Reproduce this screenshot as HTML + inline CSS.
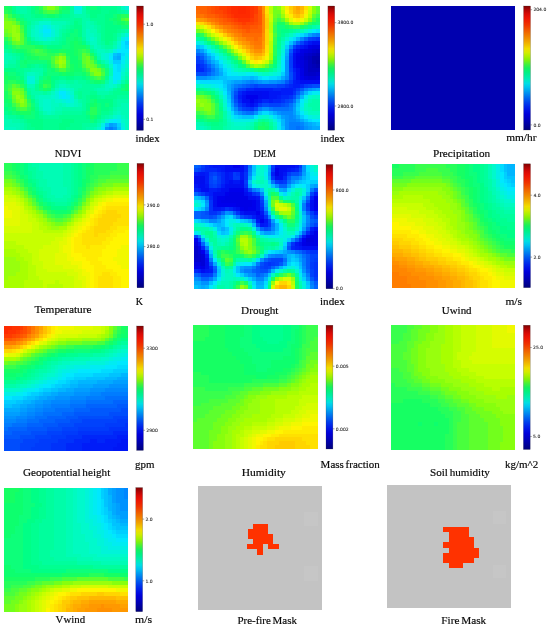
<!DOCTYPE html>
<html lang="en"><head><meta charset="utf-8"><title>Input features</title>
<style>html,body{margin:0;padding:0;background:#fff}body{width:550px;height:628px;overflow:hidden}svg{display:block}.lb{font-family:"Liberation Serif","DejaVu Serif",serif;font-size:11px;fill:#0a0a0a;stroke:#0a0a0a;stroke-width:.18px;word-spacing:-1px}.tk{font-family:"DejaVu Sans","Liberation Sans",sans-serif;font-size:4.5px;fill:#1a1a1a;stroke:#1a1a1a;stroke-width:.07px}</style></head><body>
<svg width="550" height="628" viewBox="0 0 550 628">
<defs><linearGradient id="jet" x1="0" y1="0" x2="0" y2="1"><stop offset="0.0000" stop-color="#870303"/><stop offset="0.0312" stop-color="#bc0606"/><stop offset="0.0625" stop-color="#e50b07"/><stop offset="0.0938" stop-color="#fa1405"/><stop offset="0.1250" stop-color="#fd2502"/><stop offset="0.1562" stop-color="#ff3a00"/><stop offset="0.1875" stop-color="#ff5700"/><stop offset="0.2188" stop-color="#ff7400"/><stop offset="0.2500" stop-color="#ff8f00"/><stop offset="0.2812" stop-color="#ffab00"/><stop offset="0.3125" stop-color="#ffcb00"/><stop offset="0.3438" stop-color="#ffeb00"/><stop offset="0.3750" stop-color="#e3fa00"/><stop offset="0.4062" stop-color="#b7ff03"/><stop offset="0.4375" stop-color="#87ff0e"/><stop offset="0.4688" stop-color="#4aff3e"/><stop offset="0.5000" stop-color="#18ff64"/><stop offset="0.5312" stop-color="#04ff86"/><stop offset="0.5625" stop-color="#00fda9"/><stop offset="0.5938" stop-color="#00f9cc"/><stop offset="0.6250" stop-color="#00ecf2"/><stop offset="0.6562" stop-color="#00cfff"/><stop offset="0.6875" stop-color="#00aaff"/><stop offset="0.7188" stop-color="#0087ff"/><stop offset="0.7500" stop-color="#0064fe"/><stop offset="0.7812" stop-color="#0043fc"/><stop offset="0.8125" stop-color="#0027f9"/><stop offset="0.8438" stop-color="#0010f2"/><stop offset="0.8750" stop-color="#0000e6"/><stop offset="0.9062" stop-color="#0000d0"/><stop offset="0.9375" stop-color="#0000b8"/><stop offset="0.9688" stop-color="#00009e"/><stop offset="1.0000" stop-color="#000083"/></linearGradient><filter id="soft" x="-5%" y="-5%" width="110%" height="110%"><feGaussianBlur stdDeviation="0.55"/></filter></defs>
<rect width="550" height="628" fill="#fff"/>
<g shape-rendering="crispEdges">
<g id="ndvi" filter="url(#soft)">
<rect x="4.10" y="5.90" width="124.40" height="124.50" fill="#01ff91"/>
<path fill="#007bff" d="M109.06 126.51h3.89v3.89h-3.89z"/>
<path fill="#0092ff" d="M105.17 126.51h3.89v3.89h-3.89zM112.95 126.51h3.89v3.89h-3.89z"/>
<path fill="#009eff" d="M109.06 122.62h3.89v3.89h-3.89z"/>
<path fill="#00aaff" d="M116.84 56.48h3.88v3.89h-3.88zM112.95 122.62h3.89v3.89h-3.89z"/>
<path fill="#00b6ff" d="M116.84 52.59h3.88v3.89h-3.88zM112.95 56.48h3.89v3.89h-3.89z"/>
<path fill="#00c3ff" d="M112.95 52.59h3.89v3.89h-3.89zM105.17 122.62h3.89v3.89h-3.89zM116.84 126.51h3.88v3.89h-3.88z"/>
<path fill="#00cfff" d="M124.61 40.92h3.89v3.89h-3.89zM112.95 60.37h7.77v3.89h-7.77zM116.84 122.62h3.88v3.89h-3.88z"/>
<path fill="#00dcff" d="M124.61 44.81h3.89v3.89h-3.89zM120.72 52.59h3.89v3.89h-3.89zM116.84 64.26h3.88v3.89h-3.88zM116.84 68.15h3.88v3.89h-3.88z"/>
<path fill="#00e8fe" d="M42.98 29.24h7.77v3.89h-7.77zM124.61 37.02h3.89v3.9h-3.89zM120.72 40.92h3.89v3.89h-3.89zM120.72 44.81h3.89v3.89h-3.89zM116.84 48.7h11.66v3.89h-11.66zM109.06 56.48h3.89v3.89h-3.89zM120.72 56.48h3.89v3.89h-3.89zM112.95 64.26h3.89v3.89h-3.89zM112.95 68.15h3.89v3.89h-3.89zM112.95 72.04h7.77v3.89h-7.77zM112.95 75.93h7.77v3.89h-7.77zM58.53 91.49h7.77v3.89h-7.77zM62.41 95.38h3.89v3.9h-3.89zM112.95 118.73h3.89v3.89h-3.89zM101.29 126.51h3.88v3.89h-3.88z"/>
<path fill="#00ecf2" d="M42.98 25.35h3.88v3.89h-3.88zM42.98 33.13h7.77v3.89h-7.77zM109.06 52.59h3.89v3.89h-3.89zM124.61 52.59h3.89v3.89h-3.89zM120.72 60.37h3.89v3.89h-3.89zM112.95 79.82h3.89v3.89h-3.89zM58.53 95.38h3.88v3.9h-3.88zM66.3 95.38h3.89v3.9h-3.89zM109.06 118.73h3.89v3.89h-3.89zM116.84 118.73h3.88v3.89h-3.88z"/>
<path fill="#00f0e5" d="M74.08 5.9h7.77v3.89h-7.77zM46.86 25.35h3.89v3.89h-3.89zM39.09 29.24h3.89v3.89h-3.89zM120.72 37.02h3.89v3.9h-3.89zM112.95 48.7h3.89v3.89h-3.89zM124.61 56.48h3.89v3.89h-3.89zM109.06 60.37h3.89v3.89h-3.89zM120.72 64.26h3.89v3.89h-3.89zM66.3 91.49h3.89v3.89h-3.89zM66.3 99.28h3.89v3.89h-3.89zM101.29 122.62h3.88v3.89h-3.88zM120.72 126.51h3.89v3.89h-3.89z"/>
<path fill="#00f4d9" d="M124.61 5.9h3.89v3.89h-3.89zM39.09 25.35h3.89v3.89h-3.89zM50.75 29.24h3.89v3.89h-3.89zM39.09 33.13h3.89v3.89h-3.89zM50.75 33.13h3.89v3.89h-3.89zM124.61 33.13h3.89v3.89h-3.89zM42.98 37.02h3.88v3.9h-3.88zM116.84 44.81h3.88v3.89h-3.88zM105.17 52.59h3.89v3.89h-3.89zM105.17 56.48h3.89v3.89h-3.89zM124.61 60.37h3.89v3.89h-3.89zM120.72 68.15h3.89v3.89h-3.89zM27.43 75.93h7.77v3.89h-7.77zM27.43 79.82h7.77v3.89h-7.77zM116.84 79.82h3.88v3.89h-3.88zM58.53 87.6h7.77v3.89h-7.77zM54.64 91.49h3.89v3.89h-3.89zM54.64 95.38h3.89v3.9h-3.89zM70.19 95.38h3.89v3.9h-3.89zM62.41 99.28h3.89v3.89h-3.89zM70.19 99.28h3.89v3.89h-3.89zM116.84 114.84h3.88v3.89h-3.88zM105.17 118.73h3.89v3.89h-3.89zM120.72 122.62h3.89v3.89h-3.89z"/>
<path fill="#00f9cc" d="M74.08 9.79h7.77v3.89h-7.77zM39.09 21.46h11.66v3.89h-11.66zM35.2 25.35h3.89v3.89h-3.89zM50.75 25.35h3.89v3.89h-3.89zM35.2 29.24h3.89v3.89h-3.89zM35.2 33.13h3.89v3.89h-3.89zM39.09 37.02h3.89v3.9h-3.89zM46.86 37.02h3.89v3.9h-3.89zM89.62 37.02h3.89v3.9h-3.89zM116.84 40.92h3.88v3.89h-3.88zM101.29 52.59h3.88v3.89h-3.88zM101.29 56.48h3.88v3.89h-3.88zM109.06 64.26h3.89v3.89h-3.89zM124.61 64.26h3.89v3.89h-3.89zM120.72 72.04h3.89v3.89h-3.89zM109.06 75.93h3.89v3.89h-3.89zM109.06 79.82h3.89v3.89h-3.89zM109.06 83.71h3.89v3.89h-3.89zM66.3 87.6h3.89v3.89h-3.89zM70.19 91.49h3.89v3.89h-3.89zM50.75 95.38h3.89v3.9h-3.89zM42.98 99.28h7.77v3.89h-7.77zM54.64 99.28h7.77v3.89h-7.77zM42.98 103.17h7.77v3.89h-7.77zM66.3 103.17h7.78v3.89h-7.78zM42.98 107.06h7.77v3.89h-7.77zM112.95 114.84h3.89v3.89h-3.89zM120.72 118.73h3.89v3.89h-3.89zM97.4 126.51h3.89v3.89h-3.89z"/>
<path fill="#00fbc0" d="M120.72 5.9h3.89v3.89h-3.89zM54.64 25.35h3.89v3.89h-3.89zM31.31 29.24h3.89v3.89h-3.89zM54.64 29.24h3.89v3.89h-3.89zM85.74 29.24h3.88v3.89h-3.88zM31.31 33.13h3.89v3.89h-3.89zM54.64 33.13h3.89v3.89h-3.89zM85.74 33.13h7.77v3.89h-7.77zM120.72 33.13h3.89v3.89h-3.89zM35.2 37.02h3.89v3.9h-3.89zM50.75 37.02h3.89v3.9h-3.89zM85.74 37.02h3.88v3.9h-3.88zM93.51 37.02h3.89v3.9h-3.89zM89.62 40.92h7.78v3.89h-7.78zM93.51 44.81h3.89v3.89h-3.89zM97.4 48.7h7.77v3.89h-7.77zM109.06 48.7h3.89v3.89h-3.89zM105.17 60.37h3.89v3.89h-3.89zM124.61 68.15h3.89v3.89h-3.89zM27.43 72.04h7.77v3.89h-7.77zM120.72 75.93h3.89v3.89h-3.89zM58.53 83.71h7.77v3.89h-7.77zM105.17 83.71h3.89v3.89h-3.89zM112.95 83.71h3.89v3.89h-3.89zM54.64 87.6h3.89v3.89h-3.89zM70.19 87.6h3.89v3.89h-3.89zM105.17 87.6h3.89v3.89h-3.89zM50.75 91.49h3.89v3.89h-3.89zM39.09 95.38h11.66v3.9h-11.66zM39.09 99.28h3.89v3.89h-3.89zM50.75 99.28h3.89v3.89h-3.89zM74.08 99.28h3.88v3.89h-3.88zM39.09 103.17h3.89v3.89h-3.89zM50.75 103.17h7.78v3.89h-7.78zM62.41 103.17h3.89v3.89h-3.89zM74.08 103.17h3.88v3.89h-3.88zM50.75 107.06h3.89v3.89h-3.89zM46.86 110.95h3.89v3.89h-3.89zM116.84 110.95h3.88v3.89h-3.88zM120.72 114.84h3.89v3.89h-3.89zM124.61 118.73h3.89v3.89h-3.89zM124.61 122.62h3.89v3.89h-3.89zM4.1 126.51h11.66v3.89h-11.66zM124.61 126.51h3.89v3.89h-3.89z"/>
<path fill="#00fcb5" d="M35.2 21.46h3.89v3.89h-3.89zM50.75 21.46h15.55v3.89h-15.55zM85.74 21.46h3.88v3.89h-3.88zM31.31 25.35h3.89v3.89h-3.89zM58.53 25.35h3.88v3.89h-3.88zM85.74 25.35h7.77v3.89h-7.77zM89.62 29.24h7.78v3.89h-7.78zM93.51 33.13h3.89v3.89h-3.89zM116.84 37.02h3.88v3.9h-3.88zM97.4 44.81h3.89v3.89h-3.89zM112.95 44.81h3.89v3.89h-3.89zM105.17 48.7h3.89v3.89h-3.89zM4.1 52.59h3.89v3.89h-3.89zM97.4 52.59h3.89v3.89h-3.89zM4.1 56.48h7.78v3.89h-7.78zM4.1 60.37h3.89v3.89h-3.89zM109.06 68.15h3.89v3.89h-3.89zM35.2 72.04h3.89v3.89h-3.89zM109.06 72.04h3.89v3.89h-3.89zM124.61 72.04h3.89v3.89h-3.89zM35.2 75.93h3.89v3.89h-3.89zM27.43 83.71h7.77v3.89h-7.77zM66.3 83.71h3.89v3.89h-3.89zM97.4 87.6h7.77v3.89h-7.77zM109.06 87.6h3.89v3.89h-3.89zM35.2 95.38h3.89v3.9h-3.89zM58.53 103.17h3.88v3.89h-3.88zM77.96 103.17h3.89v3.89h-3.89zM120.72 103.17h7.78v3.89h-7.78zM39.09 107.06h3.89v3.89h-3.89zM54.64 107.06h7.77v3.89h-7.77zM116.84 107.06h11.66v3.89h-11.66zM42.98 110.95h3.88v3.89h-3.88zM50.75 110.95h3.89v3.89h-3.89zM112.95 110.95h3.89v3.89h-3.89zM120.72 110.95h7.78v3.89h-7.78zM109.06 114.84h3.89v3.89h-3.89zM124.61 114.84h3.89v3.89h-3.89zM4.1 118.73h7.78v3.89h-7.78zM101.29 118.73h3.88v3.89h-3.88zM4.1 122.62h15.55v3.89h-15.55zM97.4 122.62h3.89v3.89h-3.89zM15.76 126.51h3.89v3.89h-3.89zM93.51 126.51h3.89v3.89h-3.89z"/>
<path fill="#00fda9" d="M15.76 5.9h11.67v3.89h-11.67zM81.85 5.9h3.89v3.89h-3.89zM19.65 9.79h7.78v3.89h-7.78zM81.85 9.79h3.89v3.89h-3.89zM124.61 9.79h3.89v3.89h-3.89zM74.08 13.68h11.66v3.89h-11.66zM42.98 17.57h7.77v3.89h-7.77zM81.85 17.57h7.77v3.89h-7.77zM31.31 21.46h3.89v3.89h-3.89zM66.3 21.46h3.89v3.89h-3.89zM81.85 21.46h3.89v3.89h-3.89zM89.62 21.46h3.89v3.89h-3.89zM62.41 25.35h3.89v3.89h-3.89zM81.85 25.35h3.89v3.89h-3.89zM93.51 25.35h3.89v3.89h-3.89zM58.53 29.24h3.88v3.89h-3.88zM81.85 29.24h3.89v3.89h-3.89zM124.61 29.24h3.89v3.89h-3.89zM58.53 33.13h3.88v3.89h-3.88zM81.85 33.13h3.89v3.89h-3.89zM97.4 33.13h3.89v3.89h-3.89zM116.84 33.13h3.88v3.89h-3.88zM31.31 37.02h3.89v3.9h-3.89zM54.64 37.02h3.89v3.9h-3.89zM97.4 37.02h3.89v3.9h-3.89zM42.98 40.92h7.77v3.89h-7.77zM85.74 40.92h3.88v3.89h-3.88zM97.4 40.92h3.89v3.89h-3.89zM112.95 40.92h3.89v3.89h-3.89zM89.62 44.81h3.89v3.89h-3.89zM101.29 44.81h3.88v3.89h-3.88zM93.51 48.7h3.89v3.89h-3.89zM7.99 52.59h3.89v3.89h-3.89zM11.88 56.48h3.88v3.89h-3.88zM97.4 56.48h3.89v3.89h-3.89zM7.99 60.37h7.77v3.89h-7.77zM101.29 60.37h3.88v3.89h-3.88zM4.1 64.26h3.89v3.89h-3.89zM31.31 68.15h11.67v3.89h-11.67zM23.54 72.04h3.89v3.89h-3.89zM39.09 72.04h3.89v3.89h-3.89zM23.54 75.93h3.89v3.89h-3.89zM124.61 75.93h3.89v3.89h-3.89zM35.2 79.82h3.89v3.89h-3.89zM58.53 79.82h7.77v3.89h-7.77zM74.08 79.82h3.88v3.89h-3.88zM105.17 79.82h3.89v3.89h-3.89zM120.72 79.82h3.89v3.89h-3.89zM54.64 83.71h3.89v3.89h-3.89zM70.19 83.71h11.66v3.89h-11.66zM101.29 83.71h3.88v3.89h-3.88zM116.84 83.71h3.88v3.89h-3.88zM31.31 87.6h3.89v3.89h-3.89zM74.08 87.6h3.88v3.89h-3.88zM93.51 87.6h3.89v3.89h-3.89zM31.31 91.49h11.67v3.89h-11.67zM46.86 91.49h3.89v3.89h-3.89zM97.4 91.49h11.66v3.89h-11.66zM74.08 95.38h3.88v3.9h-3.88zM35.2 99.28h3.89v3.89h-3.89zM77.96 99.28h3.89v3.89h-3.89zM116.84 99.28h11.66v3.89h-11.66zM116.84 103.17h3.88v3.89h-3.88zM62.41 107.06h19.44v3.89h-19.44zM112.95 107.06h3.89v3.89h-3.89zM54.64 110.95h7.77v3.89h-7.77zM4.1 114.84h3.89v3.89h-3.89zM105.17 114.84h3.89v3.89h-3.89zM11.88 118.73h7.77v3.89h-7.77zM19.65 122.62h3.89v3.89h-3.89zM19.65 126.51h3.89v3.89h-3.89zM85.74 126.51h7.77v3.89h-7.77z"/>
<path fill="#00fe9d" d="M27.43 5.9h3.88v3.89h-3.88zM70.19 5.9h3.89v3.89h-3.89zM116.84 5.9h3.88v3.89h-3.88zM15.76 9.79h3.89v3.89h-3.89zM27.43 9.79h3.88v3.89h-3.88zM70.19 9.79h3.89v3.89h-3.89zM120.72 9.79h3.89v3.89h-3.89zM23.54 13.68h7.77v3.89h-7.77zM70.19 13.68h3.89v3.89h-3.89zM85.74 13.68h3.88v3.89h-3.88zM27.43 17.57h15.55v3.89h-15.55zM50.75 17.57h23.33v3.89h-23.33zM70.19 21.46h3.89v3.89h-3.89zM93.51 21.46h3.89v3.89h-3.89zM27.43 25.35h3.88v3.89h-3.88zM66.3 25.35h3.89v3.89h-3.89zM97.4 25.35h3.89v3.89h-3.89zM27.43 29.24h3.88v3.89h-3.88zM62.41 29.24h3.89v3.89h-3.89zM97.4 29.24h3.89v3.89h-3.89zM120.72 29.24h3.89v3.89h-3.89zM27.43 33.13h3.88v3.89h-3.88zM58.53 37.02h3.88v3.9h-3.88zM81.85 37.02h3.89v3.9h-3.89zM39.09 40.92h3.89v3.89h-3.89zM50.75 40.92h7.78v3.89h-7.78zM101.29 40.92h3.88v3.89h-3.88zM105.17 44.81h7.78v3.89h-7.78zM4.1 48.7h3.89v3.89h-3.89zM11.88 52.59h3.88v3.89h-3.88zM15.76 56.48h3.89v3.89h-3.89zM7.99 64.26h7.77v3.89h-7.77zM35.2 64.26h3.89v3.89h-3.89zM105.17 64.26h3.89v3.89h-3.89zM23.54 68.15h7.77v3.89h-7.77zM23.54 79.82h3.89v3.89h-3.89zM54.64 79.82h3.89v3.89h-3.89zM66.3 79.82h7.78v3.89h-7.78zM77.96 79.82h7.78v3.89h-7.78zM81.85 83.71h19.44v3.89h-19.44zM27.43 87.6h3.88v3.89h-3.88zM50.75 87.6h3.89v3.89h-3.89zM77.96 87.6h15.55v3.89h-15.55zM112.95 87.6h3.89v3.89h-3.89zM42.98 91.49h3.88v3.89h-3.88zM74.08 91.49h3.88v3.89h-3.88zM81.85 91.49h7.77v3.89h-7.77zM109.06 91.49h3.89v3.89h-3.89zM31.31 95.38h3.89v3.9h-3.89zM81.85 95.38h3.89v3.9h-3.89zM101.29 95.38h3.88v3.9h-3.88zM116.84 95.38h11.66v3.9h-11.66zM81.85 99.28h3.89v3.89h-3.89zM112.95 99.28h3.89v3.89h-3.89zM35.2 103.17h3.89v3.89h-3.89zM81.85 103.17h3.89v3.89h-3.89zM112.95 103.17h3.89v3.89h-3.89zM81.85 107.06h3.89v3.89h-3.89zM39.09 110.95h3.89v3.89h-3.89zM62.41 110.95h19.44v3.89h-19.44zM109.06 110.95h3.89v3.89h-3.89zM7.99 114.84h7.77v3.89h-7.77zM42.98 114.84h15.55v3.89h-15.55zM101.29 114.84h3.88v3.89h-3.88zM19.65 118.73h3.89v3.89h-3.89zM97.4 118.73h3.89v3.89h-3.89zM23.54 122.62h3.89v3.89h-3.89zM81.85 122.62h15.55v3.89h-15.55zM23.54 126.51h3.89v3.89h-3.89zM81.85 126.51h3.89v3.89h-3.89z"/>
<path fill="#04ff86" d="M31.31 5.9h3.89v3.89h-3.89zM85.74 5.9h3.88v3.89h-3.88zM97.4 5.9h3.89v3.89h-3.89zM11.88 9.79h3.88v3.89h-3.88zM31.31 9.79h3.89v3.89h-3.89zM89.62 9.79h11.67v3.89h-11.67zM109.06 9.79h7.78v3.89h-7.78zM35.2 13.68h7.78v3.89h-7.78zM58.53 13.68h3.88v3.89h-3.88zM89.62 13.68h7.78v3.89h-7.78zM105.17 13.68h7.78v3.89h-7.78zM105.17 17.57h3.89v3.89h-3.89zM74.08 21.46h3.88v3.89h-3.88zM105.17 21.46h7.78v3.89h-7.78zM74.08 25.35h7.77v3.89h-7.77zM105.17 25.35h15.55v3.89h-15.55zM70.19 29.24h3.89v3.89h-3.89zM77.96 29.24h3.89v3.89h-3.89zM105.17 29.24h11.67v3.89h-11.67zM66.3 33.13h3.89v3.89h-3.89zM77.96 33.13h3.89v3.89h-3.89zM105.17 33.13h7.78v3.89h-7.78zM27.43 37.02h3.88v3.9h-3.88zM105.17 37.02h7.78v3.9h-7.78zM31.31 40.92h3.89v3.89h-3.89zM62.41 40.92h3.89v3.89h-3.89zM81.85 40.92h3.89v3.89h-3.89zM105.17 40.92h3.89v3.89h-3.89zM4.1 44.81h3.89v3.89h-3.89zM46.86 44.81h15.55v3.89h-15.55zM19.65 52.59h3.89v3.89h-3.89zM19.65 56.48h3.89v3.89h-3.89zM97.4 60.37h3.89v3.89h-3.89zM27.43 64.26h3.88v3.89h-3.88zM42.98 64.26h3.88v3.89h-3.88zM4.1 68.15h11.66v3.89h-11.66zM15.76 72.04h3.89v3.89h-3.89zM42.98 72.04h3.88v3.89h-3.88zM19.65 75.93h3.89v3.89h-3.89zM50.75 75.93h7.78v3.89h-7.78zM66.3 75.93h7.78v3.89h-7.78zM81.85 75.93h3.89v3.89h-3.89zM50.75 79.82h3.89v3.89h-3.89zM50.75 83.71h3.89v3.89h-3.89zM120.72 83.71h3.89v3.89h-3.89zM89.62 95.38h7.78v3.9h-7.78zM31.31 99.28h3.89v3.89h-3.89zM97.4 99.28h15.55v3.89h-15.55zM85.74 103.17h3.88v3.89h-3.88zM101.29 103.17h3.88v3.89h-3.88zM109.06 103.17h3.89v3.89h-3.89zM4.1 107.06h3.89v3.89h-3.89zM85.74 107.06h3.88v3.89h-3.88zM101.29 107.06h7.77v3.89h-7.77zM7.99 110.95h3.89v3.89h-3.89zM35.2 110.95h3.89v3.89h-3.89zM19.65 114.84h3.89v3.89h-3.89zM35.2 114.84h3.89v3.89h-3.89zM85.74 114.84h3.88v3.89h-3.88zM97.4 114.84h3.89v3.89h-3.89zM27.43 118.73h15.55v3.89h-15.55zM62.41 118.73h11.67v3.89h-11.67zM93.51 118.73h3.89v3.89h-3.89zM31.31 122.62h11.67v3.89h-11.67zM58.53 122.62h11.66v3.89h-11.66zM35.2 126.51h7.78v3.89h-7.78zM58.53 126.51h7.77v3.89h-7.77z"/>
<path fill="#07ff7a" d="M89.62 5.9h7.78v3.89h-7.78zM35.2 9.79h3.89v3.89h-3.89zM62.41 9.79h7.78v3.89h-7.78zM15.76 13.68h3.89v3.89h-3.89zM42.98 13.68h3.88v3.89h-3.88zM54.64 13.68h3.89v3.89h-3.89zM112.95 13.68h3.89v3.89h-3.89zM19.65 17.57h3.89v3.89h-3.89zM109.06 17.57h3.89v3.89h-3.89zM23.54 21.46h3.89v3.89h-3.89zM112.95 21.46h3.89v3.89h-3.89zM120.72 25.35h7.78v3.89h-7.78zM74.08 29.24h3.88v3.89h-3.88zM70.19 33.13h7.77v3.89h-7.77zM66.3 37.02h7.78v3.9h-7.78zM77.96 37.02h3.89v3.9h-3.89zM66.3 40.92h3.89v3.89h-3.89zM7.99 44.81h3.89v3.89h-3.89zM42.98 44.81h3.88v3.89h-3.88zM62.41 44.81h7.78v3.89h-7.78zM85.74 44.81h3.88v3.89h-3.88zM11.88 48.7h3.88v3.89h-3.88zM23.54 56.48h3.89v3.89h-3.89zM19.65 60.37h3.89v3.89h-3.89zM27.43 60.37h19.43v3.89h-19.43zM19.65 64.26h7.78v3.89h-7.78zM101.29 64.26h3.88v3.89h-3.88zM46.86 68.15h3.89v3.89h-3.89zM105.17 68.15h3.89v3.89h-3.89zM7.99 72.04h7.77v3.89h-7.77zM46.86 72.04h11.67v3.89h-11.67zM74.08 72.04h7.77v3.89h-7.77zM105.17 72.04h3.89v3.89h-3.89zM15.76 75.93h3.89v3.89h-3.89zM42.98 75.93h3.88v3.89h-3.88zM85.74 75.93h3.88v3.89h-3.88zM39.09 79.82h3.89v3.89h-3.89zM89.62 79.82h3.89v3.89h-3.89zM101.29 79.82h3.88v3.89h-3.88zM23.54 83.71h3.89v3.89h-3.89zM39.09 87.6h3.89v3.89h-3.89zM120.72 87.6h3.89v3.89h-3.89zM27.43 95.38h3.88v3.9h-3.88zM89.62 99.28h3.89v3.89h-3.89zM4.1 103.17h3.89v3.89h-3.89zM31.31 103.17h3.89v3.89h-3.89zM97.4 103.17h3.89v3.89h-3.89zM105.17 103.17h3.89v3.89h-3.89zM7.99 107.06h3.89v3.89h-3.89zM97.4 107.06h3.89v3.89h-3.89zM11.88 110.95h3.88v3.89h-3.88zM31.31 110.95h3.89v3.89h-3.89zM85.74 110.95h3.88v3.89h-3.88zM97.4 110.95h3.89v3.89h-3.89zM23.54 114.84h11.66v3.89h-11.66zM89.62 118.73h3.89v3.89h-3.89z"/>
<path fill="#0aff6e" d="M7.99 5.9h3.89v3.89h-3.89zM35.2 5.9h3.89v3.89h-3.89zM66.3 5.9h3.89v3.89h-3.89zM46.86 13.68h7.78v3.89h-7.78zM112.95 17.57h3.89v3.89h-3.89zM116.84 21.46h3.88v3.89h-3.88zM23.54 25.35h3.89v3.89h-3.89zM23.54 29.24h3.89v3.89h-3.89zM74.08 37.02h3.88v3.9h-3.88zM4.1 40.92h3.89v3.89h-3.89zM27.43 40.92h3.88v3.89h-3.88zM70.19 40.92h3.89v3.89h-3.89zM77.96 40.92h3.89v3.89h-3.89zM70.19 44.81h3.89v3.89h-3.89zM15.76 48.7h7.78v3.89h-7.78zM50.75 48.7h7.78v3.89h-7.78zM66.3 48.7h7.78v3.89h-7.78zM23.54 52.59h3.89v3.89h-3.89zM70.19 52.59h3.89v3.89h-3.89zM27.43 56.48h3.88v3.89h-3.88zM70.19 56.48h7.77v3.89h-7.77zM93.51 56.48h3.89v3.89h-3.89zM23.54 60.37h3.89v3.89h-3.89zM70.19 60.37h7.77v3.89h-7.77zM46.86 64.26h3.89v3.89h-3.89zM74.08 64.26h3.88v3.89h-3.88zM50.75 68.15h3.89v3.89h-3.89zM74.08 68.15h7.77v3.89h-7.77zM4.1 72.04h3.89v3.89h-3.89zM58.53 72.04h3.88v3.89h-3.88zM66.3 72.04h7.78v3.89h-7.78zM81.85 72.04h3.89v3.89h-3.89zM7.99 75.93h7.77v3.89h-7.77zM46.86 75.93h3.89v3.89h-3.89zM19.65 79.82h3.89v3.89h-3.89zM93.51 79.82h7.78v3.89h-7.78zM39.09 83.71h3.89v3.89h-3.89zM124.61 83.71h3.89v3.89h-3.89zM46.86 87.6h3.89v3.89h-3.89zM124.61 87.6h3.89v3.89h-3.89zM4.1 99.28h3.89v3.89h-3.89zM93.51 99.28h3.89v3.89h-3.89zM7.99 103.17h3.89v3.89h-3.89zM89.62 103.17h3.89v3.89h-3.89zM31.31 107.06h3.89v3.89h-3.89zM15.76 110.95h3.89v3.89h-3.89zM93.51 114.84h3.89v3.89h-3.89z"/>
<path fill="#18ff64" d="M4.1 5.9h3.89v3.89h-3.89zM62.41 5.9h3.89v3.89h-3.89zM7.99 9.79h3.89v3.89h-3.89zM39.09 9.79h3.89v3.89h-3.89zM58.53 9.79h3.88v3.89h-3.88zM11.88 13.68h3.88v3.89h-3.88zM116.84 13.68h3.88v3.89h-3.88zM15.76 17.57h3.89v3.89h-3.89zM116.84 17.57h3.88v3.89h-3.88zM19.65 21.46h3.89v3.89h-3.89zM120.72 21.46h3.89v3.89h-3.89zM23.54 33.13h3.89v3.89h-3.89zM74.08 40.92h3.88v3.89h-3.88zM35.2 44.81h7.78v3.89h-7.78zM74.08 44.81h11.66v3.89h-11.66zM23.54 48.7h3.89v3.89h-3.89zM46.86 48.7h3.89v3.89h-3.89zM58.53 48.7h7.77v3.89h-7.77zM74.08 48.7h3.88v3.89h-3.88zM27.43 52.59h3.88v3.89h-3.88zM66.3 52.59h3.89v3.89h-3.89zM74.08 52.59h3.88v3.89h-3.88zM89.62 52.59h3.89v3.89h-3.89zM31.31 56.48h7.78v3.89h-7.78zM46.86 60.37h3.89v3.89h-3.89zM77.96 60.37h3.89v3.89h-3.89zM70.19 64.26h3.89v3.89h-3.89zM77.96 64.26h3.89v3.89h-3.89zM70.19 68.15h3.89v3.89h-3.89zM62.41 72.04h3.89v3.89h-3.89zM4.1 75.93h3.89v3.89h-3.89zM4.1 79.82h3.89v3.89h-3.89zM15.76 79.82h3.89v3.89h-3.89zM42.98 79.82h7.77v3.89h-7.77zM23.54 87.6h3.89v3.89h-3.89zM42.98 87.6h3.88v3.89h-3.88zM4.1 91.49h3.89v3.89h-3.89zM4.1 95.38h3.89v3.9h-3.89zM7.99 99.28h3.89v3.89h-3.89zM93.51 103.17h3.89v3.89h-3.89zM11.88 107.06h3.88v3.89h-3.88zM19.65 110.95h11.66v3.89h-11.66zM89.62 114.84h3.89v3.89h-3.89z"/>
<path fill="#27ff5a" d="M39.09 5.9h3.89v3.89h-3.89zM58.53 5.9h3.88v3.89h-3.88zM4.1 9.79h3.89v3.89h-3.89zM120.72 13.68h7.78v3.89h-7.78zM124.61 21.46h3.89v3.89h-3.89zM4.1 37.02h3.89v3.9h-3.89zM23.54 37.02h3.89v3.9h-3.89zM7.99 40.92h3.89v3.89h-3.89zM23.54 40.92h3.89v3.89h-3.89zM11.88 44.81h3.88v3.89h-3.88zM19.65 44.81h15.55v3.89h-15.55zM27.43 48.7h3.88v3.89h-3.88zM42.98 48.7h3.88v3.89h-3.88zM77.96 48.7h3.89v3.89h-3.89zM85.74 48.7h3.88v3.89h-3.88zM31.31 52.59h3.89v3.89h-3.89zM46.86 52.59h7.78v3.89h-7.78zM77.96 52.59h3.89v3.89h-3.89zM39.09 56.48h11.66v3.89h-11.66zM66.3 56.48h3.89v3.89h-3.89zM77.96 56.48h3.89v3.89h-3.89zM93.51 60.37h3.89v3.89h-3.89zM97.4 64.26h3.89v3.89h-3.89zM54.64 68.15h3.89v3.89h-3.89zM66.3 68.15h3.89v3.89h-3.89zM81.85 68.15h3.89v3.89h-3.89zM85.74 72.04h3.88v3.89h-3.88zM89.62 75.93h3.89v3.89h-3.89zM101.29 75.93h3.88v3.89h-3.88zM7.99 79.82h7.77v3.89h-7.77zM4.1 83.71h3.89v3.89h-3.89zM19.65 83.71h3.89v3.89h-3.89zM46.86 83.71h3.89v3.89h-3.89zM4.1 87.6h3.89v3.89h-3.89zM7.99 95.38h3.89v3.9h-3.89zM27.43 99.28h3.88v3.89h-3.88zM27.43 107.06h3.88v3.89h-3.88zM89.62 107.06h7.78v3.89h-7.78zM89.62 110.95h7.78v3.89h-7.78z"/>
<path fill="#38ff4d" d="M42.98 9.79h3.88v3.89h-3.88zM54.64 9.79h3.89v3.89h-3.89zM7.99 13.68h3.89v3.89h-3.89zM19.65 25.35h3.89v3.89h-3.89zM15.76 44.81h3.89v3.89h-3.89zM31.31 48.7h3.89v3.89h-3.89zM39.09 48.7h3.89v3.89h-3.89zM81.85 48.7h3.89v3.89h-3.89zM35.2 52.59h11.66v3.89h-11.66zM54.64 52.59h3.89v3.89h-3.89zM89.62 56.48h3.89v3.89h-3.89zM66.3 60.37h3.89v3.89h-3.89zM50.75 64.26h3.89v3.89h-3.89zM66.3 64.26h3.89v3.89h-3.89zM101.29 68.15h3.88v3.89h-3.88zM93.51 75.93h3.89v3.89h-3.89zM7.99 83.71h3.89v3.89h-3.89zM42.98 83.71h3.88v3.89h-3.88zM7.99 91.49h3.89v3.89h-3.89zM23.54 91.49h3.89v3.89h-3.89zM11.88 103.17h3.88v3.89h-3.88zM27.43 103.17h3.88v3.89h-3.88zM15.76 107.06h3.89v3.89h-3.89z"/>
<path fill="#4aff3e" d="M46.86 9.79h7.78v3.89h-7.78zM11.88 17.57h3.88v3.89h-3.88zM120.72 17.57h3.89v3.89h-3.89zM15.76 21.46h3.89v3.89h-3.89zM19.65 29.24h3.89v3.89h-3.89zM7.99 37.02h3.89v3.9h-3.89zM35.2 48.7h3.89v3.89h-3.89zM62.41 52.59h3.89v3.89h-3.89zM85.74 52.59h3.88v3.89h-3.88zM50.75 56.48h3.89v3.89h-3.89zM50.75 60.37h3.89v3.89h-3.89zM81.85 64.26h3.89v3.89h-3.89zM58.53 68.15h7.77v3.89h-7.77zM85.74 68.15h3.88v3.89h-3.88zM101.29 72.04h3.88v3.89h-3.88zM97.4 75.93h3.89v3.89h-3.89zM15.76 83.71h3.89v3.89h-3.89zM7.99 87.6h3.89v3.89h-3.89zM23.54 95.38h3.89v3.9h-3.89zM19.65 107.06h7.78v3.89h-7.78z"/>
<path fill="#5dff2f" d="M42.98 5.9h3.88v3.89h-3.88zM54.64 5.9h3.89v3.89h-3.89zM4.1 13.68h3.89v3.89h-3.89zM7.99 17.57h3.89v3.89h-3.89zM124.61 17.57h3.89v3.89h-3.89zM4.1 33.13h3.89v3.89h-3.89zM19.65 33.13h3.89v3.89h-3.89zM19.65 37.02h3.89v3.9h-3.89zM11.88 40.92h3.88v3.89h-3.88zM19.65 40.92h3.89v3.89h-3.89zM58.53 52.59h3.88v3.89h-3.88zM81.85 52.59h3.89v3.89h-3.89zM81.85 56.48h3.89v3.89h-3.89zM81.85 60.37h3.89v3.89h-3.89zM89.62 60.37h3.89v3.89h-3.89zM54.64 64.26h3.89v3.89h-3.89zM93.51 64.26h3.89v3.89h-3.89zM89.62 72.04h3.89v3.89h-3.89zM11.88 83.71h3.88v3.89h-3.88zM19.65 87.6h3.89v3.89h-3.89zM11.88 99.28h3.88v3.89h-3.88zM15.76 103.17h3.89v3.89h-3.89z"/>
<path fill="#72ff1f" d="M4.1 17.57h3.89v3.89h-3.89zM11.88 21.46h3.88v3.89h-3.88zM4.1 29.24h3.89v3.89h-3.89zM7.99 33.13h3.89v3.89h-3.89zM15.76 40.92h3.89v3.89h-3.89zM54.64 56.48h3.89v3.89h-3.89zM85.74 56.48h3.88v3.89h-3.88zM85.74 60.37h3.88v3.89h-3.88zM85.74 64.26h7.77v3.89h-7.77zM97.4 68.15h3.89v3.89h-3.89zM11.88 87.6h7.77v3.89h-7.77zM19.65 91.49h3.89v3.89h-3.89zM11.88 95.38h3.88v3.9h-3.88zM23.54 99.28h3.89v3.89h-3.89zM23.54 103.17h3.89v3.89h-3.89z"/>
<path fill="#87ff0e" d="M46.86 5.9h7.78v3.89h-7.78zM4.1 21.46h7.78v3.89h-7.78zM4.1 25.35h7.78v3.89h-7.78zM15.76 25.35h3.89v3.89h-3.89zM7.99 29.24h3.89v3.89h-3.89zM15.76 29.24h3.89v3.89h-3.89zM11.88 37.02h3.88v3.9h-3.88zM62.41 56.48h3.89v3.89h-3.89zM54.64 60.37h3.89v3.89h-3.89zM62.41 64.26h3.89v3.89h-3.89zM89.62 68.15h7.78v3.89h-7.78zM93.51 72.04h7.78v3.89h-7.78zM11.88 91.49h7.77v3.89h-7.77zM19.65 95.38h3.89v3.9h-3.89zM15.76 99.28h3.89v3.89h-3.89zM19.65 103.17h3.89v3.89h-3.89z"/>
<path fill="#98ff08" d="M11.88 25.35h3.88v3.89h-3.88zM11.88 29.24h3.88v3.89h-3.88zM11.88 33.13h7.77v3.89h-7.77zM15.76 37.02h3.89v3.9h-3.89zM58.53 56.48h3.88v3.89h-3.88zM62.41 60.37h3.89v3.89h-3.89zM58.53 64.26h3.88v3.89h-3.88zM15.76 95.38h3.89v3.9h-3.89zM19.65 99.28h3.89v3.89h-3.89z"/>
<path fill="#a8ff05" d="M58.53 60.37h3.88v3.89h-3.88z"/>
</g>
<g id="dem" filter="url(#soft)">
<rect x="195.80" y="6.00" width="123.80" height="124.20" fill="#0092ff"/>
<path fill="#0000a6" d="M315.73 60.34h3.87v3.88h-3.87z"/>
<path fill="#0000af" d="M311.86 56.46h7.74v3.88h-7.74zM311.86 60.34h3.87v3.88h-3.87zM315.73 64.22h3.87v3.88h-3.87z"/>
<path fill="#0000b8" d="M315.73 52.57h3.87v3.89h-3.87zM311.86 64.22h3.87v3.88h-3.87z"/>
<path fill="#0000c0" d="M311.86 52.57h3.87v3.89h-3.87zM307.99 56.46h3.87v3.88h-3.87zM307.99 60.34h3.87v3.88h-3.87zM307.99 64.22h3.87v3.88h-3.87zM307.99 68.1h11.61v3.88h-11.61z"/>
<path fill="#0000c9" d="M315.73 48.69h3.87v3.88h-3.87zM307.99 52.57h3.87v3.89h-3.87zM304.12 56.46h3.87v3.88h-3.87zM307.99 71.98h7.74v3.88h-7.74z"/>
<path fill="#0000d0" d="M311.86 48.69h3.87v3.88h-3.87zM304.12 52.57h3.87v3.89h-3.87zM304.12 60.34h3.87v3.88h-3.87zM304.12 64.22h3.87v3.88h-3.87zM304.12 68.1h3.87v3.88h-3.87zM304.12 71.98h3.87v3.88h-3.87zM315.73 71.98h3.87v3.88h-3.87z"/>
<path fill="#0000d8" d="M307.99 48.69h3.87v3.88h-3.87zM300.26 56.46h3.86v3.88h-3.86zM307.99 75.86h7.74v3.88h-7.74z"/>
<path fill="#0000df" d="M311.86 44.81h7.74v3.88h-7.74zM304.12 48.69h3.87v3.88h-3.87zM300.26 52.57h3.86v3.89h-3.86zM300.26 60.34h3.86v3.88h-3.86zM300.26 64.22h3.86v3.88h-3.86zM304.12 75.86h3.87v3.88h-3.87zM315.73 75.86h3.87v3.88h-3.87z"/>
<path fill="#0000e6" d="M307.99 44.81h3.87v3.88h-3.87zM300.26 48.69h3.86v3.88h-3.86zM296.39 56.46h3.87v3.88h-3.87zM296.39 60.34h3.87v3.88h-3.87zM300.26 68.1h3.86v3.88h-3.86zM300.26 71.98h3.86v3.88h-3.86z"/>
<path fill="#0002ec" d="M296.39 52.57h3.87v3.89h-3.87zM296.39 64.22h3.87v3.88h-3.87zM300.26 75.86h3.86v3.88h-3.86zM246.09 95.27h11.61v3.88h-11.61zM249.96 99.15h3.87v3.88h-3.87z"/>
<path fill="#0009ef" d="M311.86 40.93h7.74v3.88h-7.74zM304.12 44.81h3.87v3.88h-3.87zM296.39 48.69h3.87v3.88h-3.87zM292.52 56.46h3.87v3.88h-3.87zM292.52 60.34h3.87v3.88h-3.87zM296.39 68.1h3.87v3.88h-3.87zM249.96 91.39h11.61v3.88h-11.61zM257.7 95.27h3.87v3.88h-3.87zM246.09 99.15h3.87v3.88h-3.87zM253.83 99.15h3.87v3.88h-3.87z"/>
<path fill="#0010f2" d="M292.52 52.57h3.87v3.89h-3.87zM292.52 64.22h3.87v3.88h-3.87zM296.39 71.98h3.87v3.88h-3.87zM296.39 75.86h3.87v3.88h-3.87zM300.26 79.74h19.34v3.88h-19.34zM246.09 91.39h3.87v3.88h-3.87zM261.57 91.39h7.74v3.88h-7.74zM242.23 95.27h3.86v3.88h-3.86zM261.57 95.27h7.74v3.88h-7.74zM242.23 99.15h3.86v3.88h-3.86zM249.96 103.03h3.87v3.88h-3.87z"/>
<path fill="#0017f5" d="M307.99 40.93h3.87v3.88h-3.87zM300.26 44.81h3.86v3.88h-3.86zM296.39 79.74h3.87v3.88h-3.87zM242.23 91.39h3.86v3.88h-3.86zM269.31 91.39h11.6v3.88h-11.6zM269.31 95.27h7.73v3.88h-7.73zM257.7 99.15h3.87v3.88h-3.87zM246.09 103.03h3.87v3.88h-3.87z"/>
<path fill="#001df8" d="M292.52 48.69h3.87v3.88h-3.87zM292.52 68.1h3.87v3.88h-3.87zM292.52 79.74h3.87v3.88h-3.87zM292.52 83.62h7.74v3.89h-7.74zM253.83 87.51h19.35v3.88h-19.35zM280.91 87.51h11.61v3.88h-11.61zM280.91 91.39h11.61v3.88h-11.61zM238.36 95.27h3.87v3.88h-3.87zM277.04 95.27h3.87v3.88h-3.87zM269.31 99.15h3.87v3.88h-3.87zM253.83 103.03h3.87v3.88h-3.87z"/>
<path fill="#0027f9" d="M304.12 40.93h3.87v3.88h-3.87zM296.39 44.81h3.87v3.88h-3.87zM195.8 64.22h3.87v3.88h-3.87zM195.8 68.1h7.74v3.88h-7.74zM292.52 71.98h3.87v3.88h-3.87zM292.52 75.86h3.87v3.88h-3.87zM288.65 83.62h3.87v3.89h-3.87zM300.26 83.62h3.86v3.89h-3.86zM246.09 87.51h7.74v3.88h-7.74zM273.18 87.51h7.73v3.88h-7.73zM292.52 87.51h3.87v3.88h-3.87zM238.36 91.39h3.87v3.88h-3.87zM280.91 95.27h7.74v3.88h-7.74zM238.36 99.15h3.87v3.88h-3.87zM261.57 99.15h7.74v3.88h-7.74zM273.18 99.15h7.73v3.88h-7.73zM242.23 103.03h3.86v3.88h-3.86z"/>
<path fill="#0030fa" d="M315.73 37.05h3.87v3.88h-3.87zM199.67 64.22h3.87v3.88h-3.87zM284.78 83.62h3.87v3.89h-3.87zM292.52 91.39h3.87v3.88h-3.87zM288.65 95.27h3.87v3.88h-3.87zM280.91 99.15h3.87v3.88h-3.87zM249.96 106.91h3.87v3.88h-3.87z"/>
<path fill="#003afb" d="M311.86 37.05h3.87v3.88h-3.87zM288.65 56.46h3.87v3.88h-3.87zM195.8 60.34h3.87v3.88h-3.87zM288.65 60.34h3.87v3.88h-3.87zM288.65 64.22h3.87v3.88h-3.87zM203.54 68.1h3.87v3.88h-3.87zM288.65 79.74h3.87v3.88h-3.87zM304.12 83.62h3.87v3.89h-3.87zM242.23 87.51h3.86v3.88h-3.86zM296.39 87.51h3.87v3.88h-3.87zM238.36 103.03h3.87v3.88h-3.87zM257.7 103.03h3.87v3.88h-3.87zM246.09 106.91h3.87v3.88h-3.87z"/>
<path fill="#0043fc" d="M307.99 37.05h3.87v3.88h-3.87zM300.26 40.93h3.86v3.88h-3.86zM292.52 44.81h3.87v3.88h-3.87zM288.65 52.57h3.87v3.89h-3.87zM195.8 56.46h3.87v3.88h-3.87zM199.67 60.34h3.87v3.88h-3.87zM203.54 64.22h3.87v3.88h-3.87zM288.65 68.1h3.87v3.88h-3.87zM253.83 83.62h3.87v3.89h-3.87zM277.04 83.62h7.74v3.89h-7.74zM307.99 83.62h3.87v3.89h-3.87zM238.36 87.51h3.87v3.88h-3.87zM234.49 95.27h3.87v3.88h-3.87zM284.78 99.15h3.87v3.88h-3.87zM269.31 103.03h11.6v3.88h-11.6zM242.23 106.91h3.86v3.88h-3.86z"/>
<path fill="#004efc" d="M207.41 68.1h3.87v3.88h-3.87zM195.8 71.98h11.61v3.88h-11.61zM288.65 71.98h3.87v3.88h-3.87zM288.65 75.86h3.87v3.88h-3.87zM249.96 83.62h3.87v3.89h-3.87zM257.7 83.62h19.34v3.89h-19.34zM311.86 83.62h7.74v3.89h-7.74zM234.49 91.39h3.87v3.88h-3.87zM292.52 95.27h3.87v3.88h-3.87zM234.49 99.15h3.87v3.88h-3.87zM288.65 99.15h3.87v3.88h-3.87zM261.57 103.03h7.74v3.88h-7.74zM280.91 103.03h3.87v3.88h-3.87zM253.83 106.91h3.87v3.88h-3.87z"/>
<path fill="#0059fd" d="M288.65 48.69h3.87v3.88h-3.87zM199.67 56.46h3.87v3.88h-3.87zM284.78 79.74h3.87v3.88h-3.87zM246.09 83.62h3.87v3.89h-3.87zM300.26 87.51h3.86v3.88h-3.86zM296.39 91.39h3.87v3.88h-3.87zM284.78 103.03h3.87v3.88h-3.87zM238.36 106.91h3.87v3.88h-3.87z"/>
<path fill="#0064fe" d="M304.12 37.05h3.87v3.88h-3.87zM296.39 40.93h3.87v3.88h-3.87zM195.8 52.57h3.87v3.89h-3.87zM203.54 60.34h3.87v3.88h-3.87zM207.41 64.22h3.87v3.88h-3.87zM207.41 71.98h3.87v3.88h-3.87zM242.23 83.62h3.86v3.89h-3.86zM234.49 87.51h3.87v3.88h-3.87zM234.49 103.03h3.87v3.88h-3.87z"/>
<path fill="#0070fe" d="M199.67 52.57h3.87v3.89h-3.87zM211.28 68.1h3.86v3.88h-3.86zM238.36 83.62h3.87v3.89h-3.87zM292.52 99.15h3.87v3.88h-3.87zM288.65 103.03h3.87v3.88h-3.87zM273.18 106.91h15.47v3.88h-15.47zM246.09 110.79h7.74v3.88h-7.74zM296.39 126.32h3.87v3.88h-3.87z"/>
<path fill="#007bff" d="M315.73 33.17h3.87v3.88h-3.87zM203.54 56.46h3.87v3.88h-3.87zM211.28 71.98h3.86v3.88h-3.86zM249.96 79.74h3.87v3.88h-3.87zM280.91 79.74h3.87v3.88h-3.87zM234.49 83.62h3.87v3.89h-3.87zM304.12 87.51h3.87v3.88h-3.87zM230.62 91.39h3.87v3.88h-3.87zM230.62 95.27h3.87v3.88h-3.87zM296.39 95.27h3.87v3.88h-3.87zM257.7 106.91h3.87v3.88h-3.87zM269.31 106.91h3.87v3.88h-3.87zM288.65 106.91h3.87v3.88h-3.87zM242.23 110.79h3.86v3.88h-3.86zM288.65 122.44h11.61v3.88h-11.61zM288.65 126.32h7.74v3.88h-7.74zM300.26 126.32h3.86v3.88h-3.86z"/>
<path fill="#0087ff" d="M311.86 33.17h3.87v3.88h-3.87zM300.26 37.05h3.86v3.88h-3.86zM288.65 44.81h3.87v3.88h-3.87zM195.8 48.69h3.87v3.88h-3.87zM207.41 60.34h3.87v3.88h-3.87zM211.28 64.22h3.86v3.88h-3.86zM284.78 75.86h3.87v3.88h-3.87zM246.09 79.74h3.87v3.88h-3.87zM253.83 79.74h3.87v3.88h-3.87zM277.04 79.74h3.87v3.88h-3.87zM230.62 87.51h3.87v3.88h-3.87zM300.26 91.39h3.86v3.88h-3.86zM230.62 99.15h3.87v3.88h-3.87zM234.49 106.91h3.87v3.88h-3.87zM280.91 110.79h11.61v3.88h-11.61zM288.65 114.67h3.87v3.89h-3.87zM288.65 118.56h7.74v3.88h-7.74zM300.26 122.44h3.86v3.88h-3.86z"/>
<path fill="#009eff" d="M307.99 33.17h3.87v3.88h-3.87zM199.67 48.69h3.87v3.88h-3.87zM207.41 56.46h3.87v3.88h-3.87zM284.78 56.46h3.87v3.88h-3.87zM207.41 75.86h3.87v3.88h-3.87zM234.49 79.74h7.74v3.88h-7.74zM261.57 79.74h7.74v3.88h-7.74zM311.86 87.51h3.87v3.88h-3.87zM230.62 103.03h3.87v3.88h-3.87zM292.52 106.91h3.87v3.88h-3.87zM292.52 110.79h3.87v3.88h-3.87zM280.91 114.67h3.87v3.89h-3.87zM304.12 122.44h3.87v3.88h-3.87zM307.99 126.32h3.87v3.88h-3.87z"/>
<path fill="#00aaff" d="M284.78 52.57h3.87v3.89h-3.87zM211.28 60.34h3.86v3.88h-3.86zM215.14 64.22h3.87v3.88h-3.87zM219.01 71.98h3.87v3.88h-3.87zM211.28 75.86h3.86v3.88h-3.86zM280.91 75.86h3.87v3.88h-3.87zM230.62 79.74h3.87v3.88h-3.87zM226.75 83.62h3.87v3.89h-3.87zM226.75 87.51h3.87v3.88h-3.87zM315.73 87.51h3.87v3.88h-3.87zM296.39 99.15h3.87v3.88h-3.87zM234.49 110.79h3.87v3.88h-3.87zM273.18 110.79h3.86v3.88h-3.86zM296.39 114.67h3.87v3.89h-3.87zM300.26 118.56h3.86v3.88h-3.86zM307.99 122.44h3.87v3.88h-3.87zM311.86 126.32h7.74v3.88h-7.74z"/>
<path fill="#00b6ff" d="M296.39 37.05h3.87v3.88h-3.87zM284.78 48.69h3.87v3.88h-3.87zM219.01 68.1h3.87v3.88h-3.87zM215.14 75.86h3.87v3.88h-3.87zM249.96 75.86h3.87v3.88h-3.87zM226.75 79.74h3.87v3.88h-3.87zM226.75 91.39h3.87v3.88h-3.87zM304.12 91.39h3.87v3.88h-3.87zM300.26 95.27h3.86v3.88h-3.86zM230.62 106.91h3.87v3.88h-3.87zM280.91 118.56h3.87v3.88h-3.87zM280.91 122.44h3.87v3.88h-3.87zM311.86 122.44h3.87v3.88h-3.87z"/>
<path fill="#00c3ff" d="M304.12 33.17h3.87v3.88h-3.87zM288.65 40.93h3.87v3.88h-3.87zM195.8 44.81h3.87v3.88h-3.87zM203.54 48.69h3.87v3.88h-3.87zM207.41 52.57h3.87v3.89h-3.87zM211.28 56.46h3.86v3.88h-3.86zM215.14 60.34h3.87v3.88h-3.87zM219.01 75.86h7.74v3.88h-7.74zM242.23 75.86h7.73v3.88h-7.73zM253.83 75.86h3.87v3.88h-3.87zM222.88 79.74h3.87v3.88h-3.87zM226.75 95.27h3.87v3.88h-3.87zM296.39 103.03h3.87v3.88h-3.87zM257.7 110.79h3.87v3.88h-3.87zM269.31 110.79h3.87v3.88h-3.87zM296.39 110.79h3.87v3.88h-3.87zM242.23 114.67h11.6v3.89h-11.6zM277.04 114.67h3.87v3.89h-3.87zM304.12 118.56h3.87v3.88h-3.87zM315.73 122.44h3.87v3.88h-3.87zM280.91 126.32h3.87v3.88h-3.87z"/>
<path fill="#00cfff" d="M199.67 44.81h3.87v3.88h-3.87zM284.78 44.81h3.87v3.88h-3.87zM219.01 64.22h3.87v3.88h-3.87zM222.88 71.98h3.87v3.88h-3.87zM280.91 71.98h3.87v3.88h-3.87zM226.75 75.86h15.48v3.88h-15.48zM277.04 75.86h3.87v3.88h-3.87zM222.88 83.62h3.87v3.89h-3.87zM226.75 99.15h3.87v3.88h-3.87zM296.39 106.91h3.87v3.88h-3.87zM238.36 114.67h3.87v3.89h-3.87zM300.26 114.67h3.86v3.89h-3.86z"/>
<path fill="#00dcff" d="M315.73 29.29h3.87v3.88h-3.87zM300.26 33.17h3.86v3.88h-3.86zM292.52 37.05h3.87v3.88h-3.87zM211.28 52.57h3.86v3.89h-3.86zM222.88 68.1h3.87v3.88h-3.87zM257.7 75.86h3.87v3.88h-3.87zM269.31 75.86h7.73v3.88h-7.73zM199.67 79.74h23.21v3.88h-23.21zM222.88 87.51h3.87v3.88h-3.87zM307.99 91.39h3.87v3.88h-3.87zM226.75 103.03h3.87v3.88h-3.87zM230.62 110.79h3.87v3.88h-3.87zM261.57 110.79h7.74v3.88h-7.74zM234.49 114.67h3.87v3.89h-3.87zM273.18 114.67h3.86v3.89h-3.86zM277.04 118.56h3.87v3.88h-3.87zM307.99 118.56h3.87v3.88h-3.87z"/>
<path fill="#00e8fe" d="M311.86 29.29h3.87v3.88h-3.87zM207.41 48.69h3.87v3.88h-3.87zM215.14 56.46h3.87v3.88h-3.87zM219.01 60.34h3.87v3.88h-3.87zM280.91 60.34h3.87v3.88h-3.87zM280.91 64.22h3.87v3.88h-3.87zM280.91 68.1h3.87v3.88h-3.87zM226.75 71.98h3.87v3.88h-3.87zM261.57 75.86h7.74v3.88h-7.74zM195.8 79.74h3.87v3.88h-3.87zM219.01 83.62h3.87v3.89h-3.87zM222.88 91.39h3.87v3.88h-3.87zM300.26 99.15h3.86v3.88h-3.86zM300.26 110.79h3.86v3.88h-3.86zM253.83 114.67h3.87v3.89h-3.87zM304.12 114.67h3.87v3.89h-3.87zM311.86 118.56h7.74v3.88h-7.74z"/>
<path fill="#00ecf2" d="M296.39 33.17h3.87v3.88h-3.87zM288.65 37.05h3.87v3.88h-3.87zM284.78 40.93h3.87v3.88h-3.87zM203.54 44.81h3.87v3.88h-3.87zM280.91 56.46h3.87v3.88h-3.87zM222.88 64.22h3.87v3.88h-3.87zM226.75 68.1h3.87v3.88h-3.87zM230.62 71.98h7.74v3.88h-7.74zM246.09 71.98h7.74v3.88h-7.74zM215.14 83.62h3.87v3.89h-3.87zM311.86 91.39h7.74v3.88h-7.74zM304.12 95.27h3.87v3.88h-3.87zM300.26 103.03h3.86v3.88h-3.86zM226.75 106.91h3.87v3.88h-3.87zM230.62 114.67h3.87v3.89h-3.87zM277.04 122.44h3.87v3.88h-3.87zM277.04 126.32h3.87v3.88h-3.87z"/>
<path fill="#00f0e5" d="M307.99 29.29h3.87v3.88h-3.87zM195.8 40.93h3.87v3.88h-3.87zM215.14 52.57h3.87v3.89h-3.87zM280.91 52.57h3.87v3.89h-3.87zM238.36 71.98h7.73v3.88h-7.73zM253.83 71.98h3.87v3.88h-3.87zM277.04 71.98h3.87v3.88h-3.87zM211.28 83.62h3.86v3.89h-3.86zM219.01 87.51h3.87v3.88h-3.87zM222.88 95.27h3.87v3.88h-3.87zM300.26 106.91h3.86v3.88h-3.86zM269.31 114.67h3.87v3.89h-3.87zM307.99 114.67h3.87v3.89h-3.87zM234.49 118.56h15.47v3.88h-15.47z"/>
<path fill="#00f4d9" d="M292.52 33.17h3.87v3.88h-3.87zM211.28 48.69h3.86v3.88h-3.86zM280.91 48.69h3.87v3.88h-3.87zM219.01 56.46h3.87v3.88h-3.87zM222.88 60.34h3.87v3.88h-3.87zM226.75 64.22h3.87v3.88h-3.87zM230.62 68.1h3.87v3.88h-3.87zM273.18 71.98h3.86v3.88h-3.86zM203.54 83.62h7.74v3.89h-7.74zM222.88 99.15h3.87v3.88h-3.87zM304.12 99.15h3.87v3.88h-3.87zM226.75 110.79h3.87v3.88h-3.87zM304.12 110.79h3.87v3.88h-3.87zM257.7 114.67h3.87v3.89h-3.87zM311.86 114.67h7.74v3.89h-7.74zM230.62 118.56h3.87v3.88h-3.87zM249.96 118.56h3.87v3.88h-3.87zM273.18 118.56h3.86v3.88h-3.86z"/>
<path fill="#00f9cc" d="M304.12 29.29h3.87v3.88h-3.87zM284.78 37.05h3.87v3.88h-3.87zM199.67 40.93h3.87v3.88h-3.87zM207.41 44.81h3.87v3.88h-3.87zM280.91 44.81h3.87v3.88h-3.87zM277.04 68.1h3.87v3.88h-3.87zM257.7 71.98h3.87v3.88h-3.87zM269.31 71.98h3.87v3.88h-3.87zM195.8 83.62h7.74v3.89h-7.74zM215.14 87.51h3.87v3.88h-3.87zM219.01 91.39h3.87v3.88h-3.87zM307.99 95.27h3.87v3.88h-3.87zM222.88 103.03h3.87v3.88h-3.87zM226.75 114.67h3.87v3.89h-3.87zM261.57 114.67h7.74v3.89h-7.74zM234.49 122.44h11.6v3.88h-11.6z"/>
<path fill="#00fbc0" d="M288.65 33.17h3.87v3.88h-3.87zM280.91 40.93h3.87v3.88h-3.87zM219.01 52.57h3.87v3.89h-3.87zM222.88 56.46h3.87v3.88h-3.87zM226.75 60.34h3.87v3.88h-3.87zM230.62 64.22h3.87v3.88h-3.87zM277.04 64.22h3.87v3.88h-3.87zM234.49 68.1h3.87v3.88h-3.87zM261.57 71.98h7.74v3.88h-7.74zM311.86 95.27h7.74v3.88h-7.74zM304.12 103.03h3.87v3.88h-3.87zM222.88 106.91h3.87v3.88h-3.87zM304.12 106.91h3.87v3.88h-3.87zM307.99 110.79h11.61v3.88h-11.61zM226.75 118.56h3.87v3.88h-3.87zM253.83 118.56h3.87v3.88h-3.87zM230.62 122.44h3.87v3.88h-3.87zM246.09 122.44h3.87v3.88h-3.87zM273.18 122.44h3.86v3.88h-3.86zM195.8 126.32h7.74v3.88h-7.74zM230.62 126.32h15.47v3.88h-15.47z"/>
<path fill="#00fcb5" d="M315.73 25.41h3.87v3.88h-3.87zM300.26 29.29h3.86v3.88h-3.86zM215.14 48.69h3.87v3.88h-3.87zM277.04 60.34h3.87v3.88h-3.87zM238.36 68.1h3.87v3.88h-3.87zM211.28 87.51h3.86v3.88h-3.86zM219.01 95.27h3.87v3.88h-3.87zM307.99 99.15h3.87v3.88h-3.87zM307.99 106.91h3.87v3.88h-3.87zM269.31 118.56h3.87v3.88h-3.87zM195.8 122.44h3.87v3.88h-3.87zM226.75 122.44h3.87v3.88h-3.87zM249.96 122.44h3.87v3.88h-3.87zM203.54 126.32h3.87v3.88h-3.87zM226.75 126.32h3.87v3.88h-3.87zM246.09 126.32h3.87v3.88h-3.87zM273.18 126.32h3.86v3.88h-3.86z"/>
<path fill="#00fda9" d="M311.86 25.41h3.87v3.88h-3.87zM296.39 29.29h3.87v3.88h-3.87zM284.78 33.17h3.87v3.88h-3.87zM280.91 37.05h3.87v3.88h-3.87zM203.54 40.93h3.87v3.88h-3.87zM211.28 44.81h3.86v3.88h-3.86zM277.04 56.46h3.87v3.88h-3.87zM234.49 64.22h3.87v3.88h-3.87zM242.23 68.1h3.86v3.88h-3.86zM273.18 68.1h3.86v3.88h-3.86zM207.41 87.51h3.87v3.88h-3.87zM215.14 91.39h3.87v3.88h-3.87zM311.86 99.15h7.74v3.88h-7.74zM307.99 103.03h11.61v3.88h-11.61zM311.86 106.91h7.74v3.88h-7.74zM222.88 110.79h3.87v3.88h-3.87zM222.88 114.67h3.87v3.89h-3.87zM199.67 122.44h3.87v3.88h-3.87zM207.41 126.32h3.87v3.88h-3.87zM222.88 126.32h3.87v3.88h-3.87zM249.96 126.32h3.87v3.88h-3.87z"/>
<path fill="#00fe9d" d="M292.52 29.29h3.87v3.88h-3.87zM195.8 37.05h3.87v3.88h-3.87zM277.04 48.69h3.87v3.88h-3.87zM222.88 52.57h3.87v3.89h-3.87zM277.04 52.57h3.87v3.89h-3.87zM226.75 56.46h3.87v3.88h-3.87zM230.62 60.34h3.87v3.88h-3.87zM246.09 68.1h3.87v3.88h-3.87zM203.54 87.51h3.87v3.88h-3.87zM219.01 99.15h3.87v3.88h-3.87zM222.88 118.56h3.87v3.88h-3.87zM257.7 118.56h3.87v3.88h-3.87zM265.44 118.56h3.87v3.88h-3.87zM203.54 122.44h3.87v3.88h-3.87zM222.88 122.44h3.87v3.88h-3.87zM269.31 122.44h3.87v3.88h-3.87z"/>
<path fill="#01ff91" d="M307.99 25.41h3.87v3.88h-3.87zM288.65 29.29h3.87v3.88h-3.87zM280.91 33.17h3.87v3.88h-3.87zM199.67 37.05h3.87v3.88h-3.87zM277.04 40.93h3.87v3.88h-3.87zM277.04 44.81h3.87v3.88h-3.87zM219.01 48.69h3.87v3.88h-3.87zM249.96 68.1h3.87v3.88h-3.87zM269.31 68.1h3.87v3.88h-3.87zM195.8 87.51h7.74v3.88h-7.74zM219.01 103.03h3.87v3.88h-3.87zM195.8 118.56h3.87v3.88h-3.87zM261.57 118.56h3.87v3.88h-3.87zM207.41 122.44h3.87v3.88h-3.87zM219.01 122.44h3.87v3.88h-3.87zM253.83 122.44h3.87v3.88h-3.87zM211.28 126.32h11.6v3.88h-11.6zM269.31 126.32h3.87v3.88h-3.87z"/>
<path fill="#04ff86" d="M280.91 29.29h7.74v3.88h-7.74zM277.04 37.05h3.87v3.88h-3.87zM207.41 40.93h3.87v3.88h-3.87zM215.14 44.81h3.87v3.88h-3.87zM234.49 60.34h3.87v3.88h-3.87zM238.36 64.22h3.87v3.88h-3.87zM273.18 64.22h3.86v3.88h-3.86zM211.28 91.39h3.86v3.88h-3.86zM215.14 95.27h3.87v3.88h-3.87zM219.01 106.91h3.87v3.88h-3.87zM199.67 118.56h3.87v3.88h-3.87zM219.01 118.56h3.87v3.88h-3.87zM211.28 122.44h7.73v3.88h-7.73zM253.83 126.32h3.87v3.88h-3.87z"/>
<path fill="#07ff7a" d="M315.73 21.52h3.87v3.89h-3.87zM277.04 25.41h7.74v3.88h-7.74zM304.12 25.41h3.87v3.88h-3.87zM277.04 29.29h3.87v3.88h-3.87zM277.04 33.17h3.87v3.88h-3.87zM230.62 56.46h3.87v3.88h-3.87zM253.83 68.1h3.87v3.88h-3.87zM265.44 68.1h3.87v3.88h-3.87zM219.01 110.79h3.87v3.88h-3.87zM219.01 114.67h3.87v3.89h-3.87zM203.54 118.56h3.87v3.88h-3.87zM257.7 122.44h3.87v3.88h-3.87zM265.44 122.44h3.87v3.88h-3.87z"/>
<path fill="#0aff6e" d="M311.86 21.52h3.87v3.89h-3.87zM203.54 37.05h3.87v3.88h-3.87zM222.88 48.69h3.87v3.88h-3.87zM226.75 52.57h3.87v3.89h-3.87zM273.18 60.34h3.86v3.88h-3.86zM242.23 64.22h3.86v3.88h-3.86zM257.7 68.1h7.74v3.88h-7.74zM207.41 91.39h3.87v3.88h-3.87zM215.14 99.15h3.87v3.88h-3.87zM207.41 118.56h11.6v3.88h-11.6zM261.57 122.44h3.87v3.88h-3.87zM265.44 126.32h3.87v3.88h-3.87z"/>
<path fill="#18ff64" d="M315.73 17.64h3.87v3.88h-3.87zM277.04 21.52h7.74v3.89h-7.74zM284.78 25.41h3.87v3.88h-3.87zM300.26 25.41h3.86v3.88h-3.86zM195.8 33.17h3.87v3.88h-3.87zM211.28 40.93h3.86v3.88h-3.86zM273.18 56.46h3.86v3.88h-3.86zM238.36 60.34h3.87v3.88h-3.87zM203.54 91.39h3.87v3.88h-3.87zM211.28 95.27h3.86v3.88h-3.86zM195.8 114.67h7.74v3.89h-7.74zM215.14 114.67h3.87v3.89h-3.87zM257.7 126.32h7.74v3.88h-7.74z"/>
<path fill="#27ff5a" d="M307.99 21.52h3.87v3.89h-3.87zM288.65 25.41h3.87v3.88h-3.87zM199.67 33.17h3.87v3.88h-3.87zM219.01 44.81h3.87v3.88h-3.87zM273.18 44.81h3.86v3.88h-3.86zM273.18 48.69h3.86v3.88h-3.86zM273.18 52.57h3.86v3.89h-3.86zM234.49 56.46h3.87v3.88h-3.87zM269.31 64.22h3.87v3.88h-3.87zM195.8 91.39h7.74v3.88h-7.74zM215.14 103.03h3.87v3.88h-3.87zM215.14 106.91h3.87v3.88h-3.87zM215.14 110.79h3.87v3.88h-3.87zM203.54 114.67h3.87v3.89h-3.87z"/>
<path fill="#38ff4d" d="M315.73 13.76h3.87v3.88h-3.87zM277.04 17.64h3.87v3.88h-3.87zM311.86 17.64h3.87v3.88h-3.87zM273.18 25.41h3.86v3.88h-3.86zM292.52 25.41h7.74v3.88h-7.74zM273.18 29.29h3.86v3.88h-3.86zM207.41 37.05h3.87v3.88h-3.87zM273.18 37.05h3.86v3.88h-3.86zM273.18 40.93h3.86v3.88h-3.86zM230.62 52.57h3.87v3.89h-3.87zM211.28 99.15h3.86v3.88h-3.86zM195.8 110.79h3.87v3.88h-3.87zM207.41 114.67h7.73v3.89h-7.73z"/>
<path fill="#4aff3e" d="M273.18 21.52h3.86v3.89h-3.86zM284.78 21.52h3.87v3.89h-3.87zM273.18 33.17h3.86v3.88h-3.86zM215.14 40.93h3.87v3.88h-3.87zM226.75 48.69h3.87v3.88h-3.87zM246.09 64.22h3.87v3.88h-3.87zM207.41 95.27h3.87v3.88h-3.87zM199.67 110.79h3.87v3.88h-3.87z"/>
<path fill="#5dff2f" d="M315.73 6h3.87v3.88h-3.87zM315.73 9.88h3.87v3.88h-3.87zM277.04 13.76h3.87v3.88h-3.87zM311.86 13.76h3.87v3.88h-3.87zM273.18 17.64h3.86v3.88h-3.86zM280.91 17.64h3.87v3.88h-3.87zM304.12 21.52h3.87v3.89h-3.87zM203.54 33.17h3.87v3.88h-3.87zM222.88 44.81h3.87v3.88h-3.87zM242.23 60.34h3.86v3.88h-3.86zM265.44 64.22h3.87v3.88h-3.87zM203.54 95.27h3.87v3.88h-3.87zM211.28 103.03h3.86v3.88h-3.86zM211.28 106.91h3.86v3.88h-3.86zM203.54 110.79h3.87v3.88h-3.87zM211.28 110.79h3.86v3.88h-3.86z"/>
<path fill="#72ff1f" d="M273.18 6h3.86v3.88h-3.86zM273.18 9.88h7.73v3.88h-7.73zM273.18 13.76h3.86v3.88h-3.86zM195.8 29.29h3.87v3.88h-3.87zM211.28 37.05h3.86v3.88h-3.86zM234.49 52.57h3.87v3.89h-3.87zM238.36 56.46h3.87v3.88h-3.87zM269.31 60.34h3.87v3.88h-3.87zM195.8 95.27h7.74v3.88h-7.74zM207.41 99.15h3.87v3.88h-3.87zM195.8 106.91h7.74v3.88h-7.74zM207.41 110.79h3.87v3.88h-3.87z"/>
<path fill="#87ff0e" d="M277.04 6h3.87v3.88h-3.87zM311.86 6h3.87v3.88h-3.87zM311.86 9.88h3.87v3.88h-3.87zM307.99 17.64h3.87v3.88h-3.87zM199.67 29.29h3.87v3.88h-3.87zM219.01 40.93h3.87v3.88h-3.87zM230.62 48.69h3.87v3.88h-3.87zM249.96 64.22h3.87v3.88h-3.87zM261.57 64.22h3.87v3.88h-3.87zM199.67 99.15h7.74v3.88h-7.74zM195.8 103.03h3.87v3.88h-3.87zM203.54 103.03h7.74v3.88h-7.74zM203.54 106.91h7.74v3.88h-7.74z"/>
<path fill="#98ff08" d="M280.91 13.76h3.87v3.88h-3.87zM288.65 21.52h3.87v3.89h-3.87zM300.26 21.52h3.86v3.89h-3.86zM207.41 33.17h3.87v3.88h-3.87zM226.75 44.81h3.87v3.88h-3.87zM257.7 64.22h3.87v3.88h-3.87zM195.8 99.15h3.87v3.88h-3.87zM199.67 103.03h3.87v3.88h-3.87z"/>
<path fill="#a8ff05" d="M284.78 17.64h3.87v3.88h-3.87zM215.14 37.05h3.87v3.88h-3.87zM269.31 52.57h3.87v3.89h-3.87zM269.31 56.46h3.87v3.88h-3.87zM253.83 64.22h3.87v3.88h-3.87z"/>
<path fill="#b7ff03" d="M269.31 6h3.87v3.88h-3.87zM269.31 9.88h3.87v3.88h-3.87zM280.91 9.88h3.87v3.88h-3.87zM307.99 13.76h3.87v3.88h-3.87zM269.31 21.52h3.87v3.89h-3.87zM292.52 21.52h7.74v3.89h-7.74zM269.31 25.41h3.87v3.88h-3.87zM203.54 29.29h3.87v3.88h-3.87zM269.31 29.29h3.87v3.88h-3.87zM222.88 40.93h3.87v3.88h-3.87zM269.31 40.93h3.87v3.88h-3.87zM269.31 44.81h3.87v3.88h-3.87zM269.31 48.69h3.87v3.88h-3.87zM238.36 52.57h3.87v3.89h-3.87zM242.23 56.46h3.86v3.88h-3.86zM246.09 60.34h3.87v3.88h-3.87z"/>
<path fill="#c7ff00" d="M280.91 6h3.87v3.88h-3.87zM307.99 9.88h3.87v3.88h-3.87zM269.31 13.76h3.87v3.88h-3.87zM269.31 17.64h3.87v3.88h-3.87zM304.12 17.64h3.87v3.88h-3.87zM195.8 25.41h3.87v3.88h-3.87zM211.28 33.17h3.86v3.88h-3.86zM269.31 33.17h3.87v3.88h-3.87zM269.31 37.05h3.87v3.88h-3.87zM234.49 48.69h3.87v3.88h-3.87zM265.44 60.34h3.87v3.88h-3.87z"/>
<path fill="#d5fd00" d="M307.99 6h3.87v3.88h-3.87zM199.67 25.41h3.87v3.88h-3.87zM207.41 29.29h3.87v3.88h-3.87zM219.01 37.05h3.87v3.88h-3.87zM230.62 44.81h3.87v3.88h-3.87z"/>
<path fill="#e3fa00" d="M284.78 13.76h3.87v3.88h-3.87zM288.65 17.64h3.87v3.88h-3.87zM215.14 33.17h3.87v3.88h-3.87zM226.75 40.93h3.87v3.88h-3.87zM242.23 52.57h3.86v3.89h-3.86zM261.57 60.34h3.87v3.88h-3.87z"/>
<path fill="#f1f800" d="M304.12 13.76h3.87v3.88h-3.87zM300.26 17.64h3.86v3.88h-3.86zM203.54 25.41h3.87v3.88h-3.87zM222.88 37.05h3.87v3.88h-3.87zM238.36 48.69h3.87v3.88h-3.87zM246.09 56.46h3.87v3.88h-3.87zM265.44 56.46h3.87v3.88h-3.87zM249.96 60.34h3.87v3.88h-3.87z"/>
<path fill="#fff500" d="M284.78 9.88h3.87v3.88h-3.87zM292.52 17.64h3.87v3.88h-3.87zM211.28 29.29h3.86v3.88h-3.86zM234.49 44.81h3.87v3.88h-3.87zM257.7 60.34h3.87v3.88h-3.87z"/>
<path fill="#ffeb00" d="M284.78 6h3.87v3.88h-3.87zM304.12 9.88h3.87v3.88h-3.87zM288.65 13.76h3.87v3.88h-3.87zM296.39 17.64h3.87v3.88h-3.87zM219.01 33.17h3.87v3.88h-3.87zM230.62 40.93h3.87v3.88h-3.87zM265.44 52.57h3.87v3.89h-3.87zM253.83 60.34h3.87v3.88h-3.87z"/>
<path fill="#ffe000" d="M265.44 6h3.87v3.88h-3.87zM304.12 6h3.87v3.88h-3.87zM265.44 9.88h3.87v3.88h-3.87zM195.8 21.52h3.87v3.89h-3.87zM207.41 25.41h3.87v3.88h-3.87zM226.75 37.05h3.87v3.88h-3.87zM265.44 44.81h3.87v3.88h-3.87zM242.23 48.69h3.86v3.88h-3.86zM265.44 48.69h3.87v3.88h-3.87zM246.09 52.57h3.87v3.89h-3.87zM261.57 56.46h3.87v3.88h-3.87z"/>
<path fill="#ffd500" d="M288.65 9.88h3.87v3.88h-3.87zM265.44 13.76h3.87v3.88h-3.87zM300.26 13.76h3.86v3.88h-3.86zM199.67 21.52h3.87v3.89h-3.87zM215.14 29.29h3.87v3.88h-3.87zM265.44 29.29h3.87v3.88h-3.87zM265.44 33.17h3.87v3.88h-3.87zM265.44 37.05h3.87v3.88h-3.87zM265.44 40.93h3.87v3.88h-3.87zM238.36 44.81h3.87v3.88h-3.87zM249.96 56.46h3.87v3.88h-3.87z"/>
<path fill="#ffcb00" d="M288.65 6h3.87v3.88h-3.87zM292.52 13.76h3.87v3.88h-3.87zM265.44 17.64h3.87v3.88h-3.87zM265.44 21.52h3.87v3.89h-3.87zM265.44 25.41h3.87v3.88h-3.87zM222.88 33.17h3.87v3.88h-3.87zM234.49 40.93h3.87v3.88h-3.87zM257.7 56.46h3.87v3.88h-3.87z"/>
<path fill="#ffc000" d="M300.26 9.88h3.86v3.88h-3.86zM296.39 13.76h3.87v3.88h-3.87zM203.54 21.52h3.87v3.89h-3.87zM211.28 25.41h3.86v3.88h-3.86zM230.62 37.05h3.87v3.88h-3.87zM246.09 48.69h3.87v3.88h-3.87zM249.96 52.57h3.87v3.89h-3.87zM261.57 52.57h3.87v3.89h-3.87zM253.83 56.46h3.87v3.88h-3.87z"/>
<path fill="#ffb600" d="M292.52 6h3.87v3.88h-3.87zM300.26 6h3.86v3.88h-3.86zM292.52 9.88h3.87v3.88h-3.87zM219.01 29.29h3.87v3.88h-3.87zM242.23 44.81h3.86v3.88h-3.86z"/>
<path fill="#ffab00" d="M296.39 9.88h3.87v3.88h-3.87zM207.41 21.52h3.87v3.89h-3.87zM226.75 33.17h3.87v3.88h-3.87zM238.36 40.93h3.87v3.88h-3.87zM261.57 48.69h3.87v3.88h-3.87zM253.83 52.57h7.74v3.89h-7.74z"/>
<path fill="#ffa100" d="M296.39 6h3.87v3.88h-3.87zM195.8 17.64h3.87v3.88h-3.87zM215.14 25.41h3.87v3.88h-3.87zM234.49 37.05h3.87v3.88h-3.87zM246.09 44.81h3.87v3.88h-3.87zM249.96 48.69h3.87v3.88h-3.87z"/>
<path fill="#ff9800" d="M199.67 17.64h3.87v3.88h-3.87zM222.88 29.29h3.87v3.88h-3.87zM230.62 33.17h3.87v3.88h-3.87zM242.23 40.93h3.86v3.88h-3.86zM261.57 40.93h3.87v3.88h-3.87zM261.57 44.81h3.87v3.88h-3.87z"/>
<path fill="#ff8f00" d="M261.57 6h3.87v3.88h-3.87zM261.57 9.88h3.87v3.88h-3.87zM203.54 17.64h3.87v3.88h-3.87zM211.28 21.52h3.86v3.89h-3.86zM219.01 25.41h3.87v3.88h-3.87zM261.57 33.17h3.87v3.88h-3.87zM238.36 37.05h3.87v3.88h-3.87zM261.57 37.05h3.87v3.88h-3.87zM246.09 40.93h3.87v3.88h-3.87zM249.96 44.81h3.87v3.88h-3.87zM253.83 48.69h7.74v3.88h-7.74z"/>
<path fill="#ff8600" d="M261.57 13.76h3.87v3.88h-3.87zM261.57 17.64h3.87v3.88h-3.87zM261.57 21.52h3.87v3.89h-3.87zM261.57 25.41h3.87v3.88h-3.87zM226.75 29.29h3.87v3.88h-3.87zM261.57 29.29h3.87v3.88h-3.87zM234.49 33.17h3.87v3.88h-3.87zM242.23 37.05h3.86v3.88h-3.86z"/>
<path fill="#ff7d00" d="M207.41 17.64h3.87v3.88h-3.87zM215.14 21.52h3.87v3.89h-3.87zM222.88 25.41h3.87v3.88h-3.87zM230.62 29.29h3.87v3.88h-3.87zM238.36 33.17h3.87v3.88h-3.87zM249.96 40.93h3.87v3.88h-3.87zM253.83 44.81h7.74v3.88h-7.74z"/>
<path fill="#ff7400" d="M195.8 13.76h7.74v3.88h-7.74zM211.28 17.64h3.86v3.88h-3.86zM226.75 25.41h3.87v3.88h-3.87zM234.49 29.29h3.87v3.88h-3.87zM246.09 37.05h7.74v3.88h-7.74zM257.7 37.05h3.87v3.88h-3.87zM253.83 40.93h7.74v3.88h-7.74z"/>
<path fill="#ff6b00" d="M195.8 9.88h3.87v3.88h-3.87zM203.54 13.76h3.87v3.88h-3.87zM215.14 17.64h3.87v3.88h-3.87zM219.01 21.52h3.87v3.89h-3.87zM230.62 25.41h3.87v3.88h-3.87zM238.36 29.29h3.87v3.88h-3.87zM242.23 33.17h19.34v3.88h-19.34zM253.83 37.05h3.87v3.88h-3.87z"/>
<path fill="#ff6100" d="M195.8 6h11.61v3.88h-11.61zM257.7 6h3.87v3.88h-3.87zM199.67 9.88h7.74v3.88h-7.74zM207.41 13.76h7.73v3.88h-7.73zM219.01 17.64h3.87v3.88h-3.87zM222.88 21.52h7.74v3.89h-7.74zM234.49 25.41h3.87v3.88h-3.87zM257.7 25.41h3.87v3.88h-3.87zM242.23 29.29h3.86v3.88h-3.86zM249.96 29.29h11.61v3.88h-11.61z"/>
<path fill="#ff5700" d="M207.41 6h3.87v3.88h-3.87zM207.41 9.88h3.87v3.88h-3.87zM257.7 9.88h3.87v3.88h-3.87zM215.14 13.76h3.87v3.88h-3.87zM257.7 13.76h3.87v3.88h-3.87zM222.88 17.64h3.87v3.88h-3.87zM257.7 17.64h3.87v3.88h-3.87zM230.62 21.52h3.87v3.89h-3.87zM257.7 21.52h3.87v3.89h-3.87zM238.36 25.41h3.87v3.88h-3.87zM249.96 25.41h7.74v3.88h-7.74zM246.09 29.29h3.87v3.88h-3.87z"/>
<path fill="#ff4d00" d="M211.28 6h3.86v3.88h-3.86zM211.28 9.88h3.86v3.88h-3.86zM219.01 13.76h3.87v3.88h-3.87zM226.75 17.64h3.87v3.88h-3.87zM234.49 21.52h3.87v3.89h-3.87zM253.83 21.52h3.87v3.89h-3.87zM242.23 25.41h7.73v3.88h-7.73z"/>
<path fill="#ff4400" d="M215.14 6h3.87v3.88h-3.87zM215.14 9.88h7.74v3.88h-7.74zM222.88 13.76h3.87v3.88h-3.87zM253.83 13.76h3.87v3.88h-3.87zM230.62 17.64h3.87v3.88h-3.87zM253.83 17.64h3.87v3.88h-3.87zM238.36 21.52h3.87v3.89h-3.87zM246.09 21.52h7.74v3.89h-7.74z"/>
<path fill="#ff3a00" d="M219.01 6h7.74v3.88h-7.74zM253.83 6h3.87v3.88h-3.87zM222.88 9.88h3.87v3.88h-3.87zM253.83 9.88h3.87v3.88h-3.87zM226.75 13.76h3.87v3.88h-3.87zM234.49 17.64h3.87v3.88h-3.87zM249.96 17.64h3.87v3.88h-3.87zM242.23 21.52h3.86v3.89h-3.86z"/>
<path fill="#ff3100" d="M226.75 6h3.87v3.88h-3.87zM249.96 6h3.87v3.88h-3.87zM226.75 9.88h3.87v3.88h-3.87zM249.96 9.88h3.87v3.88h-3.87zM230.62 13.76h3.87v3.88h-3.87zM249.96 13.76h3.87v3.88h-3.87zM238.36 17.64h11.6v3.88h-11.6z"/>
<path fill="#fe2b01" d="M230.62 6h7.74v3.88h-7.74zM246.09 6h3.87v3.88h-3.87zM230.62 9.88h7.74v3.88h-7.74zM246.09 9.88h3.87v3.88h-3.87zM234.49 13.76h15.47v3.88h-15.47z"/>
<path fill="#fd2502" d="M238.36 6h7.73v3.88h-7.73zM238.36 9.88h7.73v3.88h-7.73z"/>
</g>
<g id="prec" filter="url(#soft)">
<rect x="391.20" y="6.00" width="123.80" height="124.00" fill="#0000af"/>
</g>
<g id="temp" filter="url(#soft)">
<rect x="4.40" y="163.40" width="124.60" height="124.60" fill="#c7ff00"/>
<path fill="#00fcb5" d="M39.44 163.4h23.37v3.89h-23.37zM39.44 167.29h23.37v3.9h-23.37zM43.34 171.19h19.47v3.89h-19.47zM43.34 175.08h19.47v3.89h-19.47zM47.23 178.97h15.58v3.9h-15.58zM47.23 182.87h15.58v3.89h-15.58zM51.12 186.76h15.58v3.9h-15.58zM51.12 190.66h15.58v3.89h-15.58zM55.02 194.55h7.79v3.89h-7.79z"/>
<path fill="#00fda9" d="M31.66 163.4h7.78v3.89h-7.78zM62.81 163.4h7.78v3.89h-7.78zM35.55 167.29h3.89v3.9h-3.89zM62.81 167.29h7.78v3.9h-7.78zM35.55 171.19h7.79v3.89h-7.79zM62.81 171.19h7.78v3.89h-7.78zM35.55 175.08h7.79v3.89h-7.79zM62.81 175.08h7.78v3.89h-7.78zM39.44 178.97h7.79v3.9h-7.79zM62.81 178.97h7.78v3.9h-7.78zM39.44 182.87h7.79v3.89h-7.79zM62.81 182.87h7.78v3.89h-7.78zM43.34 186.76h7.78v3.9h-7.78zM66.7 186.76h3.89v3.9h-3.89zM47.23 190.66h3.89v3.89h-3.89zM66.7 190.66h3.89v3.89h-3.89zM47.23 194.55h7.79v3.89h-7.79zM62.81 194.55h7.78v3.89h-7.78zM51.12 198.44h15.58v3.9h-15.58z"/>
<path fill="#00fe9d" d="M27.76 163.4h3.9v3.89h-3.9zM70.59 163.4h3.9v3.89h-3.9zM27.76 167.29h7.79v3.9h-7.79zM70.59 167.29h3.9v3.9h-3.9zM31.66 171.19h3.89v3.89h-3.89zM70.59 171.19h3.9v3.89h-3.9zM31.66 175.08h3.89v3.89h-3.89zM70.59 175.08h3.9v3.89h-3.9zM35.55 178.97h3.89v3.9h-3.89zM70.59 178.97h3.9v3.9h-3.9zM35.55 182.87h3.89v3.89h-3.89zM70.59 182.87h3.9v3.89h-3.9zM39.44 186.76h3.9v3.9h-3.9zM70.59 186.76h3.9v3.9h-3.9zM43.34 190.66h3.89v3.89h-3.89zM70.59 190.66h3.9v3.89h-3.9zM43.34 194.55h3.89v3.89h-3.89zM47.23 198.44h3.89v3.9h-3.89zM66.7 198.44h3.89v3.9h-3.89zM55.02 202.34h11.68v3.89h-11.68z"/>
<path fill="#01ff91" d="M74.49 163.4h3.89v3.89h-3.89zM74.49 167.29h3.89v3.9h-3.89zM27.76 171.19h3.9v3.89h-3.9zM74.49 171.19h3.89v3.89h-3.89zM27.76 175.08h3.9v3.89h-3.9zM74.49 175.08h3.89v3.89h-3.89zM31.66 178.97h3.89v3.9h-3.89zM74.49 178.97h3.89v3.9h-3.89zM74.49 182.87h3.89v3.89h-3.89zM35.55 186.76h3.89v3.9h-3.89zM74.49 186.76h3.89v3.9h-3.89zM39.44 190.66h3.9v3.89h-3.9zM74.49 190.66h3.89v3.89h-3.89zM70.59 194.55h3.9v3.89h-3.9zM43.34 198.44h3.89v3.9h-3.89zM70.59 198.44h3.9v3.9h-3.9zM51.12 202.34h3.9v3.89h-3.9zM66.7 202.34h3.89v3.89h-3.89z"/>
<path fill="#04ff86" d="M23.87 163.4h3.89v3.89h-3.89zM78.38 163.4h3.9v3.89h-3.9zM23.87 167.29h3.89v3.9h-3.89zM78.38 167.29h3.9v3.9h-3.9zM23.87 171.19h3.89v3.89h-3.89zM78.38 171.19h3.9v3.89h-3.9zM78.38 175.08h3.9v3.89h-3.9zM27.76 178.97h3.9v3.9h-3.9zM78.38 178.97h3.9v3.9h-3.9zM31.66 182.87h3.89v3.89h-3.89zM78.38 182.87h3.9v3.89h-3.9zM35.55 190.66h3.89v3.89h-3.89zM39.44 194.55h3.9v3.89h-3.9zM74.49 194.55h3.89v3.89h-3.89zM47.23 202.34h3.89v3.89h-3.89zM51.12 206.23h15.58v3.89h-15.58z"/>
<path fill="#07ff7a" d="M19.98 163.4h3.89v3.89h-3.89zM82.28 163.4h3.89v3.89h-3.89zM19.98 167.29h3.89v3.9h-3.89zM82.28 167.29h3.89v3.9h-3.89zM19.98 171.19h3.89v3.89h-3.89zM82.28 171.19h3.89v3.89h-3.89zM23.87 175.08h3.89v3.89h-3.89zM82.28 175.08h3.89v3.89h-3.89zM27.76 182.87h3.9v3.89h-3.9zM31.66 186.76h3.89v3.9h-3.89zM78.38 186.76h3.9v3.9h-3.9zM78.38 190.66h3.9v3.89h-3.9zM39.44 198.44h3.9v3.9h-3.9zM74.49 198.44h3.89v3.9h-3.89zM43.34 202.34h3.89v3.89h-3.89zM70.59 202.34h3.9v3.89h-3.9zM66.7 206.23h3.89v3.89h-3.89z"/>
<path fill="#0aff6e" d="M16.08 163.4h3.9v3.89h-3.9zM86.17 163.4h3.89v3.89h-3.89zM16.08 167.29h3.9v3.9h-3.9zM19.98 175.08h3.89v3.89h-3.89zM23.87 178.97h3.89v3.9h-3.89zM82.28 178.97h3.89v3.9h-3.89zM82.28 182.87h3.89v3.89h-3.89zM31.66 190.66h3.89v3.89h-3.89zM35.55 194.55h3.89v3.89h-3.89zM78.38 194.55h3.9v3.89h-3.9zM47.23 206.23h3.89v3.89h-3.89zM55.02 210.12h11.68v3.9h-11.68z"/>
<path fill="#18ff64" d="M12.19 163.4h3.89v3.89h-3.89zM90.06 163.4h3.9v3.89h-3.9zM12.19 167.29h3.89v3.9h-3.89zM86.17 167.29h7.79v3.9h-7.79zM16.08 171.19h3.9v3.89h-3.9zM86.17 171.19h7.79v3.89h-7.79zM86.17 175.08h3.89v3.89h-3.89zM86.17 178.97h3.89v3.9h-3.89zM23.87 182.87h3.89v3.89h-3.89zM27.76 186.76h3.9v3.9h-3.9zM82.28 186.76h3.89v3.9h-3.89zM35.55 198.44h3.89v3.9h-3.89zM39.44 202.34h3.9v3.89h-3.9zM74.49 202.34h3.89v3.89h-3.89zM43.34 206.23h3.89v3.89h-3.89zM70.59 206.23h3.9v3.89h-3.9zM51.12 210.12h3.9v3.9h-3.9zM66.7 210.12h3.89v3.9h-3.89z"/>
<path fill="#27ff5a" d="M4.4 163.4h7.79v3.89h-7.79zM93.96 163.4h23.36v3.89h-23.36zM4.4 167.29h7.79v3.9h-7.79zM93.96 167.29h23.36v3.9h-23.36zM12.19 171.19h3.89v3.89h-3.89zM93.96 171.19h15.57v3.89h-15.57zM16.08 175.08h3.9v3.89h-3.9zM90.06 175.08h7.79v3.89h-7.79zM19.98 178.97h3.89v3.9h-3.89zM90.06 178.97h3.9v3.9h-3.9zM86.17 182.87h3.89v3.89h-3.89zM27.76 190.66h3.9v3.89h-3.9zM82.28 190.66h3.89v3.89h-3.89zM31.66 194.55h3.89v3.89h-3.89zM78.38 198.44h3.9v3.9h-3.9zM47.23 210.12h3.89v3.9h-3.89zM55.02 214.02h7.79v3.89h-7.79z"/>
<path fill="#38ff4d" d="M117.32 163.4h11.68v3.89h-11.68zM117.32 167.29h11.68v3.9h-11.68zM4.4 171.19h7.79v3.89h-7.79zM109.53 171.19h19.47v3.89h-19.47zM12.19 175.08h3.89v3.89h-3.89zM97.85 175.08h11.68v3.89h-11.68zM16.08 178.97h3.9v3.9h-3.9zM93.96 178.97h3.89v3.9h-3.89zM19.98 182.87h3.89v3.89h-3.89zM90.06 182.87h3.9v3.89h-3.9zM23.87 186.76h3.89v3.9h-3.89zM86.17 186.76h3.89v3.9h-3.89zM82.28 194.55h3.89v3.89h-3.89zM35.55 202.34h3.89v3.89h-3.89zM78.38 202.34h3.9v3.89h-3.9zM39.44 206.23h3.9v3.89h-3.9zM74.49 206.23h3.89v3.89h-3.89zM70.59 210.12h3.9v3.9h-3.9zM51.12 214.02h3.9v3.89h-3.9zM62.81 214.02h3.89v3.89h-3.89z"/>
<path fill="#4aff3e" d="M4.4 175.08h7.79v3.89h-7.79zM109.53 175.08h19.47v3.89h-19.47zM97.85 178.97h7.79v3.9h-7.79zM93.96 182.87h3.89v3.89h-3.89zM90.06 186.76h3.9v3.9h-3.9zM86.17 190.66h3.89v3.89h-3.89zM27.76 194.55h3.9v3.89h-3.9zM31.66 198.44h3.89v3.9h-3.89zM82.28 198.44h3.89v3.9h-3.89zM43.34 210.12h3.89v3.9h-3.89zM47.23 214.02h3.89v3.89h-3.89zM66.7 214.02h3.89v3.89h-3.89zM55.02 217.91h7.79v3.9h-7.79z"/>
<path fill="#5dff2f" d="M12.19 178.97h3.89v3.9h-3.89zM105.64 178.97h23.36v3.9h-23.36zM16.08 182.87h3.9v3.89h-3.9zM97.85 182.87h3.89v3.89h-3.89zM19.98 186.76h3.89v3.9h-3.89zM23.87 190.66h3.89v3.89h-3.89zM86.17 194.55h3.89v3.89h-3.89zM31.66 202.34h3.89v3.89h-3.89zM35.55 206.23h3.89v3.89h-3.89zM78.38 206.23h3.9v3.89h-3.9zM74.49 210.12h3.89v3.9h-3.89zM51.12 217.91h3.9v3.9h-3.9zM62.81 217.91h3.89v3.9h-3.89z"/>
<path fill="#72ff1f" d="M4.4 178.97h7.79v3.9h-7.79zM12.19 182.87h3.89v3.89h-3.89zM101.74 182.87h11.68v3.89h-11.68zM93.96 186.76h3.89v3.9h-3.89zM90.06 190.66h3.9v3.89h-3.9zM23.87 194.55h3.89v3.89h-3.89zM27.76 198.44h3.9v3.9h-3.9zM82.28 202.34h3.89v3.89h-3.89zM39.44 210.12h3.9v3.9h-3.9zM43.34 214.02h3.89v3.89h-3.89zM70.59 214.02h3.9v3.89h-3.9zM47.23 217.91h3.89v3.9h-3.89zM66.7 217.91h3.89v3.9h-3.89zM55.02 221.81h7.79v3.89h-7.79z"/>
<path fill="#87ff0e" d="M4.4 182.87h7.79v3.89h-7.79zM113.42 182.87h15.58v3.89h-15.58zM16.08 186.76h3.9v3.9h-3.9zM97.85 186.76h7.79v3.9h-7.79zM19.98 190.66h3.89v3.89h-3.89zM93.96 190.66h3.89v3.89h-3.89zM90.06 194.55h3.9v3.89h-3.9zM86.17 198.44h3.89v3.9h-3.89zM27.76 202.34h3.9v3.89h-3.9zM31.66 206.23h3.89v3.89h-3.89zM35.55 210.12h3.89v3.9h-3.89zM78.38 210.12h3.9v3.9h-3.9zM51.12 221.81h3.9v3.89h-3.9zM62.81 221.81h3.89v3.89h-3.89z"/>
<path fill="#98ff08" d="M12.19 186.76h3.89v3.9h-3.89zM105.64 186.76h7.78v3.9h-7.78zM16.08 190.66h3.9v3.89h-3.9zM97.85 190.66h3.89v3.89h-3.89zM19.98 194.55h3.89v3.89h-3.89zM23.87 198.44h3.89v3.9h-3.89zM86.17 202.34h3.89v3.89h-3.89zM82.28 206.23h3.89v3.89h-3.89zM39.44 214.02h3.9v3.89h-3.9zM74.49 214.02h3.89v3.89h-3.89zM43.34 217.91h3.89v3.9h-3.89zM70.59 217.91h3.9v3.9h-3.9zM47.23 221.81h3.89v3.89h-3.89zM51.12 225.7h7.79v3.89h-7.79zM4.4 256.85h11.68v3.89h-11.68zM4.4 260.74h15.58v3.9h-15.58zM4.4 264.64h15.58v3.89h-15.58zM4.4 268.53h15.58v3.9h-15.58zM4.4 272.43h11.68v3.89h-11.68zM4.4 276.32h3.89v3.89h-3.89z"/>
<path fill="#a8ff05" d="M4.4 186.76h7.79v3.9h-7.79zM113.42 186.76h15.58v3.9h-15.58zM12.19 190.66h3.89v3.89h-3.89zM101.74 190.66h3.9v3.89h-3.9zM93.96 194.55h3.89v3.89h-3.89zM90.06 198.44h3.9v3.9h-3.9zM23.87 202.34h3.89v3.89h-3.89zM27.76 206.23h3.9v3.89h-3.9zM31.66 210.12h3.89v3.9h-3.89zM82.28 210.12h3.89v3.9h-3.89zM35.55 214.02h3.89v3.89h-3.89zM78.38 214.02h3.9v3.89h-3.9zM39.44 217.91h3.9v3.9h-3.9zM43.34 221.81h3.89v3.89h-3.89zM66.7 221.81h3.89v3.89h-3.89zM47.23 225.7h3.89v3.89h-3.89zM58.91 225.7h7.79v3.89h-7.79zM4.4 249.06h11.68v3.9h-11.68zM4.4 252.96h15.58v3.89h-15.58zM16.08 256.85h7.79v3.89h-7.79zM19.98 260.74h7.78v3.9h-7.78zM19.98 264.64h7.78v3.89h-7.78zM19.98 268.53h7.78v3.9h-7.78zM16.08 272.43h11.68v3.89h-11.68zM8.29 276.32h19.47v3.89h-19.47zM4.4 280.21h19.47v3.9h-19.47zM4.4 284.11h19.47v3.89h-19.47z"/>
<path fill="#b7ff03" d="M4.4 190.66h7.79v3.89h-7.79zM105.64 190.66h7.78v3.89h-7.78zM16.08 194.55h3.9v3.89h-3.9zM97.85 194.55h3.89v3.89h-3.89zM19.98 198.44h3.89v3.9h-3.89zM23.87 206.23h3.89v3.89h-3.89zM86.17 206.23h3.89v3.89h-3.89zM27.76 210.12h3.9v3.9h-3.9zM31.66 214.02h3.89v3.89h-3.89zM35.55 217.91h3.89v3.9h-3.89zM74.49 217.91h3.89v3.9h-3.89zM39.44 221.81h3.9v3.89h-3.9zM70.59 221.81h3.9v3.89h-3.9zM39.44 225.7h7.79v3.89h-7.79zM43.34 229.59h19.47v3.9h-19.47zM4.4 241.28h11.68v3.89h-11.68zM4.4 245.17h19.47v3.89h-19.47zM16.08 249.06h11.68v3.9h-11.68zM19.98 252.96h11.68v3.89h-11.68zM23.87 256.85h7.79v3.89h-7.79zM27.76 260.74h3.9v3.9h-3.9zM27.76 264.64h7.79v3.89h-7.79zM27.76 268.53h7.79v3.9h-7.79zM27.76 272.43h7.79v3.89h-7.79zM27.76 276.32h11.68v3.89h-11.68zM23.87 280.21h19.47v3.9h-19.47zM55.02 280.21h3.89v3.9h-3.89zM23.87 284.11h19.47v3.89h-19.47zM47.23 284.11h15.58v3.89h-15.58z"/>
<path fill="#d5fd00" d="M4.4 194.55h3.89v3.89h-3.89zM105.64 194.55h7.78v3.89h-7.78zM4.4 198.44h11.68v3.9h-11.68zM97.85 198.44h3.89v3.9h-3.89zM16.08 202.34h3.9v3.89h-3.9zM93.96 202.34h3.89v3.89h-3.89zM19.98 206.23h3.89v3.89h-3.89zM90.06 206.23h3.9v3.89h-3.9zM19.98 210.12h3.89v3.9h-3.89zM86.17 210.12h3.89v3.9h-3.89zM19.98 214.02h7.78v3.89h-7.78zM19.98 217.91h7.78v3.9h-7.78zM19.98 221.81h11.68v3.89h-11.68zM74.49 221.81h3.89v3.89h-3.89zM4.4 225.7h27.26v3.89h-27.26zM70.59 225.7h3.9v3.89h-3.9zM4.4 229.59h27.26v3.9h-27.26zM66.7 229.59h3.89v3.9h-3.89zM62.81 233.49h3.89v3.89h-3.89zM55.02 237.38h7.79v3.9h-7.79zM51.12 241.28h7.79v3.89h-7.79zM43.34 245.17h15.57v3.89h-15.57zM39.44 249.06h19.47v3.9h-19.47zM39.44 252.96h15.58v3.89h-15.58zM39.44 256.85h15.58v3.89h-15.58zM43.34 260.74h11.68v3.9h-11.68zM43.34 264.64h19.47v3.89h-19.47zM47.23 268.53h27.26v3.9h-27.26zM66.7 272.43h11.68v3.89h-11.68zM74.49 276.32h3.89v3.89h-3.89zM74.49 280.21h7.79v3.9h-7.79zM74.49 284.11h7.79v3.89h-7.79z"/>
<path fill="#e3fa00" d="M113.42 194.55h15.58v3.89h-15.58zM101.74 198.44h3.9v3.9h-3.9zM4.4 202.34h11.68v3.89h-11.68zM8.29 206.23h11.69v3.89h-11.69zM12.19 210.12h7.79v3.9h-7.79zM90.06 210.12h3.9v3.9h-3.9zM12.19 214.02h7.79v3.89h-7.79zM86.17 214.02h3.89v3.89h-3.89zM4.4 217.91h15.58v3.9h-15.58zM82.28 217.91h3.89v3.9h-3.89zM4.4 221.81h15.58v3.89h-15.58zM78.38 221.81h3.9v3.89h-3.9zM74.49 225.7h3.89v3.89h-3.89zM70.59 229.59h3.9v3.9h-3.9zM66.7 233.49h3.89v3.89h-3.89zM62.81 237.38h3.89v3.9h-3.89zM58.91 241.28h7.79v3.89h-7.79zM58.91 245.17h3.9v3.89h-3.9zM58.91 249.06h3.9v3.9h-3.9zM55.02 252.96h11.68v3.89h-11.68zM55.02 256.85h11.68v3.89h-11.68zM55.02 260.74h15.57v3.9h-15.57zM62.81 264.64h15.57v3.89h-15.57zM74.49 268.53h7.79v3.9h-7.79zM78.38 272.43h3.9v3.89h-3.9zM78.38 276.32h7.79v3.89h-7.79zM82.28 280.21h3.89v3.9h-3.89zM82.28 284.11h3.89v3.89h-3.89z"/>
<path fill="#f1f800" d="M105.64 198.44h7.78v3.9h-7.78zM97.85 202.34h3.89v3.89h-3.89zM4.4 206.23h3.89v3.89h-3.89zM93.96 206.23h3.89v3.89h-3.89zM4.4 210.12h7.79v3.9h-7.79zM4.4 214.02h7.79v3.89h-7.79zM86.17 217.91h3.89v3.9h-3.89zM82.28 221.81h3.89v3.89h-3.89zM78.38 225.7h3.9v3.89h-3.9zM74.49 229.59h3.89v3.9h-3.89zM70.59 233.49h3.9v3.89h-3.9zM66.7 237.38h3.89v3.9h-3.89zM66.7 241.28h3.89v3.89h-3.89zM62.81 245.17h7.78v3.89h-7.78zM121.21 245.17h7.79v3.89h-7.79zM62.81 249.06h7.78v3.9h-7.78zM117.32 249.06h11.68v3.9h-11.68zM66.7 252.96h3.89v3.89h-3.89zM117.32 252.96h11.68v3.89h-11.68zM66.7 256.85h7.79v3.89h-7.79zM113.42 256.85h15.58v3.89h-15.58zM70.59 260.74h11.69v3.9h-11.69zM117.32 260.74h11.68v3.9h-11.68zM78.38 264.64h3.9v3.89h-3.9zM121.21 264.64h7.79v3.89h-7.79zM82.28 268.53h3.89v3.9h-3.89zM82.28 272.43h7.78v3.89h-7.78zM86.17 276.32h3.89v3.89h-3.89zM86.17 280.21h3.89v3.9h-3.89zM86.17 284.11h3.89v3.89h-3.89z"/>
<path fill="#fff500" d="M113.42 198.44h15.58v3.9h-15.58zM101.74 202.34h3.9v3.89h-3.9zM97.85 206.23h3.89v3.89h-3.89zM93.96 210.12h3.89v3.9h-3.89zM90.06 214.02h3.9v3.89h-3.9zM86.17 221.81h3.89v3.89h-3.89zM82.28 225.7h3.89v3.89h-3.89zM78.38 229.59h3.9v3.9h-3.9zM125.11 229.59h3.89v3.9h-3.89zM74.49 233.49h3.89v3.89h-3.89zM117.32 233.49h11.68v3.89h-11.68zM70.59 237.38h3.9v3.9h-3.9zM113.42 237.38h15.58v3.9h-15.58zM70.59 241.28h3.9v3.89h-3.9zM109.53 241.28h19.47v3.89h-19.47zM70.59 245.17h3.9v3.89h-3.9zM105.64 245.17h15.57v3.89h-15.57zM70.59 249.06h3.9v3.9h-3.9zM101.74 249.06h15.58v3.9h-15.58zM70.59 252.96h11.69v3.89h-11.69zM101.74 252.96h15.58v3.89h-15.58zM74.49 256.85h11.68v3.89h-11.68zM97.85 256.85h15.57v3.89h-15.57zM82.28 260.74h7.78v3.9h-7.78zM101.74 260.74h15.58v3.9h-15.58zM82.28 264.64h11.68v3.89h-11.68zM105.64 264.64h15.57v3.89h-15.57zM86.17 268.53h7.79v3.9h-7.79zM113.42 268.53h15.58v3.9h-15.58zM90.06 272.43h3.9v3.89h-3.9zM117.32 272.43h11.68v3.89h-11.68zM90.06 276.32h3.9v3.89h-3.9zM121.21 276.32h7.79v3.89h-7.79zM90.06 280.21h3.9v3.9h-3.9zM121.21 280.21h7.79v3.9h-7.79zM90.06 284.11h3.9v3.89h-3.9zM121.21 284.11h7.79v3.89h-7.79z"/>
<path fill="#ffeb00" d="M105.64 202.34h23.36v3.89h-23.36zM101.74 206.23h3.9v3.89h-3.9zM97.85 210.12h3.89v3.9h-3.89zM93.96 214.02h3.89v3.89h-3.89zM90.06 217.91h3.9v3.9h-3.9zM90.06 221.81h3.9v3.89h-3.9zM86.17 225.7h3.89v3.89h-3.89zM117.32 225.7h11.68v3.89h-11.68zM82.28 229.59h3.89v3.9h-3.89zM113.42 229.59h11.69v3.9h-11.69zM78.38 233.49h3.9v3.89h-3.9zM109.53 233.49h7.79v3.89h-7.79zM74.49 237.38h7.79v3.9h-7.79zM105.64 237.38h7.78v3.9h-7.78zM74.49 241.28h7.79v3.89h-7.79zM101.74 241.28h7.79v3.89h-7.79zM74.49 245.17h11.68v3.89h-11.68zM90.06 245.17h15.58v3.89h-15.58zM74.49 249.06h27.25v3.9h-27.25zM82.28 252.96h19.46v3.89h-19.46zM86.17 256.85h11.68v3.89h-11.68zM90.06 260.74h11.68v3.9h-11.68zM93.96 264.64h11.68v3.89h-11.68zM93.96 268.53h19.46v3.9h-19.46zM93.96 272.43h7.78v3.89h-7.78zM109.53 272.43h7.79v3.89h-7.79zM93.96 276.32h3.89v3.89h-3.89zM113.42 276.32h7.79v3.89h-7.79zM93.96 280.21h3.89v3.9h-3.89zM113.42 280.21h7.79v3.9h-7.79zM93.96 284.11h3.89v3.89h-3.89zM113.42 284.11h7.79v3.89h-7.79z"/>
<path fill="#ffe000" d="M105.64 206.23h23.36v3.89h-23.36zM101.74 210.12h3.9v3.9h-3.9zM117.32 210.12h11.68v3.9h-11.68zM97.85 214.02h3.89v3.89h-3.89zM121.21 214.02h7.79v3.89h-7.79zM93.96 217.91h3.89v3.9h-3.89zM117.32 217.91h11.68v3.9h-11.68zM93.96 221.81h3.89v3.89h-3.89zM113.42 221.81h15.58v3.89h-15.58zM90.06 225.7h3.9v3.89h-3.9zM109.53 225.7h7.79v3.89h-7.79zM86.17 229.59h7.79v3.9h-7.79zM105.64 229.59h7.78v3.9h-7.78zM82.28 233.49h11.68v3.89h-11.68zM97.85 233.49h11.68v3.89h-11.68zM82.28 237.38h23.36v3.9h-23.36zM82.28 241.28h19.46v3.89h-19.46zM86.17 245.17h3.89v3.89h-3.89zM101.74 272.43h7.79v3.89h-7.79zM97.85 276.32h15.57v3.89h-15.57zM97.85 280.21h15.57v3.9h-15.57zM97.85 284.11h15.57v3.89h-15.57z"/>
<path fill="#ffd500" d="M105.64 210.12h11.68v3.9h-11.68zM101.74 214.02h19.47v3.89h-19.47zM97.85 217.91h19.47v3.9h-19.47zM97.85 221.81h15.57v3.89h-15.57zM93.96 225.7h15.57v3.89h-15.57zM93.96 229.59h11.68v3.9h-11.68zM93.96 233.49h3.89v3.89h-3.89z"/>
</g>
<g id="drought" filter="url(#soft)">
<rect x="193.70" y="164.60" width="124.30" height="124.30" fill="#0009ef"/>
<path fill="#0000c9" d="M193.7 250.06h3.88v3.88h-3.88zM193.7 253.94h3.88v3.88h-3.88z"/>
<path fill="#0000d0" d="M193.7 246.17h3.88v3.89h-3.88zM197.58 253.94h3.89v3.88h-3.89zM193.7 257.82h7.77v3.89h-7.77z"/>
<path fill="#0000d8" d="M306.35 238.4h3.88v3.89h-3.88zM197.58 250.06h3.89v3.88h-3.89zM201.47 253.94h3.88v3.88h-3.88zM201.47 257.82h3.88v3.89h-3.88zM201.47 261.71h3.88v3.88h-3.88z"/>
<path fill="#0000df" d="M310.23 238.4h3.89v3.89h-3.89zM193.7 242.29h3.88v3.88h-3.88zM306.35 242.29h3.88v3.88h-3.88zM193.7 261.71h7.77v3.88h-7.77z"/>
<path fill="#0000e6" d="M275.27 172.37h3.89v3.88h-3.89zM228.66 191.79h15.54v3.88h-15.54zM224.77 195.67h23.31v3.89h-23.31zM220.89 199.56h31.08v3.88h-31.08zM314.12 199.56h3.88v3.88h-3.88zM236.43 203.44h15.54v3.89h-15.54zM314.12 203.44h3.88v3.89h-3.88zM244.2 207.33h3.88v3.88h-3.88zM314.12 230.63h3.88v3.89h-3.88zM310.23 234.52h7.77v3.88h-7.77zM314.12 238.4h3.88v3.89h-3.88zM302.46 242.29h3.89v3.88h-3.89zM310.23 242.29h7.77v3.88h-7.77zM197.58 246.17h3.89v3.89h-3.89zM201.47 265.59h3.88v3.89h-3.88z"/>
<path fill="#0002ec" d="M232.54 164.6h7.77v3.88h-7.77zM275.27 168.48h3.89v3.89h-3.89zM228.66 187.91h15.54v3.88h-15.54zM224.77 191.79h3.89v3.88h-3.89zM217.01 195.67h7.76v3.89h-7.76zM314.12 195.67h3.88v3.89h-3.88zM217.01 199.56h3.88v3.88h-3.88zM251.97 199.56h3.88v3.88h-3.88zM217.01 203.44h19.42v3.89h-19.42zM251.97 203.44h3.88v3.89h-3.88zM240.31 207.33h3.89v3.88h-3.89zM248.08 207.33h7.77v3.88h-7.77zM314.12 207.33h3.88v3.88h-3.88zM255.85 211.21h3.88v3.89h-3.88zM259.73 218.98h3.89v3.89h-3.89zM306.35 234.52h3.88v3.88h-3.88zM193.7 238.4h3.88v3.89h-3.88zM302.46 238.4h3.89v3.89h-3.89zM201.47 250.06h3.88v3.88h-3.88zM193.7 265.59h7.77v3.89h-7.77z"/>
<path fill="#0010f2" d="M224.77 164.6h3.89v3.88h-3.89zM290.81 164.6h3.88v3.88h-3.88zM224.77 168.48h19.43v3.89h-19.43zM283.04 168.48h3.89v3.89h-3.89zM279.16 176.25h3.88v3.89h-3.88zM228.66 180.14h3.88v3.88h-3.88zM240.31 180.14h3.89v3.88h-3.89zM197.58 184.02h7.77v3.89h-7.77zM224.77 184.02h3.89v3.89h-3.89zM201.47 187.91h7.77v3.88h-7.77zM220.89 187.91h3.88v3.88h-3.88zM213.12 191.79h3.89v3.88h-3.89zM251.97 195.67h3.88v3.89h-3.88zM310.23 199.56h3.89v3.88h-3.89zM236.43 207.33h3.88v3.88h-3.88zM310.23 207.33h3.89v3.88h-3.89zM259.73 215.1h3.89v3.88h-3.89zM314.12 226.75h3.88v3.88h-3.88zM197.58 242.29h3.89v3.88h-3.89zM302.46 246.17h15.54v3.89h-15.54zM205.35 257.82h3.89v3.89h-3.89zM201.47 269.48h3.88v3.88h-3.88z"/>
<path fill="#0017f5" d="M213.12 164.6h11.65v3.88h-11.65zM294.69 164.6h3.89v3.88h-3.89zM220.89 168.48h3.88v3.89h-3.88zM286.93 168.48h3.88v3.89h-3.88zM197.58 172.37h7.77v3.88h-7.77zM224.77 172.37h3.89v3.88h-3.89zM240.31 172.37h3.89v3.88h-3.89zM283.04 172.37h3.89v3.88h-3.89zM224.77 176.25h3.89v3.89h-3.89zM240.31 176.25h3.89v3.89h-3.89zM224.77 180.14h3.89v3.88h-3.89zM232.54 180.14h7.77v3.88h-7.77zM193.7 184.02h3.88v3.89h-3.88zM205.35 184.02h3.89v3.89h-3.89zM217.01 187.91h3.88v3.88h-3.88zM244.2 187.91h3.88v3.88h-3.88zM248.08 191.79h3.89v3.88h-3.89zM255.85 195.67h3.88v3.89h-3.88zM213.12 207.33h7.77v3.88h-7.77zM232.54 207.33h3.89v3.88h-3.89zM240.31 211.21h3.89v3.89h-3.89zM259.73 211.21h3.89v3.89h-3.89zM255.85 218.98h3.88v3.89h-3.88zM263.62 218.98h3.88v3.89h-3.88zM259.73 222.87h3.89v3.88h-3.89zM294.69 242.29h3.89v3.88h-3.89zM298.58 246.17h3.88v3.89h-3.88zM205.35 269.48h3.89v3.88h-3.89z"/>
<path fill="#001df8" d="M209.24 164.6h3.88v3.88h-3.88zM217.01 168.48h3.88v3.89h-3.88zM290.81 168.48h3.88v3.89h-3.88zM193.7 172.37h3.88v3.88h-3.88zM205.35 172.37h3.89v3.88h-3.89zM228.66 172.37h3.88v3.88h-3.88zM271.39 172.37h3.88v3.88h-3.88zM205.35 176.25h3.89v3.89h-3.89zM228.66 176.25h3.88v3.89h-3.88zM205.35 180.14h3.89v3.88h-3.89zM220.89 184.02h3.88v3.89h-3.88zM197.58 187.91h3.89v3.88h-3.89zM209.24 187.91h7.77v3.88h-7.77zM209.24 191.79h3.88v3.88h-3.88zM314.12 191.79h3.88v3.88h-3.88zM310.23 195.67h3.89v3.89h-3.89zM220.89 207.33h3.88v3.88h-3.88zM314.12 211.21h3.88v3.89h-3.88zM251.97 215.1h3.88v3.88h-3.88zM263.62 222.87h3.88v3.88h-3.88zM310.23 226.75h3.89v3.88h-3.89zM302.46 234.52h3.89v3.88h-3.89zM294.69 246.17h3.89v3.89h-3.89zM205.35 253.94h3.89v3.88h-3.89zM197.58 269.48h3.89v3.88h-3.89zM209.24 269.48h3.88v3.88h-3.88z"/>
<path fill="#0027f9" d="M205.35 164.6h3.89v3.88h-3.89zM244.2 164.6h3.88v3.88h-3.88zM205.35 168.48h11.66v3.89h-11.66zM244.2 168.48h3.88v3.89h-3.88zM294.69 168.48h3.89v3.89h-3.89zM220.89 172.37h3.88v3.88h-3.88zM220.89 176.25h3.88v3.89h-3.88zM283.04 176.25h3.89v3.89h-3.89zM220.89 180.14h3.88v3.88h-3.88zM193.7 187.91h3.88v3.88h-3.88zM205.35 191.79h3.89v3.88h-3.89zM209.24 195.67h3.88v3.89h-3.88zM228.66 207.33h3.88v3.88h-3.88zM259.73 207.33h3.89v3.88h-3.89zM306.35 230.63h3.88v3.89h-3.88zM298.58 238.4h3.88v3.89h-3.88zM201.47 246.17h3.88v3.89h-3.88zM290.81 246.17h3.88v3.89h-3.88zM209.24 265.59h3.88v3.89h-3.88zM193.7 269.48h3.88v3.88h-3.88z"/>
<path fill="#0030fa" d="M201.47 168.48h3.88v3.89h-3.88zM271.39 168.48h3.88v3.89h-3.88zM217.01 172.37h3.88v3.88h-3.88zM236.43 172.37h3.88v3.88h-3.88zM244.2 172.37h3.88v3.88h-3.88zM244.2 176.25h3.88v3.89h-3.88zM271.39 176.25h3.88v3.89h-3.88zM279.16 180.14h3.88v3.88h-3.88zM217.01 184.02h3.88v3.89h-3.88zM244.2 184.02h3.88v3.89h-3.88zM251.97 191.79h3.88v3.88h-3.88zM209.24 199.56h3.88v3.88h-3.88zM209.24 203.44h3.88v3.89h-3.88zM259.73 203.44h3.89v3.89h-3.89zM306.35 203.44h3.88v3.89h-3.88zM209.24 207.33h3.88v3.88h-3.88zM224.77 207.33h3.89v3.88h-3.89zM209.24 211.21h7.77v3.89h-7.77zM236.43 211.21h3.88v3.89h-3.88zM248.08 215.1h3.89v3.88h-3.89zM263.62 215.1h3.88v3.88h-3.88zM197.58 238.4h3.89v3.89h-3.89zM290.81 242.29h3.88v3.88h-3.88zM310.23 250.06h7.77v3.88h-7.77zM267.5 261.71h3.89v3.88h-3.89zM314.12 261.71h3.88v3.88h-3.88zM314.12 265.59h3.88v3.89h-3.88zM314.12 269.48h3.88v3.88h-3.88zM314.12 273.36h3.88v3.89h-3.88z"/>
<path fill="#003afb" d="M201.47 164.6h3.88v3.88h-3.88zM271.39 164.6h3.88v3.88h-3.88zM298.58 164.6h3.88v3.88h-3.88zM209.24 172.37h3.88v3.88h-3.88zM232.54 172.37h3.89v3.88h-3.89zM286.93 172.37h3.88v3.88h-3.88zM217.01 176.25h3.88v3.89h-3.88zM232.54 176.25h7.77v3.89h-7.77zM217.01 180.14h3.88v3.88h-3.88zM244.2 180.14h3.88v3.88h-3.88zM275.27 180.14h3.89v3.88h-3.89zM283.04 180.14h3.89v3.88h-3.89zM209.24 184.02h3.88v3.89h-3.88zM201.47 191.79h3.88v3.88h-3.88zM259.73 199.56h3.89v3.88h-3.89zM306.35 207.33h3.88v3.88h-3.88zM310.23 211.21h3.89v3.89h-3.89zM244.2 215.1h3.88v3.88h-3.88zM314.12 215.1h3.88v3.88h-3.88zM267.5 222.87h3.89v3.88h-3.89zM306.35 250.06h3.88v3.88h-3.88zM314.12 257.82h3.88v3.89h-3.88zM263.62 261.71h3.88v3.88h-3.88zM271.39 261.71h3.88v3.88h-3.88zM310.23 261.71h3.89v3.88h-3.89zM263.62 265.59h3.88v3.89h-3.88zM310.23 265.59h3.89v3.89h-3.89zM201.47 273.36h7.77v3.89h-7.77zM314.12 277.25h3.88v3.88h-3.88z"/>
<path fill="#0043fc" d="M197.58 168.48h3.89v3.89h-3.89zM213.12 172.37h3.89v3.88h-3.89zM209.24 176.25h3.88v3.89h-3.88zM209.24 180.14h3.88v3.88h-3.88zM213.12 184.02h3.89v3.89h-3.89zM255.85 191.79h3.88v3.88h-3.88zM310.23 191.79h3.89v3.88h-3.89zM217.01 211.21h3.88v3.89h-3.88zM267.5 218.98h3.89v3.89h-3.89zM255.85 222.87h3.88v3.88h-3.88zM314.12 222.87h3.88v3.88h-3.88zM205.35 250.06h3.89v3.88h-3.89zM310.23 253.94h7.77v3.88h-7.77zM271.39 257.82h11.65v3.89h-11.65zM310.23 257.82h3.89v3.89h-3.89zM275.27 261.71h3.89v3.88h-3.89zM259.73 265.59h3.89v3.89h-3.89zM267.5 265.59h3.89v3.89h-3.89zM310.23 269.48h3.89v3.88h-3.89zM209.24 273.36h3.88v3.89h-3.88zM310.23 273.36h3.89v3.89h-3.89z"/>
<path fill="#004efc" d="M193.7 168.48h3.88v3.89h-3.88zM298.58 168.48h3.88v3.89h-3.88zM290.81 172.37h7.77v3.88h-7.77zM213.12 180.14h3.89v3.88h-3.89zM248.08 187.91h3.89v3.88h-3.89zM314.12 187.91h3.88v3.88h-3.88zM197.58 191.79h3.89v3.88h-3.89zM259.73 195.67h3.89v3.89h-3.89zM306.35 199.56h3.88v3.88h-3.88zM205.35 211.21h3.89v3.89h-3.89zM209.24 215.1h3.88v3.88h-3.88zM240.31 215.1h3.89v3.88h-3.89zM310.23 215.1h3.89v3.88h-3.89zM263.62 226.75h3.88v3.88h-3.88zM193.7 234.52h3.88v3.88h-3.88zM302.46 250.06h3.89v3.88h-3.89zM267.5 257.82h3.89v3.89h-3.89zM209.24 261.71h3.88v3.88h-3.88zM259.73 261.71h3.89v3.88h-3.89zM259.73 269.48h7.77v3.88h-7.77z"/>
<path fill="#0059fd" d="M197.58 164.6h3.89v3.88h-3.89zM213.12 176.25h3.89v3.89h-3.89zM286.93 176.25h3.88v3.89h-3.88zM201.47 211.21h3.88v3.89h-3.88zM232.54 211.21h3.89v3.89h-3.89zM263.62 211.21h3.88v3.89h-3.88zM201.47 215.1h7.77v3.88h-7.77zM213.12 215.1h3.89v3.88h-3.89zM314.12 218.98h3.88v3.89h-3.88zM310.23 222.87h3.89v3.88h-3.89zM267.5 226.75h3.89v3.88h-3.89zM306.35 226.75h3.88v3.88h-3.88zM294.69 238.4h3.89v3.89h-3.89zM286.93 246.17h3.88v3.89h-3.88zM306.35 253.94h3.88v3.88h-3.88zM306.35 257.82h3.88v3.89h-3.88zM279.16 261.71h3.88v3.88h-3.88zM306.35 261.71h3.88v3.88h-3.88zM255.85 265.59h3.88v3.89h-3.88zM306.35 265.59h3.88v3.89h-3.88zM213.12 269.48h3.89v3.88h-3.89zM255.85 269.48h3.88v3.88h-3.88zM197.58 273.36h3.89v3.89h-3.89zM310.23 277.25h3.89v3.88h-3.89zM314.12 281.13h3.88v3.89h-3.88z"/>
<path fill="#0064fe" d="M193.7 164.6h3.88v3.88h-3.88zM298.58 172.37h3.88v3.88h-3.88zM279.16 184.02h7.77v3.89h-7.77zM193.7 191.79h3.88v3.88h-3.88zM205.35 195.67h3.89v3.89h-3.89zM193.7 211.21h7.77v3.89h-7.77zM220.89 211.21h3.88v3.89h-3.88zM306.35 211.21h3.88v3.89h-3.88zM193.7 215.1h7.77v3.88h-7.77zM310.23 218.98h3.89v3.89h-3.89zM259.73 226.75h3.89v3.88h-3.89zM302.46 230.63h3.89v3.89h-3.89zM298.58 234.52h3.88v3.88h-3.88zM201.47 242.29h3.88v3.88h-3.88zM298.58 250.06h3.88v3.88h-3.88zM263.62 257.82h3.88v3.89h-3.88zM213.12 265.59h3.89v3.89h-3.89zM271.39 265.59h3.88v3.89h-3.88zM251.97 269.48h3.88v3.88h-3.88zM306.35 269.48h3.88v3.88h-3.88zM193.7 273.36h3.88v3.89h-3.88zM255.85 273.36h3.88v3.89h-3.88zM201.47 277.25h7.77v3.88h-7.77zM314.12 285.02h3.88v3.88h-3.88z"/>
<path fill="#0070fe" d="M248.08 164.6h3.89v3.88h-3.89zM271.39 180.14h3.88v3.88h-3.88zM286.93 180.14h3.88v3.88h-3.88zM306.35 195.67h3.88v3.89h-3.88zM251.97 218.98h3.88v3.89h-3.88zM286.93 242.29h3.88v3.88h-3.88zM294.69 250.06h3.89v3.88h-3.89zM302.46 253.94h3.89v3.88h-3.89zM283.04 257.82h3.89v3.89h-3.89zM267.5 269.48h3.89v3.88h-3.89zM259.73 273.36h3.89v3.89h-3.89z"/>
<path fill="#007bff" d="M248.08 168.48h3.89v3.89h-3.89zM290.81 176.25h7.77v3.89h-7.77zM251.97 187.91h3.88v3.88h-3.88zM310.23 187.91h3.89v3.88h-3.89zM302.46 203.44h3.89v3.89h-3.89zM302.46 207.33h3.89v3.88h-3.89zM217.01 215.1h3.88v3.88h-3.88zM236.43 215.1h3.88v3.88h-3.88zM271.39 222.87h3.88v3.88h-3.88zM306.35 222.87h3.88v3.88h-3.88zM205.35 246.17h3.89v3.89h-3.89zM275.27 253.94h7.77v3.88h-7.77zM209.24 257.82h3.88v3.89h-3.88zM302.46 257.82h3.89v3.89h-3.89zM255.85 261.71h3.88v3.88h-3.88zM302.46 261.71h3.89v3.88h-3.89zM251.97 265.59h3.88v3.89h-3.88zM244.2 269.48h7.77v3.88h-7.77zM213.12 273.36h3.89v3.89h-3.89zM306.35 273.36h3.88v3.89h-3.88zM209.24 277.25h3.88v3.88h-3.88zM310.23 281.13h3.89v3.89h-3.89z"/>
<path fill="#0087ff" d="M248.08 172.37h3.89v3.88h-3.89zM259.73 191.79h3.89v3.88h-3.89zM205.35 207.33h3.89v3.88h-3.89zM263.62 207.33h3.88v3.88h-3.88zM228.66 211.21h3.88v3.89h-3.88zM267.5 215.1h3.89v3.88h-3.89zM306.35 215.1h3.88v3.88h-3.88zM209.24 218.98h7.77v3.89h-7.77zM306.35 218.98h3.88v3.89h-3.88zM271.39 226.75h3.88v3.88h-3.88zM197.58 234.52h3.89v3.88h-3.89zM290.81 250.06h3.88v3.88h-3.88zM271.39 253.94h3.88v3.88h-3.88zM283.04 261.71h3.89v3.88h-3.89zM275.27 265.59h3.89v3.89h-3.89zM302.46 265.59h3.89v3.89h-3.89zM251.97 273.36h3.88v3.89h-3.88zM263.62 273.36h3.88v3.89h-3.88zM197.58 277.25h3.89v3.88h-3.89zM255.85 277.25h7.77v3.88h-7.77zM310.23 285.02h3.89v3.88h-3.89z"/>
<path fill="#0092ff" d="M302.46 164.6h3.89v3.88h-3.89zM302.46 168.48h3.89v3.89h-3.89zM298.58 176.25h3.88v3.89h-3.88zM290.81 180.14h3.88v3.88h-3.88zM275.27 184.02h3.89v3.89h-3.89zM255.85 187.91h3.88v3.88h-3.88zM205.35 199.56h3.89v3.88h-3.89zM224.77 211.21h3.89v3.89h-3.89zM290.81 238.4h3.88v3.89h-3.88zM286.93 250.06h3.88v3.88h-3.88zM267.5 253.94h3.89v3.88h-3.89zM283.04 253.94h3.89v3.88h-3.89zM298.58 253.94h3.88v3.88h-3.88zM259.73 257.82h3.89v3.89h-3.89zM244.2 265.59h7.77v3.89h-7.77zM240.31 269.48h3.89v3.88h-3.89zM302.46 269.48h3.89v3.88h-3.89zM248.08 273.36h3.89v3.89h-3.89zM193.7 277.25h3.88v3.88h-3.88zM306.35 277.25h3.88v3.88h-3.88zM201.47 281.13h7.77v3.89h-7.77z"/>
<path fill="#009eff" d="M267.5 172.37h3.89v3.88h-3.89zM302.46 172.37h3.89v3.88h-3.89zM248.08 176.25h3.89v3.89h-3.89zM286.93 184.02h3.88v3.89h-3.88zM314.12 184.02h3.88v3.89h-3.88zM283.04 187.91h3.89v3.88h-3.89zM201.47 195.67h3.88v3.89h-3.88zM302.46 199.56h3.89v3.88h-3.89zM205.35 203.44h3.89v3.89h-3.89zM263.62 203.44h3.88v3.89h-3.88zM220.89 215.1h3.88v3.88h-3.88zM217.01 218.98h3.88v3.89h-3.88zM271.39 218.98h3.88v3.89h-3.88zM255.85 226.75h3.88v3.88h-3.88zM302.46 226.75h3.89v3.88h-3.89zM263.62 230.63h7.77v3.89h-7.77zM298.58 257.82h3.88v3.89h-3.88zM240.31 265.59h3.89v3.89h-3.89z"/>
<path fill="#00aaff" d="M267.5 168.48h3.89v3.89h-3.89zM267.5 176.25h3.89v3.89h-3.89zM294.69 180.14h3.89v3.88h-3.89zM248.08 184.02h3.89v3.89h-3.89zM310.23 184.02h3.89v3.89h-3.89zM279.16 187.91h3.88v3.88h-3.88zM306.35 191.79h3.88v3.88h-3.88zM263.62 199.56h3.88v3.88h-3.88zM302.46 211.21h3.89v3.89h-3.89zM232.54 215.1h3.89v3.88h-3.89zM205.35 218.98h3.89v3.89h-3.89zM248.08 218.98h3.89v3.89h-3.89zM220.89 226.75h3.88v3.88h-3.88zM271.39 230.63h3.88v3.89h-3.88zM294.69 234.52h3.89v3.88h-3.89zM201.47 238.4h3.88v3.89h-3.88zM283.04 250.06h3.89v3.88h-3.89zM209.24 253.94h3.88v3.88h-3.88zM294.69 253.94h3.89v3.88h-3.89zM213.12 261.71h3.89v3.88h-3.89zM244.2 273.36h3.88v3.89h-3.88zM213.12 277.25h3.89v3.88h-3.89zM251.97 277.25h3.88v3.88h-3.88zM193.7 281.13h7.77v3.89h-7.77zM255.85 281.13h7.77v3.89h-7.77zM201.47 285.02h3.88v3.88h-3.88z"/>
<path fill="#00b6ff" d="M267.5 164.6h3.89v3.88h-3.89zM302.46 176.25h3.89v3.89h-3.89zM197.58 195.67h3.89v3.89h-3.89zM201.47 218.98h3.88v3.89h-3.88zM217.01 222.87h3.88v3.88h-3.88zM251.97 222.87h3.88v3.88h-3.88zM275.27 222.87h3.89v3.88h-3.89zM302.46 222.87h3.89v3.88h-3.89zM275.27 226.75h3.89v3.88h-3.89zM259.73 230.63h3.89v3.89h-3.89zM298.58 230.63h3.88v3.89h-3.88zM286.93 253.94h3.88v3.88h-3.88zM286.93 257.82h3.88v3.89h-3.88zM298.58 261.71h3.88v3.88h-3.88zM279.16 265.59h3.88v3.89h-3.88zM271.39 269.48h3.88v3.88h-3.88zM302.46 273.36h3.89v3.89h-3.89zM263.62 277.25h3.88v3.88h-3.88zM197.58 285.02h3.89v3.88h-3.89zM205.35 285.02h3.89v3.88h-3.89zM255.85 285.02h7.77v3.88h-7.77z"/>
<path fill="#00c3ff" d="M251.97 164.6h3.88v3.88h-3.88zM251.97 168.48h3.88v3.89h-3.88zM248.08 180.14h3.89v3.88h-3.89zM298.58 180.14h3.88v3.88h-3.88zM271.39 184.02h3.88v3.89h-3.88zM259.73 187.91h3.89v3.88h-3.89zM193.7 195.67h3.88v3.89h-3.88zM302.46 195.67h3.89v3.89h-3.89zM201.47 207.33h3.88v3.88h-3.88zM267.5 211.21h3.89v3.89h-3.89zM302.46 215.1h3.89v3.88h-3.89zM220.89 218.98h3.88v3.89h-3.88zM244.2 218.98h3.88v3.89h-3.88zM302.46 218.98h3.89v3.89h-3.89zM213.12 222.87h3.89v3.88h-3.89zM220.89 222.87h3.88v3.88h-3.88zM217.01 226.75h3.88v3.88h-3.88zM224.77 226.75h3.89v3.88h-3.89zM220.89 230.63h3.88v3.89h-3.88zM205.35 242.29h3.89v3.88h-3.89zM283.04 246.17h3.89v3.89h-3.89zM279.16 250.06h3.88v3.88h-3.88zM263.62 253.94h3.88v3.88h-3.88zM290.81 253.94h3.88v3.88h-3.88zM294.69 257.82h3.89v3.89h-3.89zM251.97 261.71h3.88v3.88h-3.88zM236.43 265.59h3.88v3.89h-3.88zM298.58 265.59h3.88v3.89h-3.88zM217.01 269.48h3.88v3.88h-3.88zM236.43 269.48h3.88v3.88h-3.88zM267.5 273.36h3.89v3.89h-3.89zM209.24 281.13h3.88v3.89h-3.88zM306.35 281.13h3.88v3.89h-3.88zM193.7 285.02h3.88v3.88h-3.88z"/>
<path fill="#00cfff" d="M251.97 172.37h3.88v3.88h-3.88zM306.35 172.37h3.88v3.88h-3.88zM306.35 176.25h3.88v3.89h-3.88zM267.5 180.14h3.89v3.88h-3.89zM302.46 180.14h3.89v3.88h-3.89zM310.23 180.14h7.77v3.88h-7.77zM290.81 184.02h3.88v3.89h-3.88zM306.35 184.02h3.88v3.89h-3.88zM306.35 187.91h3.88v3.88h-3.88zM263.62 195.67h3.88v3.89h-3.88zM224.77 215.1h3.89v3.88h-3.89zM197.58 218.98h3.89v3.89h-3.89zM240.31 218.98h3.89v3.89h-3.89zM224.77 230.63h3.89v3.89h-3.89zM275.27 230.63h3.89v3.89h-3.89zM286.93 238.4h3.88v3.89h-3.88zM209.24 250.06h3.88v3.88h-3.88zM275.27 250.06h3.89v3.88h-3.89zM290.81 257.82h3.88v3.89h-3.88zM286.93 261.71h3.88v3.88h-3.88zM217.01 265.59h3.88v3.89h-3.88zM217.01 273.36h3.88v3.89h-3.88zM240.31 273.36h3.89v3.89h-3.89zM248.08 277.25h3.89v3.88h-3.89zM302.46 277.25h3.89v3.88h-3.89zM306.35 285.02h3.88v3.88h-3.88z"/>
<path fill="#00dcff" d="M306.35 164.6h3.88v3.88h-3.88zM306.35 168.48h3.88v3.89h-3.88zM306.35 180.14h3.88v3.88h-3.88zM286.93 187.91h3.88v3.88h-3.88zM283.04 191.79h3.89v3.88h-3.89zM201.47 199.56h3.88v3.88h-3.88zM197.58 207.33h3.89v3.88h-3.89zM228.66 215.1h3.88v3.88h-3.88zM193.7 218.98h3.88v3.89h-3.88zM209.24 222.87h3.88v3.88h-3.88zM217.01 230.63h3.88v3.89h-3.88zM283.04 242.29h3.89v3.88h-3.89zM271.39 250.06h3.88v3.88h-3.88zM255.85 257.82h3.88v3.89h-3.88zM294.69 261.71h3.89v3.88h-3.89zM283.04 265.59h3.89v3.89h-3.89zM298.58 269.48h3.88v3.88h-3.88zM251.97 281.13h3.88v3.89h-3.88zM263.62 281.13h3.88v3.89h-3.88z"/>
<path fill="#00e8fe" d="M310.23 176.25h7.77v3.89h-7.77zM294.69 184.02h3.89v3.89h-3.89zM302.46 184.02h3.89v3.89h-3.89zM201.47 203.44h3.88v3.89h-3.88zM193.7 207.33h3.88v3.88h-3.88zM224.77 218.98h3.89v3.89h-3.89zM236.43 218.98h3.88v3.89h-3.88zM275.27 218.98h3.89v3.89h-3.89zM224.77 222.87h3.89v3.88h-3.89zM279.16 226.75h3.88v3.88h-3.88zM298.58 226.75h3.88v3.88h-3.88zM267.5 250.06h3.89v3.88h-3.89zM213.12 257.82h3.89v3.89h-3.89zM244.2 261.71h7.77v3.88h-7.77zM290.81 261.71h3.88v3.88h-3.88zM236.43 273.36h3.88v3.89h-3.88zM217.01 277.25h3.88v3.88h-3.88zM213.12 281.13h3.89v3.89h-3.89zM209.24 285.02h3.88v3.88h-3.88z"/>
<path fill="#00ecf2" d="M263.62 172.37h3.88v3.88h-3.88zM310.23 172.37h3.89v3.88h-3.89zM251.97 176.25h3.88v3.89h-3.88zM251.97 184.02h3.88v3.89h-3.88zM298.58 184.02h3.88v3.89h-3.88zM197.58 199.56h3.89v3.88h-3.89zM298.58 199.56h3.88v3.88h-3.88zM298.58 203.44h3.88v3.89h-3.88zM298.58 207.33h3.88v3.88h-3.88zM205.35 222.87h3.89v3.88h-3.89zM279.16 222.87h3.88v3.88h-3.88zM228.66 226.75h3.88v3.88h-3.88zM193.7 230.63h3.88v3.89h-3.88zM255.85 230.63h3.88v3.89h-3.88zM279.16 230.63h3.88v3.89h-3.88zM294.69 230.63h3.89v3.89h-3.89zM267.5 234.52h11.66v3.88h-11.66zM290.81 234.52h3.88v3.88h-3.88zM240.31 261.71h3.89v3.88h-3.89zM294.69 265.59h3.89v3.89h-3.89zM232.54 269.48h3.89v3.88h-3.89zM275.27 269.48h3.89v3.88h-3.89zM298.58 273.36h3.88v3.89h-3.88zM251.97 285.02h3.88v3.88h-3.88zM263.62 285.02h3.88v3.88h-3.88z"/>
<path fill="#00f0e5" d="M255.85 164.6h3.88v3.88h-3.88zM263.62 164.6h3.88v3.88h-3.88zM263.62 168.48h3.88v3.89h-3.88zM310.23 168.48h3.89v3.89h-3.89zM314.12 172.37h3.88v3.88h-3.88zM263.62 176.25h3.88v3.89h-3.88zM267.5 184.02h3.89v3.89h-3.89zM263.62 191.79h3.88v3.88h-3.88zM279.16 191.79h3.88v3.88h-3.88zM302.46 191.79h3.89v3.88h-3.89zM193.7 199.56h3.88v3.88h-3.88zM271.39 215.1h3.88v3.88h-3.88zM228.66 218.98h7.77v3.89h-7.77zM298.58 222.87h3.88v3.88h-3.88zM213.12 226.75h3.89v3.88h-3.89zM228.66 230.63h3.88v3.89h-3.88zM201.47 234.52h3.88v3.88h-3.88zM220.89 234.52h3.88v3.88h-3.88zM263.62 234.52h3.88v3.88h-3.88zM279.16 234.52h3.88v3.88h-3.88zM283.04 238.4h3.89v3.89h-3.89zM209.24 246.17h3.88v3.89h-3.88zM236.43 261.71h3.88v3.88h-3.88zM232.54 265.59h3.89v3.89h-3.89zM286.93 265.59h3.88v3.89h-3.88zM244.2 277.25h3.88v3.88h-3.88zM302.46 281.13h3.89v3.89h-3.89z"/>
<path fill="#00f4d9" d="M310.23 164.6h3.89v3.88h-3.89zM255.85 168.48h3.88v3.89h-3.88zM255.85 172.37h3.88v3.88h-3.88zM255.85 184.02h3.88v3.89h-3.88zM275.27 187.91h3.89v3.88h-3.89zM290.81 187.91h3.88v3.88h-3.88zM302.46 187.91h3.89v3.88h-3.89zM286.93 191.79h3.88v3.88h-3.88zM298.58 195.67h3.88v3.89h-3.88zM197.58 203.44h3.89v3.89h-3.89zM267.5 207.33h3.89v3.88h-3.89zM298.58 211.21h3.88v3.89h-3.88zM298.58 218.98h3.88v3.89h-3.88zM201.47 222.87h3.88v3.88h-3.88zM228.66 222.87h3.88v3.88h-3.88zM248.08 222.87h3.89v3.88h-3.89zM251.97 226.75h3.88v3.88h-3.88zM197.58 230.63h3.89v3.89h-3.89zM283.04 230.63h3.89v3.89h-3.89zM217.01 234.52h3.88v3.88h-3.88zM224.77 234.52h3.89v3.88h-3.89zM283.04 234.52h7.77v3.88h-7.77zM205.35 238.4h3.89v3.89h-3.89zM279.16 246.17h3.88v3.89h-3.88zM217.01 261.71h3.88v3.88h-3.88zM290.81 265.59h3.88v3.89h-3.88zM220.89 269.48h3.88v3.88h-3.88zM220.89 273.36h3.88v3.89h-3.88zM232.54 273.36h3.89v3.89h-3.89zM267.5 277.25h3.89v3.88h-3.89zM298.58 277.25h3.88v3.88h-3.88zM213.12 285.02h3.89v3.88h-3.89zM302.46 285.02h3.89v3.88h-3.89z"/>
<path fill="#00f9cc" d="M259.73 164.6h3.89v3.88h-3.89zM259.73 168.48h3.89v3.89h-3.89zM314.12 168.48h3.88v3.89h-3.88zM259.73 172.37h3.89v3.88h-3.89zM255.85 176.25h3.88v3.89h-3.88zM251.97 180.14h3.88v3.88h-3.88zM263.62 180.14h3.88v3.88h-3.88zM259.73 184.02h7.77v3.89h-7.77zM263.62 187.91h3.88v3.88h-3.88zM193.7 203.44h3.88v3.89h-3.88zM298.58 215.1h3.88v3.88h-3.88zM197.58 222.87h3.89v3.88h-3.89zM283.04 226.75h3.89v3.88h-3.89zM259.73 234.52h3.89v3.88h-3.89zM220.89 238.4h3.88v3.89h-3.88zM279.16 238.4h3.88v3.89h-3.88zM263.62 250.06h3.88v3.88h-3.88zM279.16 269.48h3.88v3.88h-3.88zM294.69 269.48h3.89v3.88h-3.89zM220.89 277.25h3.88v3.88h-3.88zM217.01 281.13h3.88v3.89h-3.88z"/>
<path fill="#00fbc0" d="M314.12 164.6h3.88v3.88h-3.88zM259.73 176.25h3.89v3.89h-3.89zM283.04 195.67h3.89v3.89h-3.89zM279.16 218.98h3.88v3.89h-3.88zM193.7 222.87h3.88v3.88h-3.88zM232.54 222.87h3.89v3.88h-3.89zM244.2 222.87h3.88v3.88h-3.88zM209.24 226.75h3.88v3.88h-3.88zM232.54 226.75h3.89v3.88h-3.89zM294.69 226.75h3.89v3.88h-3.89zM286.93 230.63h7.76v3.89h-7.76zM217.01 238.4h3.88v3.89h-3.88zM224.77 238.4h3.89v3.89h-3.89zM275.27 238.4h3.89v3.89h-3.89zM209.24 242.29h3.88v3.88h-3.88zM220.89 242.29h3.88v3.88h-3.88zM279.16 242.29h3.88v3.88h-3.88zM213.12 253.94h3.89v3.88h-3.89zM259.73 253.94h3.89v3.88h-3.89zM251.97 257.82h3.88v3.89h-3.88zM220.89 265.59h3.88v3.89h-3.88zM228.66 269.48h3.88v3.88h-3.88zM224.77 273.36h7.77v3.89h-7.77zM271.39 273.36h3.88v3.89h-3.88zM224.77 277.25h7.77v3.88h-7.77zM236.43 277.25h7.77v3.88h-7.77zM248.08 281.13h3.89v3.89h-3.89z"/>
<path fill="#00fcb5" d="M255.85 180.14h7.77v3.88h-7.77zM294.69 187.91h7.77v3.88h-7.77zM290.81 191.79h3.88v3.88h-3.88zM298.58 191.79h3.88v3.88h-3.88zM286.93 195.67h3.88v3.89h-3.88zM267.5 199.56h3.89v3.88h-3.89zM267.5 203.44h3.89v3.89h-3.89zM236.43 222.87h7.77v3.88h-7.77zM283.04 222.87h3.89v3.88h-3.89zM213.12 230.63h3.89v3.89h-3.89zM228.66 234.52h3.88v3.88h-3.88zM267.5 238.4h7.77v3.89h-7.77zM217.01 242.29h3.88v3.88h-3.88zM275.27 246.17h3.89v3.89h-3.89zM224.77 269.48h3.89v3.88h-3.89zM232.54 277.25h3.89v3.88h-3.89zM220.89 281.13h7.77v3.89h-7.77zM298.58 281.13h3.88v3.89h-3.88zM224.77 285.02h3.89v3.88h-3.89z"/>
<path fill="#00fda9" d="M267.5 187.91h7.77v3.88h-7.77zM267.5 195.67h3.89v3.89h-3.89zM290.81 195.67h7.77v3.89h-7.77zM294.69 199.56h3.89v3.88h-3.89zM294.69 222.87h3.89v3.88h-3.89zM193.7 226.75h15.54v3.88h-15.54zM201.47 230.63h3.88v3.89h-3.88zM232.54 230.63h3.89v3.89h-3.89zM205.35 234.52h3.89v3.88h-3.89zM213.12 234.52h3.89v3.88h-3.89zM255.85 234.52h3.88v3.88h-3.88zM263.62 238.4h3.88v3.89h-3.88zM224.77 242.29h3.89v3.88h-3.89zM213.12 246.17h3.89v3.89h-3.89zM267.5 246.17h3.89v3.89h-3.89zM213.12 250.06h3.89v3.88h-3.89zM217.01 257.82h3.88v3.89h-3.88zM236.43 257.82h11.65v3.89h-11.65zM232.54 261.71h3.89v3.88h-3.89zM283.04 269.48h3.89v3.88h-3.89zM228.66 281.13h3.88v3.89h-3.88zM217.01 285.02h7.76v3.88h-7.76zM228.66 285.02h3.88v3.88h-3.88zM298.58 285.02h3.88v3.88h-3.88z"/>
<path fill="#00fe9d" d="M294.69 191.79h3.89v3.88h-3.89zM236.43 226.75h3.88v3.88h-3.88zM286.93 226.75h7.76v3.88h-7.76zM209.24 238.4h7.77v3.89h-7.77zM228.66 238.4h3.88v3.89h-3.88zM259.73 238.4h3.89v3.89h-3.89zM213.12 242.29h3.89v3.88h-3.89zM217.01 246.17h3.88v3.89h-3.88zM263.62 246.17h3.88v3.89h-3.88zM271.39 246.17h3.88v3.89h-3.88zM248.08 257.82h3.89v3.89h-3.89zM228.66 265.59h3.88v3.89h-3.88zM290.81 269.48h3.88v3.88h-3.88zM294.69 273.36h3.89v3.89h-3.89zM267.5 281.13h3.89v3.89h-3.89zM248.08 285.02h3.89v3.88h-3.89z"/>
<path fill="#01ff91" d="M267.5 191.79h3.89v3.88h-3.89zM279.16 195.67h3.88v3.89h-3.88zM294.69 203.44h3.89v3.89h-3.89zM271.39 211.21h3.88v3.89h-3.88zM275.27 215.1h3.89v3.88h-3.89zM294.69 218.98h3.89v3.89h-3.89zM248.08 226.75h3.89v3.88h-3.89zM205.35 230.63h7.77v3.89h-7.77zM251.97 230.63h3.88v3.89h-3.88zM209.24 234.52h3.88v3.88h-3.88zM228.66 242.29h3.88v3.88h-3.88zM263.62 242.29h7.77v3.88h-7.77zM275.27 242.29h3.89v3.88h-3.89zM220.89 246.17h7.77v3.89h-7.77zM220.89 261.71h3.88v3.88h-3.88zM224.77 265.59h3.89v3.89h-3.89zM286.93 269.48h3.88v3.88h-3.88zM232.54 281.13h3.89v3.89h-3.89z"/>
<path fill="#04ff86" d="M290.81 199.56h3.88v3.88h-3.88zM294.69 207.33h3.89v3.88h-3.89zM294.69 215.1h3.89v3.88h-3.89zM283.04 218.98h3.89v3.89h-3.89zM240.31 226.75h7.77v3.88h-7.77zM259.73 242.29h3.89v3.88h-3.89zM271.39 242.29h3.88v3.88h-3.88zM228.66 246.17h3.88v3.89h-3.88zM259.73 250.06h3.89v3.88h-3.89zM255.85 253.94h3.88v3.88h-3.88zM232.54 257.82h3.89v3.89h-3.89zM275.27 273.36h3.89v3.89h-3.89zM267.5 285.02h3.89v3.88h-3.89z"/>
<path fill="#07ff7a" d="M275.27 191.79h3.89v3.88h-3.89zM294.69 211.21h3.89v3.89h-3.89zM286.93 222.87h7.76v3.88h-7.76zM236.43 230.63h3.88v3.89h-3.88zM232.54 234.52h3.89v3.88h-3.89zM255.85 238.4h3.88v3.89h-3.88zM259.73 246.17h3.89v3.89h-3.89zM294.69 277.25h3.89v3.88h-3.89zM232.54 285.02h3.89v3.88h-3.89z"/>
<path fill="#0aff6e" d="M286.93 199.56h3.88v3.88h-3.88zM232.54 238.4h3.89v3.89h-3.89zM232.54 242.29h3.89v3.88h-3.89zM255.85 242.29h3.88v3.88h-3.88zM232.54 246.17h3.89v3.89h-3.89zM217.01 250.06h3.88v3.88h-3.88zM228.66 250.06h3.88v3.88h-3.88zM217.01 253.94h3.88v3.88h-3.88zM232.54 253.94h7.77v3.88h-7.77zM236.43 281.13h3.88v3.89h-3.88zM294.69 281.13h3.89v3.89h-3.89z"/>
<path fill="#18ff64" d="M271.39 191.79h3.88v3.88h-3.88zM283.04 199.56h3.89v3.88h-3.89zM279.16 215.1h3.88v3.88h-3.88zM251.97 234.52h3.88v3.88h-3.88zM224.77 250.06h3.89v3.88h-3.89zM232.54 250.06h3.89v3.88h-3.89zM240.31 253.94h3.89v3.88h-3.89zM220.89 257.82h3.88v3.89h-3.88zM271.39 277.25h3.88v3.88h-3.88zM244.2 281.13h3.88v3.89h-3.88zM294.69 285.02h3.89v3.88h-3.89z"/>
<path fill="#27ff5a" d="M286.93 218.98h7.76v3.89h-7.76zM240.31 230.63h3.89v3.89h-3.89zM248.08 230.63h3.89v3.89h-3.89zM255.85 246.17h3.88v3.89h-3.88zM220.89 250.06h3.88v3.88h-3.88zM228.66 253.94h3.88v3.88h-3.88zM251.97 253.94h3.88v3.88h-3.88zM228.66 261.71h3.88v3.88h-3.88zM279.16 273.36h3.88v3.89h-3.88z"/>
<path fill="#38ff4d" d="M271.39 207.33h3.88v3.88h-3.88zM244.2 230.63h3.88v3.89h-3.88zM236.43 234.52h3.88v3.88h-3.88zM236.43 246.17h3.88v3.89h-3.88zM236.43 250.06h3.88v3.88h-3.88zM255.85 250.06h3.88v3.88h-3.88zM220.89 253.94h7.77v3.88h-7.77zM244.2 253.94h3.88v3.88h-3.88zM224.77 261.71h3.89v3.88h-3.89zM290.81 273.36h3.88v3.89h-3.88zM240.31 281.13h3.89v3.89h-3.89zM236.43 285.02h3.88v3.88h-3.88z"/>
<path fill="#4aff3e" d="M271.39 195.67h7.77v3.89h-7.77zM279.16 199.56h3.88v3.88h-3.88zM290.81 203.44h3.88v3.89h-3.88zM275.27 211.21h3.89v3.89h-3.89zM283.04 215.1h3.89v3.88h-3.89zM290.81 215.1h3.88v3.88h-3.88zM251.97 238.4h3.88v3.89h-3.88zM236.43 242.29h3.88v3.88h-3.88zM251.97 242.29h3.88v3.88h-3.88zM248.08 253.94h3.89v3.88h-3.89zM228.66 257.82h3.88v3.89h-3.88zM283.04 273.36h3.89v3.89h-3.89z"/>
<path fill="#5dff2f" d="M290.81 211.21h3.88v3.89h-3.88zM248.08 234.52h3.89v3.88h-3.89zM236.43 238.4h3.88v3.89h-3.88zM251.97 246.17h3.88v3.89h-3.88zM240.31 250.06h3.89v3.88h-3.89zM224.77 257.82h3.89v3.89h-3.89z"/>
<path fill="#72ff1f" d="M271.39 199.56h3.88v3.88h-3.88zM271.39 203.44h3.88v3.89h-3.88zM290.81 207.33h3.88v3.88h-3.88zM286.93 215.1h3.88v3.88h-3.88zM251.97 250.06h3.88v3.88h-3.88zM286.93 273.36h3.88v3.89h-3.88zM244.2 285.02h3.88v3.88h-3.88z"/>
<path fill="#87ff0e" d="M248.08 238.4h3.89v3.89h-3.89zM248.08 242.29h3.89v3.88h-3.89zM240.31 246.17h3.89v3.89h-3.89zM248.08 246.17h3.89v3.89h-3.89zM244.2 250.06h3.88v3.88h-3.88zM275.27 277.25h3.89v3.88h-3.89z"/>
<path fill="#98ff08" d="M286.93 203.44h3.88v3.89h-3.88zM279.16 211.21h3.88v3.89h-3.88zM240.31 234.52h7.77v3.88h-7.77zM248.08 250.06h3.89v3.88h-3.89zM290.81 277.25h3.88v3.88h-3.88zM271.39 281.13h3.88v3.89h-3.88zM240.31 285.02h3.89v3.88h-3.89z"/>
<path fill="#a8ff05" d="M275.27 199.56h3.89v3.88h-3.89zM283.04 211.21h7.77v3.89h-7.77zM240.31 242.29h3.89v3.88h-3.89zM244.2 246.17h3.88v3.89h-3.88z"/>
<path fill="#b7ff03" d="M283.04 203.44h3.89v3.89h-3.89zM240.31 238.4h7.77v3.89h-7.77zM244.2 242.29h3.88v3.88h-3.88zM279.16 277.25h3.88v3.88h-3.88zM290.81 281.13h3.88v3.89h-3.88z"/>
<path fill="#c7ff00" d="M279.16 203.44h3.88v3.89h-3.88zM275.27 207.33h3.89v3.88h-3.89zM286.93 207.33h3.88v3.88h-3.88zM290.81 285.02h3.88v3.88h-3.88z"/>
<path fill="#d5fd00" d="M275.27 203.44h3.89v3.89h-3.89zM283.04 277.25h7.77v3.88h-7.77zM271.39 285.02h3.88v3.88h-3.88z"/>
<path fill="#e3fa00" d="M279.16 207.33h7.77v3.88h-7.77z"/>
<path fill="#fff500" d="M275.27 281.13h3.89v3.89h-3.89z"/>
<path fill="#ffeb00" d="M286.93 281.13h3.88v3.89h-3.88z"/>
<path fill="#ffd500" d="M279.16 281.13h7.77v3.89h-7.77zM286.93 285.02h3.88v3.88h-3.88z"/>
<path fill="#ffcb00" d="M275.27 285.02h3.89v3.88h-3.89z"/>
<path fill="#ffb600" d="M279.16 285.02h7.77v3.88h-7.77z"/>
</g>
<g id="uwind" filter="url(#soft)">
<rect x="391.60" y="164.00" width="123.60" height="123.80" fill="#a8ff05"/>
<path fill="#00b6ff" d="M507.48 164h7.72v3.87h-7.72zM507.48 167.87h7.72v3.87h-7.72zM507.48 171.74h7.72v3.87h-7.72z"/>
<path fill="#00c3ff" d="M503.61 164h3.87v3.87h-3.87zM503.61 167.87h3.87v3.87h-3.87zM507.48 175.61h7.72v3.86h-7.72zM511.34 179.47h3.86v3.87h-3.86z"/>
<path fill="#00cfff" d="M503.61 171.74h3.87v3.87h-3.87zM503.61 175.61h3.87v3.86h-3.87zM507.48 179.47h3.86v3.87h-3.86zM511.34 183.34h3.86v3.87h-3.86z"/>
<path fill="#00dcff" d="M499.75 164h3.86v3.87h-3.86zM499.75 167.87h3.86v3.87h-3.86zM503.61 179.47h3.87v3.87h-3.87zM507.48 183.34h3.86v3.87h-3.86z"/>
<path fill="#00e8fe" d="M499.75 171.74h3.86v3.87h-3.86zM499.75 175.61h3.86v3.86h-3.86zM499.75 179.47h3.86v3.87h-3.86zM503.61 183.34h3.87v3.87h-3.87zM507.48 187.21h7.72v3.87h-7.72z"/>
<path fill="#00ecf2" d="M499.75 183.34h3.86v3.87h-3.86zM503.61 187.21h3.87v3.87h-3.87zM507.48 191.08h7.72v3.87h-7.72z"/>
<path fill="#00f0e5" d="M495.89 164h3.86v3.87h-3.86zM495.89 167.87h3.86v3.87h-3.86zM495.89 171.74h3.86v3.87h-3.86zM495.89 175.61h3.86v3.86h-3.86zM499.75 187.21h3.86v3.87h-3.86zM503.61 191.08h3.87v3.87h-3.87zM507.48 194.95h7.72v3.87h-7.72z"/>
<path fill="#00f4d9" d="M495.89 179.47h3.86v3.87h-3.86zM495.89 183.34h3.86v3.87h-3.86zM499.75 191.08h3.86v3.87h-3.86zM503.61 194.95h3.87v3.87h-3.87zM511.34 198.82h3.86v3.87h-3.86z"/>
<path fill="#00f9cc" d="M492.03 164h3.86v3.87h-3.86zM492.03 167.87h3.86v3.87h-3.86zM492.03 171.74h3.86v3.87h-3.86zM492.03 175.61h3.86v3.86h-3.86zM495.89 187.21h3.86v3.87h-3.86zM499.75 194.95h3.86v3.87h-3.86zM503.61 198.82h7.73v3.87h-7.73z"/>
<path fill="#00fbc0" d="M492.03 179.47h3.86v3.87h-3.86zM492.03 183.34h3.86v3.87h-3.86zM495.89 191.08h3.86v3.87h-3.86zM495.89 194.95h3.86v3.87h-3.86zM499.75 198.82h3.86v3.87h-3.86zM503.61 202.69h11.59v3.87h-11.59z"/>
<path fill="#00fcb5" d="M488.16 164h3.87v3.87h-3.87zM488.16 167.87h3.87v3.87h-3.87zM488.16 171.74h3.87v3.87h-3.87zM488.16 175.61h3.87v3.86h-3.87zM492.03 187.21h3.86v3.87h-3.86zM492.03 191.08h3.86v3.87h-3.86zM495.89 198.82h3.86v3.87h-3.86zM499.75 202.69h3.86v3.87h-3.86zM503.61 206.56h11.59v3.87h-11.59z"/>
<path fill="#00fda9" d="M488.16 179.47h3.87v3.87h-3.87zM488.16 183.34h3.87v3.87h-3.87zM488.16 187.21h3.87v3.87h-3.87zM492.03 194.95h3.86v3.87h-3.86zM492.03 198.82h3.86v3.87h-3.86zM495.89 202.69h3.86v3.87h-3.86zM499.75 206.56h3.86v3.87h-3.86zM503.61 210.43h11.59v3.86h-11.59z"/>
<path fill="#00fe9d" d="M484.3 164h3.86v3.87h-3.86zM484.3 167.87h3.86v3.87h-3.86zM484.3 171.74h3.86v3.87h-3.86zM484.3 175.61h3.86v3.86h-3.86zM484.3 179.47h3.86v3.87h-3.86zM484.3 183.34h3.86v3.87h-3.86zM488.16 191.08h3.87v3.87h-3.87zM488.16 194.95h3.87v3.87h-3.87zM488.16 198.82h3.87v3.87h-3.87zM492.03 202.69h3.86v3.87h-3.86zM492.03 206.56h7.72v3.87h-7.72zM495.89 210.43h7.72v3.86h-7.72zM499.75 214.29h15.45v3.87h-15.45zM507.48 218.16h7.72v3.87h-7.72z"/>
<path fill="#01ff91" d="M480.44 164h3.86v3.87h-3.86zM480.44 167.87h3.86v3.87h-3.86zM480.44 171.74h3.86v3.87h-3.86zM480.44 175.61h3.86v3.86h-3.86zM480.44 179.47h3.86v3.87h-3.86zM484.3 187.21h3.86v3.87h-3.86zM484.3 191.08h3.86v3.87h-3.86zM484.3 194.95h3.86v3.87h-3.86zM484.3 198.82h3.86v3.87h-3.86zM488.16 202.69h3.87v3.87h-3.87zM488.16 206.56h3.87v3.87h-3.87zM492.03 210.43h3.86v3.86h-3.86zM492.03 214.29h7.72v3.87h-7.72zM495.89 218.16h11.59v3.87h-11.59zM499.75 222.03h15.45v3.87h-15.45zM507.48 225.9h7.72v3.87h-7.72z"/>
<path fill="#04ff86" d="M472.71 164h7.73v3.87h-7.73zM472.71 167.87h7.73v3.87h-7.73zM476.58 171.74h3.86v3.87h-3.86zM476.58 175.61h3.86v3.86h-3.86zM476.58 179.47h3.86v3.87h-3.86zM480.44 183.34h3.86v3.87h-3.86zM480.44 187.21h3.86v3.87h-3.86zM480.44 191.08h3.86v3.87h-3.86zM480.44 194.95h3.86v3.87h-3.86zM480.44 198.82h3.86v3.87h-3.86zM484.3 202.69h3.86v3.87h-3.86zM484.3 206.56h3.86v3.87h-3.86zM488.16 210.43h3.87v3.86h-3.87zM488.16 214.29h3.87v3.87h-3.87zM492.03 218.16h3.86v3.87h-3.86zM495.89 222.03h3.86v3.87h-3.86zM499.75 225.9h7.73v3.87h-7.73zM499.75 229.77h15.45v3.87h-15.45zM507.48 233.64h7.72v3.87h-7.72z"/>
<path fill="#07ff7a" d="M468.85 164h3.86v3.87h-3.86zM468.85 167.87h3.86v3.87h-3.86zM468.85 171.74h7.73v3.87h-7.73zM472.71 175.61h3.87v3.86h-3.87zM472.71 179.47h3.87v3.87h-3.87zM472.71 183.34h7.73v3.87h-7.73zM476.58 187.21h3.86v3.87h-3.86zM476.58 191.08h3.86v3.87h-3.86zM476.58 194.95h3.86v3.87h-3.86zM476.58 198.82h3.86v3.87h-3.86zM480.44 202.69h3.86v3.87h-3.86zM480.44 206.56h3.86v3.87h-3.86zM484.3 210.43h3.86v3.86h-3.86zM484.3 214.29h3.86v3.87h-3.86zM488.16 218.16h3.87v3.87h-3.87zM492.03 222.03h3.86v3.87h-3.86zM492.03 225.9h7.72v3.87h-7.72zM495.89 229.77h3.86v3.87h-3.86zM499.75 233.64h7.73v3.87h-7.73zM503.61 237.51h11.59v3.87h-11.59z"/>
<path fill="#0aff6e" d="M464.99 164h3.86v3.87h-3.86zM464.99 167.87h3.86v3.87h-3.86zM464.99 171.74h3.86v3.87h-3.86zM464.99 175.61h7.72v3.86h-7.72zM468.85 179.47h3.86v3.87h-3.86zM468.85 183.34h3.86v3.87h-3.86zM472.71 187.21h3.87v3.87h-3.87zM472.71 191.08h3.87v3.87h-3.87zM472.71 194.95h3.87v3.87h-3.87zM472.71 198.82h3.87v3.87h-3.87zM476.58 202.69h3.86v3.87h-3.86zM476.58 206.56h3.86v3.87h-3.86zM480.44 210.43h3.86v3.86h-3.86zM484.3 218.16h3.86v3.87h-3.86zM488.16 222.03h3.87v3.87h-3.87zM488.16 225.9h3.87v3.87h-3.87zM492.03 229.77h3.86v3.87h-3.86zM495.89 233.64h3.86v3.87h-3.86zM499.75 237.51h3.86v3.87h-3.86zM503.61 241.38h11.59v3.86h-11.59z"/>
<path fill="#18ff64" d="M391.6 164h7.73v3.87h-7.73zM457.26 164h7.73v3.87h-7.73zM457.26 167.87h7.73v3.87h-7.73zM457.26 171.74h7.73v3.87h-7.73zM461.12 175.61h3.87v3.86h-3.87zM464.99 179.47h3.86v3.87h-3.86zM464.99 183.34h3.86v3.87h-3.86zM468.85 187.21h3.86v3.87h-3.86zM468.85 191.08h3.86v3.87h-3.86zM468.85 194.95h3.86v3.87h-3.86zM472.71 202.69h3.87v3.87h-3.87zM476.58 210.43h3.86v3.86h-3.86zM480.44 214.29h3.86v3.87h-3.86zM480.44 218.16h3.86v3.87h-3.86zM484.3 222.03h3.86v3.87h-3.86zM488.16 229.77h3.87v3.87h-3.87zM492.03 233.64h3.86v3.87h-3.86zM495.89 237.51h3.86v3.87h-3.86zM499.75 241.38h3.86v3.86h-3.86zM503.61 245.24h11.59v3.87h-11.59z"/>
<path fill="#27ff5a" d="M399.33 164h15.45v3.87h-15.45zM445.68 164h11.58v3.87h-11.58zM391.6 167.87h23.18v3.87h-23.18zM449.54 167.87h7.72v3.87h-7.72zM391.6 171.74h11.59v3.87h-11.59zM453.4 171.74h3.86v3.87h-3.86zM457.26 175.61h3.86v3.86h-3.86zM457.26 179.47h7.73v3.87h-7.73zM461.12 183.34h3.87v3.87h-3.87zM464.99 187.21h3.86v3.87h-3.86zM464.99 191.08h3.86v3.87h-3.86zM468.85 198.82h3.86v3.87h-3.86zM468.85 202.69h3.86v3.87h-3.86zM472.71 206.56h3.87v3.87h-3.87zM472.71 210.43h3.87v3.86h-3.87zM476.58 214.29h3.86v3.87h-3.86zM480.44 222.03h3.86v3.87h-3.86zM484.3 225.9h3.86v3.87h-3.86zM484.3 229.77h3.86v3.87h-3.86zM488.16 233.64h3.87v3.87h-3.87zM492.03 237.51h3.86v3.87h-3.86zM495.89 241.38h3.86v3.86h-3.86zM499.75 245.24h3.86v3.87h-3.86zM511.34 249.11h3.86v3.87h-3.86z"/>
<path fill="#38ff4d" d="M414.78 164h30.9v3.87h-30.9zM414.78 167.87h11.58v3.87h-11.58zM437.95 167.87h11.59v3.87h-11.59zM403.19 171.74h15.45v3.87h-15.45zM441.81 171.74h11.59v3.87h-11.59zM391.6 175.61h11.59v3.86h-11.59zM449.54 175.61h7.72v3.86h-7.72zM453.4 179.47h3.86v3.87h-3.86zM457.26 183.34h3.86v3.87h-3.86zM461.12 187.21h3.87v3.87h-3.87zM461.12 191.08h3.87v3.87h-3.87zM464.99 194.95h3.86v3.87h-3.86zM464.99 198.82h3.86v3.87h-3.86zM468.85 206.56h3.86v3.87h-3.86zM472.71 214.29h3.87v3.87h-3.87zM476.58 218.16h3.86v3.87h-3.86zM476.58 222.03h3.86v3.87h-3.86zM480.44 225.9h3.86v3.87h-3.86zM484.3 233.64h3.86v3.87h-3.86zM488.16 237.51h3.87v3.87h-3.87zM492.03 241.38h3.86v3.86h-3.86zM495.89 245.24h3.86v3.87h-3.86zM499.75 249.11h11.59v3.87h-11.59z"/>
<path fill="#4aff3e" d="M426.36 167.87h11.59v3.87h-11.59zM418.64 171.74h23.17v3.87h-23.17zM403.19 175.61h11.59v3.86h-11.59zM441.81 175.61h7.73v3.86h-7.73zM449.54 179.47h3.86v3.87h-3.86zM453.4 183.34h3.86v3.87h-3.86zM457.26 187.21h3.86v3.87h-3.86zM461.12 194.95h3.87v3.87h-3.87zM464.99 202.69h3.86v3.87h-3.86zM468.85 210.43h3.86v3.86h-3.86zM472.71 218.16h3.87v3.87h-3.87zM476.58 225.9h3.86v3.87h-3.86zM480.44 229.77h3.86v3.87h-3.86zM480.44 233.64h3.86v3.87h-3.86zM484.3 237.51h3.86v3.87h-3.86zM488.16 241.38h3.87v3.86h-3.87zM492.03 245.24h3.86v3.87h-3.86zM495.89 249.11h3.86v3.87h-3.86zM507.48 252.98h7.72v3.87h-7.72z"/>
<path fill="#5dff2f" d="M414.78 175.61h27.03v3.86h-27.03zM391.6 179.47h19.31v3.87h-19.31zM441.81 179.47h7.73v3.87h-7.73zM449.54 183.34h3.86v3.87h-3.86zM453.4 187.21h3.86v3.87h-3.86zM457.26 191.08h3.86v3.87h-3.86zM457.26 194.95h3.86v3.87h-3.86zM461.12 198.82h3.87v3.87h-3.87zM461.12 202.69h3.87v3.87h-3.87zM464.99 206.56h3.86v3.87h-3.86zM464.99 210.43h3.86v3.86h-3.86zM468.85 214.29h3.86v3.87h-3.86zM468.85 218.16h3.86v3.87h-3.86zM472.71 222.03h3.87v3.87h-3.87zM472.71 225.9h3.87v3.87h-3.87zM476.58 229.77h3.86v3.87h-3.86zM480.44 237.51h3.86v3.87h-3.86zM484.3 241.38h3.86v3.86h-3.86zM488.16 245.24h3.87v3.87h-3.87zM492.03 249.11h3.86v3.87h-3.86zM499.75 252.98h7.73v3.87h-7.73z"/>
<path fill="#72ff1f" d="M410.91 179.47h30.9v3.87h-30.9zM391.6 183.34h15.45v3.87h-15.45zM445.68 183.34h3.86v3.87h-3.86zM449.54 187.21h3.86v3.87h-3.86zM453.4 191.08h3.86v3.87h-3.86zM453.4 194.95h3.86v3.87h-3.86zM457.26 198.82h3.86v3.87h-3.86zM461.12 206.56h3.87v3.87h-3.87zM464.99 214.29h3.86v3.87h-3.86zM464.99 218.16h3.86v3.87h-3.86zM468.85 222.03h3.86v3.87h-3.86zM468.85 225.9h3.86v3.87h-3.86zM472.71 229.77h3.87v3.87h-3.87zM476.58 233.64h3.86v3.87h-3.86zM476.58 237.51h3.86v3.87h-3.86zM480.44 241.38h3.86v3.86h-3.86zM484.3 245.24h3.86v3.87h-3.86zM488.16 249.11h3.87v3.87h-3.87zM495.89 252.98h3.86v3.87h-3.86zM503.61 256.85h11.59v3.87h-11.59z"/>
<path fill="#87ff0e" d="M407.05 183.34h38.63v3.87h-38.63zM391.6 187.21h11.59v3.87h-11.59zM441.81 187.21h7.73v3.87h-7.73zM445.68 191.08h7.72v3.87h-7.72zM449.54 194.95h3.86v3.87h-3.86zM453.4 198.82h3.86v3.87h-3.86zM457.26 202.69h3.86v3.87h-3.86zM457.26 206.56h3.86v3.87h-3.86zM461.12 210.43h3.87v3.86h-3.87zM461.12 214.29h3.87v3.87h-3.87zM461.12 218.16h3.87v3.87h-3.87zM464.99 222.03h3.86v3.87h-3.86zM464.99 225.9h3.86v3.87h-3.86zM464.99 229.77h7.72v3.87h-7.72zM468.85 233.64h7.73v3.87h-7.73zM472.71 237.51h3.87v3.87h-3.87zM476.58 241.38h3.86v3.86h-3.86zM480.44 245.24h3.86v3.87h-3.86zM484.3 249.11h3.86v3.87h-3.86zM492.03 252.98h3.86v3.87h-3.86zM499.75 256.85h3.86v3.87h-3.86z"/>
<path fill="#98ff08" d="M403.19 187.21h38.62v3.87h-38.62zM391.6 191.08h7.73v3.87h-7.73zM437.95 191.08h7.73v3.87h-7.73zM441.81 194.95h7.73v3.87h-7.73zM445.68 198.82h7.72v3.87h-7.72zM449.54 202.69h7.72v3.87h-7.72zM449.54 206.56h7.72v3.87h-7.72zM453.4 210.43h7.72v3.86h-7.72zM457.26 214.29h3.86v3.87h-3.86zM457.26 218.16h3.86v3.87h-3.86zM457.26 222.03h7.73v3.87h-7.73zM457.26 225.9h7.73v3.87h-7.73zM461.12 229.77h3.87v3.87h-3.87zM464.99 233.64h3.86v3.87h-3.86zM468.85 237.51h3.86v3.87h-3.86zM472.71 241.38h3.87v3.86h-3.87zM476.58 245.24h3.86v3.87h-3.86zM480.44 249.11h3.86v3.87h-3.86zM488.16 252.98h3.87v3.87h-3.87zM495.89 256.85h3.86v3.87h-3.86zM503.61 260.72h11.59v3.87h-11.59z"/>
<path fill="#b7ff03" d="M403.19 194.95h19.31v3.87h-19.31zM391.6 198.82h38.63v3.87h-38.63zM422.5 202.69h11.59v3.87h-11.59zM426.36 206.56h11.59v3.87h-11.59zM434.09 210.43h7.72v3.86h-7.72zM437.95 214.29h7.73v3.87h-7.73zM441.81 218.16h7.73v3.87h-7.73zM445.68 222.03h3.86v3.87h-3.86zM445.68 225.9h7.72v3.87h-7.72zM449.54 229.77h7.72v3.87h-7.72zM453.4 233.64h3.86v3.87h-3.86zM457.26 237.51h3.86v3.87h-3.86zM461.12 241.38h7.73v3.86h-7.73zM468.85 245.24h3.86v3.87h-3.86zM472.71 249.11h3.87v3.87h-3.87zM476.58 252.98h3.86v3.87h-3.86zM484.3 256.85h3.86v3.87h-3.86zM492.03 260.72h3.86v3.87h-3.86zM499.75 264.59h7.73v3.87h-7.73z"/>
<path fill="#c7ff00" d="M391.6 202.69h30.9v3.87h-30.9zM407.05 206.56h19.31v3.87h-19.31zM418.64 210.43h15.45v3.86h-15.45zM426.36 214.29h11.59v3.87h-11.59zM434.09 218.16h7.72v3.87h-7.72zM437.95 222.03h7.73v3.87h-7.73zM441.81 225.9h3.87v3.87h-3.87zM445.68 229.77h3.86v3.87h-3.86zM449.54 233.64h3.86v3.87h-3.86zM453.4 237.51h3.86v3.87h-3.86zM457.26 241.38h3.86v3.86h-3.86zM464.99 245.24h3.86v3.87h-3.86zM468.85 249.11h3.86v3.87h-3.86zM472.71 252.98h3.87v3.87h-3.87zM480.44 256.85h3.86v3.87h-3.86zM488.16 260.72h3.87v3.87h-3.87zM495.89 264.59h3.86v3.87h-3.86zM503.61 268.46h11.59v3.87h-11.59z"/>
<path fill="#d5fd00" d="M391.6 206.56h15.45v3.87h-15.45zM391.6 210.43h27.04v3.86h-27.04zM410.91 214.29h15.45v3.87h-15.45zM422.5 218.16h11.59v3.87h-11.59zM426.36 222.03h11.59v3.87h-11.59zM434.09 225.9h7.72v3.87h-7.72zM437.95 229.77h7.73v3.87h-7.73zM441.81 233.64h7.73v3.87h-7.73zM445.68 237.51h7.72v3.87h-7.72zM449.54 241.38h7.72v3.86h-7.72zM457.26 245.24h7.73v3.87h-7.73zM464.99 249.11h3.86v3.87h-3.86zM468.85 252.98h3.86v3.87h-3.86zM476.58 256.85h3.86v3.87h-3.86zM484.3 260.72h3.86v3.87h-3.86zM492.03 264.59h3.86v3.87h-3.86zM495.89 268.46h7.72v3.87h-7.72zM503.61 272.33h11.59v3.86h-11.59z"/>
<path fill="#e3fa00" d="M391.6 214.29h19.31v3.87h-19.31zM407.05 218.16h15.45v3.87h-15.45zM414.78 222.03h11.58v3.87h-11.58zM422.5 225.9h11.59v3.87h-11.59zM426.36 229.77h11.59v3.87h-11.59zM434.09 233.64h7.72v3.87h-7.72zM437.95 237.51h7.73v3.87h-7.73zM441.81 241.38h7.73v3.86h-7.73zM449.54 245.24h7.72v3.87h-7.72zM457.26 249.11h7.73v3.87h-7.73zM464.99 252.98h3.86v3.87h-3.86zM468.85 256.85h7.73v3.87h-7.73zM476.58 260.72h7.72v3.87h-7.72zM484.3 264.59h7.73v3.87h-7.73zM492.03 268.46h3.86v3.87h-3.86zM495.89 272.33h7.72v3.86h-7.72zM503.61 276.19h11.59v3.87h-11.59z"/>
<path fill="#f1f800" d="M391.6 218.16h15.45v3.87h-15.45zM399.33 222.03h15.45v3.87h-15.45zM410.91 225.9h11.59v3.87h-11.59zM418.64 229.77h7.72v3.87h-7.72zM426.36 233.64h7.73v3.87h-7.73zM430.23 237.51h7.72v3.87h-7.72zM434.09 241.38h7.72v3.86h-7.72zM441.81 245.24h7.73v3.87h-7.73zM449.54 249.11h7.72v3.87h-7.72zM461.12 252.98h3.87v3.87h-3.87zM464.99 256.85h3.86v3.87h-3.86zM472.71 260.72h3.87v3.87h-3.87zM480.44 264.59h3.86v3.87h-3.86zM488.16 268.46h3.87v3.87h-3.87zM492.03 272.33h3.86v3.86h-3.86zM495.89 276.19h7.72v3.87h-7.72zM499.75 280.06h15.45v3.87h-15.45zM499.75 283.93h15.45v3.87h-15.45z"/>
<path fill="#fff500" d="M391.6 222.03h7.73v3.87h-7.73zM391.6 225.9h19.31v3.87h-19.31zM410.91 229.77h7.73v3.87h-7.73zM418.64 233.64h7.72v3.87h-7.72zM422.5 237.51h7.73v3.87h-7.73zM426.36 241.38h7.73v3.86h-7.73zM434.09 245.24h7.72v3.87h-7.72zM441.81 249.11h7.73v3.87h-7.73zM453.4 252.98h7.72v3.87h-7.72zM461.12 256.85h3.87v3.87h-3.87zM468.85 260.72h3.86v3.87h-3.86zM472.71 264.59h7.73v3.87h-7.73zM480.44 268.46h7.72v3.87h-7.72zM488.16 272.33h3.87v3.86h-3.87zM492.03 276.19h3.86v3.87h-3.86zM492.03 280.06h7.72v3.87h-7.72zM492.03 283.93h7.72v3.87h-7.72z"/>
<path fill="#ffeb00" d="M391.6 229.77h19.31v3.87h-19.31zM407.05 233.64h11.59v3.87h-11.59zM414.78 237.51h7.72v3.87h-7.72zM418.64 241.38h7.72v3.86h-7.72zM426.36 245.24h7.73v3.87h-7.73zM434.09 249.11h7.72v3.87h-7.72zM441.81 252.98h11.59v3.87h-11.59zM453.4 256.85h7.72v3.87h-7.72zM461.12 260.72h7.73v3.87h-7.73zM468.85 264.59h3.86v3.87h-3.86zM476.58 268.46h3.86v3.87h-3.86zM480.44 272.33h7.72v3.86h-7.72zM484.3 276.19h7.73v3.87h-7.73zM488.16 280.06h3.87v3.87h-3.87zM488.16 283.93h3.87v3.87h-3.87z"/>
<path fill="#ffe000" d="M391.6 233.64h15.45v3.87h-15.45zM403.19 237.51h11.59v3.87h-11.59zM410.91 241.38h7.73v3.86h-7.73zM418.64 245.24h7.72v3.87h-7.72zM426.36 249.11h7.73v3.87h-7.73zM434.09 252.98h7.72v3.87h-7.72zM445.68 256.85h7.72v3.87h-7.72zM457.26 260.72h3.86v3.87h-3.86zM464.99 264.59h3.86v3.87h-3.86zM468.85 268.46h7.73v3.87h-7.73zM476.58 272.33h3.86v3.86h-3.86zM480.44 276.19h3.86v3.87h-3.86zM480.44 280.06h7.72v3.87h-7.72zM480.44 283.93h7.72v3.87h-7.72z"/>
<path fill="#ffd500" d="M391.6 237.51h11.59v3.87h-11.59zM399.33 241.38h11.58v3.86h-11.58zM410.91 245.24h7.73v3.87h-7.73zM418.64 249.11h7.72v3.87h-7.72zM426.36 252.98h7.73v3.87h-7.73zM437.95 256.85h7.73v3.87h-7.73zM445.68 260.72h11.58v3.87h-11.58zM457.26 264.59h7.73v3.87h-7.73zM464.99 268.46h3.86v3.87h-3.86zM468.85 272.33h7.73v3.86h-7.73zM472.71 276.19h7.73v3.87h-7.73zM476.58 280.06h3.86v3.87h-3.86zM476.58 283.93h3.86v3.87h-3.86z"/>
<path fill="#ffcb00" d="M391.6 241.38h7.73v3.86h-7.73zM399.33 245.24h11.58v3.87h-11.58zM410.91 249.11h7.73v3.87h-7.73zM418.64 252.98h7.72v3.87h-7.72zM426.36 256.85h11.59v3.87h-11.59zM437.95 260.72h7.73v3.87h-7.73zM449.54 264.59h7.72v3.87h-7.72zM457.26 268.46h7.73v3.87h-7.73zM464.99 272.33h3.86v3.86h-3.86zM468.85 276.19h3.86v3.87h-3.86zM472.71 280.06h3.87v3.87h-3.87zM472.71 283.93h3.87v3.87h-3.87z"/>
<path fill="#ffc000" d="M391.6 245.24h7.73v3.87h-7.73zM403.19 249.11h7.72v3.87h-7.72zM410.91 252.98h7.73v3.87h-7.73zM418.64 256.85h7.72v3.87h-7.72zM430.23 260.72h7.72v3.87h-7.72zM441.81 264.59h7.73v3.87h-7.73zM449.54 268.46h7.72v3.87h-7.72zM457.26 272.33h7.73v3.86h-7.73zM464.99 276.19h3.86v3.87h-3.86zM464.99 280.06h7.72v3.87h-7.72zM464.99 283.93h7.72v3.87h-7.72z"/>
<path fill="#ffb600" d="M391.6 249.11h11.59v3.87h-11.59zM403.19 252.98h7.72v3.87h-7.72zM414.78 256.85h3.86v3.87h-3.86zM422.5 260.72h7.73v3.87h-7.73zM434.09 264.59h7.72v3.87h-7.72zM441.81 268.46h7.73v3.87h-7.73zM449.54 272.33h7.72v3.86h-7.72zM457.26 276.19h7.73v3.87h-7.73zM461.12 280.06h3.87v3.87h-3.87zM461.12 283.93h3.87v3.87h-3.87z"/>
<path fill="#ffab00" d="M391.6 252.98h11.59v3.87h-11.59zM407.05 256.85h7.73v3.87h-7.73zM414.78 260.72h7.72v3.87h-7.72zM422.5 264.59h11.59v3.87h-11.59zM434.09 268.46h7.72v3.87h-7.72zM441.81 272.33h7.73v3.86h-7.73zM449.54 276.19h7.72v3.87h-7.72zM453.4 280.06h7.72v3.87h-7.72zM453.4 283.93h7.72v3.87h-7.72z"/>
<path fill="#ffa100" d="M395.46 256.85h11.59v3.87h-11.59zM407.05 260.72h7.73v3.87h-7.73zM414.78 264.59h7.72v3.87h-7.72zM426.36 268.46h7.73v3.87h-7.73zM434.09 272.33h7.72v3.86h-7.72zM441.81 276.19h7.73v3.87h-7.73zM445.68 280.06h7.72v3.87h-7.72zM445.68 283.93h7.72v3.87h-7.72z"/>
<path fill="#ff9800" d="M391.6 256.85h3.86v3.87h-3.86zM399.33 260.72h7.72v3.87h-7.72zM407.05 264.59h7.73v3.87h-7.73zM414.78 268.46h11.58v3.87h-11.58zM426.36 272.33h7.73v3.86h-7.73zM434.09 276.19h7.72v3.87h-7.72zM437.95 280.06h7.73v3.87h-7.73zM437.95 283.93h7.73v3.87h-7.73z"/>
<path fill="#ff8f00" d="M391.6 260.72h7.73v3.87h-7.73zM399.33 264.59h7.72v3.87h-7.72zM407.05 268.46h7.73v3.87h-7.73zM410.91 272.33h15.45v3.86h-15.45zM418.64 276.19h15.45v3.87h-15.45zM426.36 280.06h11.59v3.87h-11.59zM426.36 283.93h11.59v3.87h-11.59z"/>
<path fill="#ff8600" d="M391.6 264.59h7.73v3.87h-7.73zM391.6 268.46h15.45v3.87h-15.45zM399.33 272.33h11.58v3.86h-11.58zM407.05 276.19h11.59v3.87h-11.59zM407.05 280.06h19.31v3.87h-19.31zM410.91 283.93h15.45v3.87h-15.45z"/>
<path fill="#ff7d00" d="M391.6 272.33h7.73v3.86h-7.73zM391.6 276.19h15.45v3.87h-15.45zM391.6 280.06h15.45v3.87h-15.45zM391.6 283.93h19.31v3.87h-19.31z"/>
</g>
<g id="geo" filter="url(#soft)">
<rect x="4.00" y="325.80" width="124.40" height="124.80" fill="#004efc"/>
<path fill="#0017f5" d="M120.62 438.9h7.78v3.9h-7.78zM116.74 442.8h11.66v3.9h-11.66zM112.85 446.7h15.55v3.9h-15.55z"/>
<path fill="#001df8" d="M116.74 435h11.66v3.9h-11.66zM89.53 438.9h7.77v3.9h-7.77zM105.08 438.9h15.54v3.9h-15.54zM81.75 442.8h34.99v3.9h-34.99zM81.75 446.7h31.1v3.9h-31.1z"/>
<path fill="#0027f9" d="M112.85 431.1h15.55v3.9h-15.55zM81.75 435h34.99v3.9h-34.99zM73.98 438.9h15.55v3.9h-15.55zM97.3 438.9h7.78v3.9h-7.78zM66.2 442.8h15.55v3.9h-15.55zM66.2 446.7h15.55v3.9h-15.55z"/>
<path fill="#0030fa" d="M124.51 423.3h3.89v3.9h-3.89zM108.96 427.2h19.44v3.9h-19.44zM77.86 431.1h34.99v3.9h-34.99zM66.2 435h15.55v3.9h-15.55zM58.43 438.9h15.55v3.9h-15.55zM50.65 442.8h15.55v3.9h-15.55zM50.65 446.7h15.55v3.9h-15.55z"/>
<path fill="#003afb" d="M116.74 419.4h11.66v3.9h-11.66zM105.08 423.3h19.43v3.9h-19.43zM77.86 427.2h31.1v3.9h-31.1zM62.31 431.1h15.55v3.9h-15.55zM50.65 435h15.55v3.9h-15.55zM38.99 438.9h19.44v3.9h-19.44zM35.1 442.8h15.55v3.9h-15.55zM31.21 446.7h19.44v3.9h-19.44z"/>
<path fill="#0043fc" d="M112.85 415.5h15.55v3.9h-15.55zM81.75 419.4h34.99v3.9h-34.99zM73.98 423.3h31.1v3.9h-31.1zM62.31 427.2h15.55v3.9h-15.55zM46.76 431.1h15.55v3.9h-15.55zM35.1 435h15.55v3.9h-15.55zM23.44 438.9h15.55v3.9h-15.55zM19.55 442.8h15.55v3.9h-15.55zM19.55 446.7h11.66v3.9h-11.66z"/>
<path fill="#0059fd" d="M116.74 403.8h11.66v3.9h-11.66zM89.53 407.7h31.09v3.9h-31.09zM73.98 411.6h34.98v3.9h-34.98zM66.2 415.5h11.66v3.9h-11.66zM54.54 419.4h15.55v3.9h-15.55zM42.88 423.3h15.55v3.9h-15.55zM27.33 427.2h19.43v3.9h-19.43zM11.78 431.1h19.43v3.9h-19.43zM4 435h15.55v3.9h-15.55z"/>
<path fill="#0064fe" d="M112.85 399.9h15.55v3.9h-15.55zM85.64 403.8h31.1v3.9h-31.1zM73.98 407.7h15.55v3.9h-15.55zM62.31 411.6h11.67v3.9h-11.67zM46.76 415.5h19.44v3.9h-19.44zM38.99 419.4h15.55v3.9h-15.55zM27.33 423.3h15.55v3.9h-15.55zM7.89 427.2h19.44v3.9h-19.44zM4 431.1h7.78v3.9h-7.78z"/>
<path fill="#0070fe" d="M105.08 396h23.32v3.9h-23.32zM85.64 399.9h27.21v3.9h-27.21zM70.09 403.8h15.55v3.9h-15.55zM54.54 407.7h19.44v3.9h-19.44zM42.88 411.6h19.43v3.9h-19.43zM35.1 415.5h11.66v3.9h-11.66zM27.33 419.4h11.66v3.9h-11.66zM11.78 423.3h15.55v3.9h-15.55zM4 427.2h3.89v3.9h-3.89z"/>
<path fill="#007bff" d="M101.19 392.1h27.21v3.9h-27.21zM85.64 396h19.44v3.9h-19.44zM70.09 399.9h15.55v3.9h-15.55zM50.65 403.8h19.44v3.9h-19.44zM42.88 407.7h11.66v3.9h-11.66zM35.1 411.6h7.78v3.9h-7.78zM27.33 415.5h7.77v3.9h-7.77zM15.66 419.4h11.67v3.9h-11.67zM4 423.3h7.78v3.9h-7.78z"/>
<path fill="#0087ff" d="M105.08 388.2h23.32v3.9h-23.32zM89.53 392.1h11.66v3.9h-11.66zM70.09 396h15.55v3.9h-15.55zM50.65 399.9h19.44v3.9h-19.44zM42.88 403.8h7.77v3.9h-7.77zM35.1 407.7h7.78v3.9h-7.78zM27.33 411.6h7.77v3.9h-7.77zM15.66 415.5h11.67v3.9h-11.67zM4 419.4h11.66v3.9h-11.66z"/>
<path fill="#0092ff" d="M108.96 384.3h19.44v3.9h-19.44zM89.53 388.2h15.55v3.9h-15.55zM73.98 392.1h15.55v3.9h-15.55zM54.54 396h15.55v3.9h-15.55zM42.88 399.9h7.77v3.9h-7.77zM35.1 403.8h7.78v3.9h-7.78zM27.33 407.7h7.77v3.9h-7.77zM19.55 411.6h7.78v3.9h-7.78zM4 415.5h11.66v3.9h-11.66z"/>
<path fill="#009eff" d="M112.85 380.4h15.55v3.9h-15.55zM93.41 384.3h15.55v3.9h-15.55zM73.98 388.2h15.55v3.9h-15.55zM58.43 392.1h15.55v3.9h-15.55zM46.76 396h7.78v3.9h-7.78zM35.1 399.9h7.78v3.9h-7.78zM27.33 403.8h7.77v3.9h-7.77zM19.55 407.7h7.78v3.9h-7.78zM4 411.6h15.55v3.9h-15.55z"/>
<path fill="#00aaff" d="M116.74 376.5h11.66v3.9h-11.66zM97.3 380.4h15.55v3.9h-15.55zM77.86 384.3h15.55v3.9h-15.55zM66.2 388.2h7.78v3.9h-7.78zM50.65 392.1h7.78v3.9h-7.78zM38.99 396h7.77v3.9h-7.77zM31.21 399.9h3.89v3.9h-3.89zM19.55 403.8h7.78v3.9h-7.78zM4 407.7h15.55v3.9h-15.55z"/>
<path fill="#00b6ff" d="M120.62 372.6h7.78v3.9h-7.78zM105.08 376.5h11.66v3.9h-11.66zM77.86 380.4h19.44v3.9h-19.44zM70.09 384.3h7.77v3.9h-7.77zM58.43 388.2h7.77v3.9h-7.77zM42.88 392.1h7.77v3.9h-7.77zM35.1 396h3.89v3.9h-3.89zM23.44 399.9h7.77v3.9h-7.77zM11.78 403.8h7.77v3.9h-7.77z"/>
<path fill="#00c3ff" d="M108.96 372.6h11.66v3.9h-11.66zM85.64 376.5h19.44v3.9h-19.44zM70.09 380.4h7.77v3.9h-7.77zM62.31 384.3h7.78v3.9h-7.78zM50.65 388.2h7.78v3.9h-7.78zM38.99 392.1h3.89v3.9h-3.89zM27.33 396h7.77v3.9h-7.77zM15.66 399.9h7.78v3.9h-7.78zM4 403.8h7.78v3.9h-7.78z"/>
<path fill="#00cfff" d="M112.85 368.7h15.55v3.9h-15.55zM93.41 372.6h15.55v3.9h-15.55zM73.98 376.5h11.66v3.9h-11.66zM66.2 380.4h3.89v3.9h-3.89zM54.54 384.3h7.77v3.9h-7.77zM42.88 388.2h7.77v3.9h-7.77zM31.21 392.1h7.78v3.9h-7.78zM23.44 396h3.89v3.9h-3.89zM4 399.9h11.66v3.9h-11.66z"/>
<path fill="#00dcff" d="M116.74 364.8h11.66v3.9h-11.66zM101.19 368.7h11.66v3.9h-11.66zM73.98 372.6h19.43v3.9h-19.43zM66.2 376.5h7.78v3.9h-7.78zM58.43 380.4h7.77v3.9h-7.77zM50.65 384.3h3.89v3.9h-3.89zM38.99 388.2h3.89v3.9h-3.89zM27.33 392.1h3.88v3.9h-3.88zM11.78 396h11.66v3.9h-11.66z"/>
<path fill="#00e8fe" d="M116.74 360.9h11.66v3.9h-11.66zM105.08 364.8h11.66v3.9h-11.66zM77.86 368.7h23.33v3.9h-23.33zM66.2 372.6h7.78v3.9h-7.78zM62.31 376.5h3.89v3.9h-3.89zM54.54 380.4h3.89v3.9h-3.89zM42.88 384.3h7.77v3.9h-7.77zM35.1 388.2h3.89v3.9h-3.89zM23.44 392.1h3.89v3.9h-3.89zM4 396h7.78v3.9h-7.78z"/>
<path fill="#00ecf2" d="M120.62 357h7.78v3.9h-7.78zM108.96 360.9h7.78v3.9h-7.78zM89.53 364.8h15.55v3.9h-15.55zM70.09 368.7h7.77v3.9h-7.77zM62.31 372.6h3.89v3.9h-3.89zM58.43 376.5h3.88v3.9h-3.88zM46.76 380.4h7.78v3.9h-7.78zM38.99 384.3h3.89v3.9h-3.89zM27.33 388.2h7.77v3.9h-7.77zM15.66 392.1h7.78v3.9h-7.78z"/>
<path fill="#00f0e5" d="M124.51 353.1h3.89v3.9h-3.89zM112.85 357h7.77v3.9h-7.77zM105.08 360.9h3.88v3.9h-3.88zM73.98 364.8h15.55v3.9h-15.55zM62.31 368.7h7.78v3.9h-7.78zM58.43 372.6h3.88v3.9h-3.88zM50.65 376.5h7.78v3.9h-7.78zM42.88 380.4h3.88v3.9h-3.88zM35.1 384.3h3.89v3.9h-3.89zM23.44 388.2h3.89v3.9h-3.89zM4 392.1h11.66v3.9h-11.66z"/>
<path fill="#00f4d9" d="M116.74 353.1h7.77v3.9h-7.77zM108.96 357h3.89v3.9h-3.89zM85.64 360.9h19.44v3.9h-19.44zM66.2 364.8h7.78v3.9h-7.78zM58.43 368.7h3.88v3.9h-3.88zM54.54 372.6h3.89v3.9h-3.89zM46.76 376.5h3.89v3.9h-3.89zM38.99 380.4h3.89v3.9h-3.89zM31.21 384.3h3.89v3.9h-3.89zM19.55 388.2h3.89v3.9h-3.89z"/>
<path fill="#00f9cc" d="M120.62 349.2h7.78v3.9h-7.78zM112.85 353.1h3.89v3.9h-3.89zM101.19 357h7.77v3.9h-7.77zM70.09 360.9h15.55v3.9h-15.55zM58.43 364.8h7.77v3.9h-7.77zM54.54 368.7h3.89v3.9h-3.89zM46.76 372.6h7.78v3.9h-7.78zM42.88 376.5h3.88v3.9h-3.88zM35.1 380.4h3.89v3.9h-3.89zM27.33 384.3h3.88v3.9h-3.88zM4 388.2h15.55v3.9h-15.55z"/>
<path fill="#00fbc0" d="M116.74 349.2h3.88v3.9h-3.88zM108.96 353.1h3.89v3.9h-3.89zM89.53 357h11.66v3.9h-11.66zM62.31 360.9h7.78v3.9h-7.78zM54.54 364.8h3.89v3.9h-3.89zM50.65 368.7h3.89v3.9h-3.89zM42.88 372.6h3.88v3.9h-3.88zM38.99 376.5h3.89v3.9h-3.89zM31.21 380.4h3.89v3.9h-3.89zM19.55 384.3h7.78v3.9h-7.78z"/>
<path fill="#00fcb5" d="M120.62 345.3h7.78v3.9h-7.78zM112.85 349.2h3.89v3.9h-3.89zM105.08 353.1h3.88v3.9h-3.88zM73.98 357h15.55v3.9h-15.55zM58.43 360.9h3.88v3.9h-3.88zM50.65 364.8h3.89v3.9h-3.89zM46.76 368.7h3.89v3.9h-3.89zM38.99 372.6h3.89v3.9h-3.89zM35.1 376.5h3.89v3.9h-3.89zM27.33 380.4h3.88v3.9h-3.88zM15.66 384.3h3.89v3.9h-3.89z"/>
<path fill="#00fda9" d="M116.74 345.3h3.88v3.9h-3.88zM108.96 349.2h3.89v3.9h-3.89zM93.41 353.1h11.67v3.9h-11.67zM62.31 357h11.67v3.9h-11.67zM50.65 360.9h7.78v3.9h-7.78zM46.76 364.8h3.89v3.9h-3.89zM38.99 368.7h7.77v3.9h-7.77zM35.1 372.6h3.89v3.9h-3.89zM31.21 376.5h3.89v3.9h-3.89zM23.44 380.4h3.89v3.9h-3.89zM4 384.3h11.66v3.9h-11.66z"/>
<path fill="#00fe9d" d="M120.62 341.4h7.78v3.9h-7.78zM112.85 345.3h3.89v3.9h-3.89zM105.08 349.2h3.88v3.9h-3.88zM77.86 353.1h15.55v3.9h-15.55zM58.43 357h3.88v3.9h-3.88zM46.76 360.9h3.89v3.9h-3.89zM42.88 364.8h3.88v3.9h-3.88zM35.1 368.7h3.89v3.9h-3.89zM31.21 372.6h3.89v3.9h-3.89zM27.33 376.5h3.88v3.9h-3.88zM15.66 380.4h7.78v3.9h-7.78z"/>
<path fill="#01ff91" d="M116.74 341.4h3.88v3.9h-3.88zM101.19 349.2h3.89v3.9h-3.89zM66.2 353.1h11.66v3.9h-11.66zM50.65 357h7.78v3.9h-7.78zM42.88 360.9h3.88v3.9h-3.88zM38.99 364.8h3.89v3.9h-3.89zM31.21 368.7h3.89v3.9h-3.89zM27.33 372.6h3.88v3.9h-3.88zM19.55 376.5h7.78v3.9h-7.78zM4 380.4h11.66v3.9h-11.66z"/>
<path fill="#04ff86" d="M120.62 337.5h7.78v3.9h-7.78zM108.96 345.3h3.89v3.9h-3.89zM89.53 349.2h11.66v3.9h-11.66zM58.43 353.1h7.77v3.9h-7.77zM46.76 357h3.89v3.9h-3.89zM35.1 364.8h3.89v3.9h-3.89zM27.33 368.7h3.88v3.9h-3.88zM23.44 372.6h3.89v3.9h-3.89zM15.66 376.5h3.89v3.9h-3.89z"/>
<path fill="#07ff7a" d="M116.74 337.5h3.88v3.9h-3.88zM112.85 341.4h3.89v3.9h-3.89zM105.08 345.3h3.88v3.9h-3.88zM73.98 349.2h15.55v3.9h-15.55zM54.54 353.1h3.89v3.9h-3.89zM42.88 357h3.88v3.9h-3.88zM38.99 360.9h3.89v3.9h-3.89zM31.21 364.8h3.89v3.9h-3.89zM23.44 368.7h3.89v3.9h-3.89zM15.66 372.6h7.78v3.9h-7.78zM4 376.5h11.66v3.9h-11.66z"/>
<path fill="#0aff6e" d="M124.51 329.7h3.89v3.9h-3.89zM120.62 333.6h7.78v3.9h-7.78zM101.19 345.3h3.89v3.9h-3.89zM66.2 349.2h7.78v3.9h-7.78zM50.65 353.1h3.89v3.9h-3.89zM38.99 357h3.89v3.9h-3.89zM35.1 360.9h3.89v3.9h-3.89zM27.33 364.8h3.88v3.9h-3.88zM19.55 368.7h3.89v3.9h-3.89zM4 372.6h11.66v3.9h-11.66z"/>
<path fill="#18ff64" d="M120.62 325.8h7.78v3.9h-7.78zM120.62 329.7h3.89v3.9h-3.89zM116.74 333.6h3.88v3.9h-3.88zM112.85 337.5h3.89v3.9h-3.89zM108.96 341.4h3.89v3.9h-3.89zM93.41 345.3h7.78v3.9h-7.78zM58.43 349.2h7.77v3.9h-7.77zM46.76 353.1h3.89v3.9h-3.89zM31.21 360.9h3.89v3.9h-3.89zM19.55 364.8h7.78v3.9h-7.78zM4 368.7h15.55v3.9h-15.55z"/>
<path fill="#27ff5a" d="M116.74 329.7h3.88v3.9h-3.88zM105.08 341.4h3.88v3.9h-3.88zM73.98 345.3h19.43v3.9h-19.43zM54.54 349.2h3.89v3.9h-3.89zM42.88 353.1h3.88v3.9h-3.88zM35.1 357h3.89v3.9h-3.89zM27.33 360.9h3.88v3.9h-3.88zM15.66 364.8h3.89v3.9h-3.89z"/>
<path fill="#38ff4d" d="M116.74 325.8h3.88v3.9h-3.88zM112.85 333.6h3.89v3.9h-3.89zM108.96 337.5h3.89v3.9h-3.89zM66.2 345.3h7.78v3.9h-7.78zM46.76 349.2h7.78v3.9h-7.78zM38.99 353.1h3.89v3.9h-3.89zM31.21 357h3.89v3.9h-3.89zM23.44 360.9h3.89v3.9h-3.89zM4 364.8h11.66v3.9h-11.66z"/>
<path fill="#4aff3e" d="M112.85 329.7h3.89v3.9h-3.89zM97.3 341.4h7.78v3.9h-7.78zM58.43 345.3h7.77v3.9h-7.77zM35.1 353.1h3.89v3.9h-3.89zM27.33 357h3.88v3.9h-3.88zM15.66 360.9h7.78v3.9h-7.78z"/>
<path fill="#5dff2f" d="M112.85 325.8h3.89v3.9h-3.89zM105.08 337.5h3.88v3.9h-3.88zM81.75 341.4h15.55v3.9h-15.55zM54.54 345.3h3.89v3.9h-3.89zM42.88 349.2h3.88v3.9h-3.88zM31.21 353.1h3.89v3.9h-3.89zM23.44 357h3.89v3.9h-3.89zM7.89 360.9h7.77v3.9h-7.77z"/>
<path fill="#72ff1f" d="M108.96 333.6h3.89v3.9h-3.89zM66.2 341.4h15.55v3.9h-15.55zM50.65 345.3h3.89v3.9h-3.89zM38.99 349.2h3.89v3.9h-3.89zM19.55 357h3.89v3.9h-3.89zM4 360.9h3.89v3.9h-3.89z"/>
<path fill="#87ff0e" d="M108.96 325.8h3.89v3.9h-3.89zM108.96 329.7h3.89v3.9h-3.89zM101.19 337.5h3.89v3.9h-3.89zM58.43 341.4h7.77v3.9h-7.77zM46.76 345.3h3.89v3.9h-3.89zM35.1 349.2h3.89v3.9h-3.89zM27.33 353.1h3.88v3.9h-3.88z"/>
<path fill="#98ff08" d="M105.08 333.6h3.88v3.9h-3.88zM81.75 337.5h19.44v3.9h-19.44zM54.54 341.4h3.89v3.9h-3.89zM42.88 345.3h3.88v3.9h-3.88zM23.44 353.1h3.89v3.9h-3.89zM15.66 357h3.89v3.9h-3.89z"/>
<path fill="#a8ff05" d="M105.08 329.7h3.88v3.9h-3.88zM101.19 333.6h3.89v3.9h-3.89zM66.2 337.5h15.55v3.9h-15.55zM50.65 341.4h3.89v3.9h-3.89zM38.99 345.3h3.89v3.9h-3.89zM31.21 349.2h3.89v3.9h-3.89zM4 357h11.66v3.9h-11.66z"/>
<path fill="#b7ff03" d="M105.08 325.8h3.88v3.9h-3.88zM97.3 333.6h3.89v3.9h-3.89zM58.43 337.5h7.77v3.9h-7.77zM46.76 341.4h3.89v3.9h-3.89zM27.33 349.2h3.88v3.9h-3.88zM19.55 353.1h3.89v3.9h-3.89z"/>
<path fill="#c7ff00" d="M101.19 325.8h3.89v3.9h-3.89zM101.19 329.7h3.89v3.9h-3.89zM77.86 333.6h19.44v3.9h-19.44zM54.54 337.5h3.89v3.9h-3.89zM35.1 345.3h3.89v3.9h-3.89z"/>
<path fill="#d5fd00" d="M93.41 325.8h7.78v3.9h-7.78zM81.75 329.7h19.44v3.9h-19.44zM58.43 333.6h19.43v3.9h-19.43zM50.65 337.5h3.89v3.9h-3.89zM42.88 341.4h3.88v3.9h-3.88zM23.44 349.2h3.89v3.9h-3.89zM15.66 353.1h3.89v3.9h-3.89z"/>
<path fill="#e3fa00" d="M73.98 325.8h19.43v3.9h-19.43zM62.31 329.7h19.44v3.9h-19.44zM54.54 333.6h3.89v3.9h-3.89zM46.76 337.5h3.89v3.9h-3.89zM38.99 341.4h3.89v3.9h-3.89zM31.21 345.3h3.89v3.9h-3.89zM7.89 353.1h7.77v3.9h-7.77z"/>
<path fill="#f1f800" d="M58.43 325.8h15.55v3.9h-15.55zM54.54 329.7h7.77v3.9h-7.77zM50.65 333.6h3.89v3.9h-3.89zM19.55 349.2h3.89v3.9h-3.89zM4 353.1h3.89v3.9h-3.89z"/>
<path fill="#fff500" d="M54.54 325.8h3.89v3.9h-3.89zM42.88 337.5h3.88v3.9h-3.88zM35.1 341.4h3.89v3.9h-3.89zM27.33 345.3h3.88v3.9h-3.88z"/>
<path fill="#ffeb00" d="M50.65 325.8h3.89v3.9h-3.89zM50.65 329.7h3.89v3.9h-3.89zM46.76 333.6h3.89v3.9h-3.89zM15.66 349.2h3.89v3.9h-3.89z"/>
<path fill="#ffe000" d="M38.99 337.5h3.89v3.9h-3.89zM31.21 341.4h3.89v3.9h-3.89zM23.44 345.3h3.89v3.9h-3.89zM11.78 349.2h3.88v3.9h-3.88z"/>
<path fill="#ffd500" d="M46.76 325.8h3.89v3.9h-3.89zM46.76 329.7h3.89v3.9h-3.89zM42.88 333.6h3.88v3.9h-3.88zM4 349.2h7.78v3.9h-7.78z"/>
<path fill="#ffcb00" d="M35.1 337.5h3.89v3.9h-3.89zM27.33 341.4h3.88v3.9h-3.88zM19.55 345.3h3.89v3.9h-3.89z"/>
<path fill="#ffc000" d="M42.88 325.8h3.88v3.9h-3.88zM42.88 329.7h3.88v3.9h-3.88zM38.99 333.6h3.89v3.9h-3.89z"/>
<path fill="#ffb600" d="M15.66 345.3h3.89v3.9h-3.89z"/>
<path fill="#ffab00" d="M38.99 329.7h3.89v3.9h-3.89zM31.21 337.5h3.89v3.9h-3.89zM23.44 341.4h3.89v3.9h-3.89zM11.78 345.3h3.88v3.9h-3.88z"/>
<path fill="#ffa100" d="M38.99 325.8h3.89v3.9h-3.89zM35.1 333.6h3.89v3.9h-3.89zM4 345.3h7.78v3.9h-7.78z"/>
<path fill="#ff9800" d="M27.33 337.5h3.88v3.9h-3.88zM19.55 341.4h3.89v3.9h-3.89z"/>
<path fill="#ff8f00" d="M35.1 325.8h3.89v3.9h-3.89zM35.1 329.7h3.89v3.9h-3.89zM31.21 333.6h3.89v3.9h-3.89zM15.66 341.4h3.89v3.9h-3.89z"/>
<path fill="#ff8600" d="M23.44 337.5h3.89v3.9h-3.89z"/>
<path fill="#ff7d00" d="M31.21 329.7h3.89v3.9h-3.89zM27.33 333.6h3.88v3.9h-3.88zM4 341.4h11.66v3.9h-11.66z"/>
<path fill="#ff7400" d="M31.21 325.8h3.89v3.9h-3.89zM19.55 337.5h3.89v3.9h-3.89z"/>
<path fill="#ff6b00" d="M15.66 337.5h3.89v3.9h-3.89z"/>
<path fill="#ff6100" d="M27.33 325.8h3.88v3.9h-3.88zM27.33 329.7h3.88v3.9h-3.88zM23.44 333.6h3.89v3.9h-3.89zM11.78 337.5h3.88v3.9h-3.88z"/>
<path fill="#ff5700" d="M19.55 333.6h3.89v3.9h-3.89zM4 337.5h7.78v3.9h-7.78z"/>
<path fill="#ff4d00" d="M23.44 325.8h3.89v3.9h-3.89zM23.44 329.7h3.89v3.9h-3.89zM15.66 333.6h3.89v3.9h-3.89z"/>
<path fill="#ff4400" d="M19.55 329.7h3.89v3.9h-3.89zM11.78 333.6h3.88v3.9h-3.88z"/>
<path fill="#ff3a00" d="M19.55 325.8h3.89v3.9h-3.89zM15.66 329.7h3.89v3.9h-3.89zM4 333.6h7.78v3.9h-7.78z"/>
<path fill="#ff3100" d="M11.78 325.8h7.77v3.9h-7.77zM7.89 329.7h7.77v3.9h-7.77z"/>
<path fill="#fe2b01" d="M4 325.8h7.78v3.9h-7.78zM4 329.7h3.89v3.9h-3.89z"/>
</g>
<g id="hum" filter="url(#soft)">
<rect x="193.40" y="325.00" width="124.60" height="124.00" fill="#18ff64"/>
<path fill="#01ff91" d="M259.59 325h23.37v3.88h-23.37zM259.59 328.88h23.37v3.87h-23.37zM259.59 332.75h23.37v3.87h-23.37zM263.49 336.62h19.47v3.88h-19.47zM267.38 340.5h11.68v3.88h-11.68z"/>
<path fill="#04ff86" d="M251.81 325h7.78v3.88h-7.78zM282.96 325h7.78v3.88h-7.78zM251.81 328.88h7.78v3.87h-7.78zM282.96 328.88h7.78v3.87h-7.78zM251.81 332.75h7.78v3.87h-7.78zM282.96 332.75h7.78v3.87h-7.78zM251.81 336.62h11.68v3.88h-11.68zM282.96 336.62h7.78v3.88h-7.78zM251.81 340.5h15.57v3.88h-15.57zM279.06 340.5h7.79v3.88h-7.79zM255.7 344.38h31.15v3.87h-31.15zM259.59 348.25h23.37v3.87h-23.37z"/>
<path fill="#07ff7a" d="M244.02 325h7.79v3.88h-7.79zM290.74 325h7.79v3.88h-7.79zM244.02 328.88h7.79v3.87h-7.79zM290.74 328.88h3.9v3.87h-3.9zM244.02 332.75h7.79v3.87h-7.79zM290.74 332.75h3.9v3.87h-3.9zM240.12 336.62h11.69v3.88h-11.69zM290.74 336.62h3.9v3.88h-3.9zM240.12 340.5h11.69v3.88h-11.69zM286.85 340.5h7.79v3.88h-7.79zM240.12 344.38h15.58v3.87h-15.58zM286.85 344.38h3.89v3.87h-3.89zM244.02 348.25h15.57v3.87h-15.57zM282.96 348.25h7.78v3.87h-7.78zM247.91 352.12h42.83v3.88h-42.83zM251.81 356h31.15v3.88h-31.15zM251.81 359.88h19.46v3.87h-19.46zM255.7 363.75h15.57v3.87h-15.57zM255.7 367.62h11.68v3.88h-11.68z"/>
<path fill="#0aff6e" d="M224.55 325h19.47v3.88h-19.47zM224.55 328.88h19.47v3.87h-19.47zM294.64 328.88h3.89v3.87h-3.89zM224.55 332.75h19.47v3.87h-19.47zM294.64 332.75h3.89v3.87h-3.89zM224.55 336.62h15.57v3.88h-15.57zM294.64 336.62h3.89v3.88h-3.89zM224.55 340.5h15.57v3.88h-15.57zM294.64 340.5h3.89v3.88h-3.89zM224.55 344.38h15.57v3.87h-15.57zM290.74 344.38h7.79v3.87h-7.79zM228.44 348.25h15.58v3.87h-15.58zM290.74 348.25h3.9v3.87h-3.9zM232.34 352.12h15.57v3.88h-15.57zM290.74 352.12h3.9v3.88h-3.9zM236.23 356h15.58v3.88h-15.58zM282.96 356h11.68v3.88h-11.68zM240.12 359.88h11.69v3.87h-11.69zM271.27 359.88h23.37v3.87h-23.37zM244.02 363.75h11.68v3.87h-11.68zM271.27 363.75h19.47v3.87h-19.47zM244.02 367.62h11.68v3.88h-11.68zM267.38 367.62h15.58v3.88h-15.58zM244.02 371.5h31.15v3.88h-31.15zM255.7 375.38h11.68v3.87h-11.68z"/>
<path fill="#27ff5a" d="M193.4 325h15.57v3.88h-15.57zM302.43 325h3.89v3.88h-3.89zM193.4 328.88h15.57v3.87h-15.57zM302.43 328.88h3.89v3.87h-3.89zM193.4 332.75h15.57v3.87h-15.57zM302.43 332.75h3.89v3.87h-3.89zM193.4 336.62h11.68v3.88h-11.68zM302.43 336.62h3.89v3.88h-3.89zM302.43 340.5h3.89v3.88h-3.89zM298.53 348.25h3.9v3.87h-3.9zM298.53 352.12h3.9v3.88h-3.9zM298.53 356h3.9v3.88h-3.9zM294.64 363.75h3.89v3.87h-3.89zM290.74 367.62h3.9v3.88h-3.9zM193.4 371.5h7.79v3.88h-7.79zM286.85 371.5h3.89v3.88h-3.89zM193.4 375.38h15.57v3.87h-15.57zM279.06 375.38h7.79v3.87h-7.79zM193.4 379.25h15.57v3.87h-15.57zM251.81 379.25h27.25v3.87h-27.25zM193.4 383.12h50.62v3.88h-50.62zM205.08 387h23.36v3.88h-23.36z"/>
<path fill="#38ff4d" d="M306.32 325h11.68v3.88h-11.68zM306.32 328.88h11.68v3.87h-11.68zM306.32 332.75h11.68v3.87h-11.68zM306.32 336.62h7.79v3.88h-7.79zM306.32 340.5h3.89v3.88h-3.89zM302.43 344.38h7.78v3.87h-7.78zM302.43 348.25h3.89v3.87h-3.89zM302.43 352.12h3.89v3.88h-3.89zM302.43 356h3.89v3.88h-3.89zM298.53 359.88h3.9v3.87h-3.9zM298.53 363.75h3.9v3.87h-3.9zM294.64 367.62h3.89v3.88h-3.89zM290.74 371.5h3.9v3.88h-3.9zM286.85 375.38h3.89v3.87h-3.89zM279.06 379.25h7.79v3.87h-7.79zM244.02 383.12h19.47v3.88h-19.47zM193.4 387h11.68v3.88h-11.68zM228.44 387h15.58v3.88h-15.58zM193.4 390.88h38.94v3.87h-38.94zM193.4 394.75h31.15v3.87h-31.15zM193.4 398.62h15.57v3.88h-15.57zM193.4 402.5h7.79v3.88h-7.79z"/>
<path fill="#4aff3e" d="M314.11 336.62h3.89v3.88h-3.89zM310.21 340.5h7.79v3.88h-7.79zM310.21 344.38h7.79v3.87h-7.79zM306.32 348.25h11.68v3.87h-11.68zM306.32 352.12h3.89v3.88h-3.89zM302.43 359.88h3.89v3.87h-3.89zM302.43 363.75h3.89v3.87h-3.89zM298.53 367.62h3.9v3.88h-3.9zM294.64 371.5h3.89v3.88h-3.89zM290.74 375.38h3.9v3.87h-3.9zM286.85 379.25h3.89v3.87h-3.89zM263.49 383.12h15.57v3.88h-15.57zM244.02 387h7.79v3.88h-7.79zM232.34 390.88h7.78v3.87h-7.78zM224.55 394.75h11.68v3.87h-11.68zM208.97 398.62h19.47v3.88h-19.47zM201.19 402.5h19.47v3.88h-19.47zM193.4 406.38h19.47v3.87h-19.47zM193.4 410.25h15.57v3.87h-15.57zM193.4 414.12h11.68v3.88h-11.68zM193.4 418h3.89v3.88h-3.89z"/>
<path fill="#5dff2f" d="M310.21 352.12h7.79v3.88h-7.79zM306.32 356h11.68v3.88h-11.68zM306.32 359.88h3.89v3.87h-3.89zM302.43 367.62h3.89v3.88h-3.89zM298.53 371.5h3.9v3.88h-3.9zM294.64 375.38h3.89v3.87h-3.89zM290.74 379.25h3.9v3.87h-3.9zM279.06 383.12h7.79v3.88h-7.79zM251.81 387h11.68v3.88h-11.68zM240.12 390.88h7.79v3.87h-7.79zM236.23 394.75h7.79v3.87h-7.79zM228.44 398.62h11.68v3.88h-11.68zM220.66 402.5h15.57v3.88h-15.57zM212.87 406.38h19.47v3.87h-19.47zM208.97 410.25h15.58v3.87h-15.58zM205.08 414.12h15.58v3.88h-15.58zM197.29 418h19.47v3.88h-19.47zM193.4 421.88h19.47v3.87h-19.47zM193.4 425.75h19.47v3.87h-19.47zM193.4 429.62h15.57v3.88h-15.57zM193.4 433.5h15.57v3.88h-15.57zM193.4 437.38h15.57v3.87h-15.57zM193.4 441.25h15.57v3.87h-15.57zM193.4 445.12h15.57v3.88h-15.57z"/>
<path fill="#72ff1f" d="M310.21 359.88h7.79v3.87h-7.79zM306.32 363.75h7.79v3.87h-7.79zM306.32 367.62h3.89v3.88h-3.89zM302.43 371.5h3.89v3.88h-3.89zM298.53 375.38h3.9v3.87h-3.9zM294.64 379.25h3.89v3.87h-3.89zM286.85 383.12h3.89v3.88h-3.89zM263.49 387h15.57v3.88h-15.57zM247.91 390.88h11.68v3.87h-11.68zM244.02 394.75h3.89v3.87h-3.89zM240.12 398.62h3.9v3.88h-3.9zM236.23 402.5h7.79v3.88h-7.79zM232.34 406.38h7.78v3.87h-7.78zM224.55 410.25h11.68v3.87h-11.68zM220.66 414.12h11.68v3.88h-11.68zM216.76 418h11.68v3.88h-11.68zM212.87 421.88h11.68v3.87h-11.68zM212.87 425.75h7.79v3.87h-7.79zM208.97 429.62h11.69v3.88h-11.69zM208.97 433.5h7.79v3.88h-7.79zM208.97 437.38h7.79v3.87h-7.79zM208.97 441.25h3.9v3.87h-3.9zM208.97 445.12h3.9v3.88h-3.9z"/>
<path fill="#87ff0e" d="M314.11 363.75h3.89v3.87h-3.89zM310.21 367.62h7.79v3.88h-7.79zM306.32 371.5h3.89v3.88h-3.89zM302.43 375.38h3.89v3.87h-3.89zM298.53 379.25h3.9v3.87h-3.9zM290.74 383.12h7.79v3.88h-7.79zM279.06 387h11.68v3.88h-11.68zM259.59 390.88h11.68v3.87h-11.68zM247.91 394.75h7.79v3.87h-7.79zM244.02 398.62h7.79v3.88h-7.79zM244.02 402.5h3.89v3.88h-3.89zM240.12 406.38h7.79v3.87h-7.79zM236.23 410.25h7.79v3.87h-7.79zM232.34 414.12h7.78v3.88h-7.78zM228.44 418h7.79v3.88h-7.79zM224.55 421.88h7.79v3.87h-7.79zM220.66 425.75h7.78v3.87h-7.78zM220.66 429.62h7.78v3.88h-7.78zM216.76 433.5h7.79v3.88h-7.79zM216.76 437.38h7.79v3.87h-7.79zM212.87 441.25h11.68v3.87h-11.68zM212.87 445.12h11.68v3.88h-11.68z"/>
<path fill="#98ff08" d="M310.21 371.5h7.79v3.88h-7.79zM306.32 375.38h3.89v3.87h-3.89zM302.43 379.25h3.89v3.87h-3.89zM298.53 383.12h3.9v3.88h-3.9zM290.74 387h7.79v3.88h-7.79zM271.27 390.88h15.58v3.87h-15.58zM255.7 394.75h11.68v3.87h-11.68zM251.81 398.62h7.78v3.88h-7.78zM247.91 402.5h11.68v3.88h-11.68zM247.91 406.38h11.68v3.87h-11.68zM244.02 410.25h15.57v3.87h-15.57zM240.12 414.12h11.69v3.88h-11.69zM236.23 418h7.79v3.88h-7.79zM232.34 421.88h7.78v3.87h-7.78zM228.44 425.75h7.79v3.87h-7.79zM228.44 429.62h3.9v3.88h-3.9zM224.55 433.5h7.79v3.88h-7.79zM224.55 437.38h7.79v3.87h-7.79zM224.55 441.25h7.79v3.87h-7.79zM224.55 445.12h7.79v3.88h-7.79z"/>
<path fill="#a8ff05" d="M310.21 375.38h7.79v3.87h-7.79zM306.32 379.25h11.68v3.87h-11.68zM302.43 383.12h7.78v3.88h-7.78zM298.53 387h7.79v3.88h-7.79zM286.85 390.88h11.68v3.87h-11.68zM267.38 394.75h19.47v3.87h-19.47zM259.59 398.62h15.58v3.88h-15.58zM259.59 402.5h15.58v3.88h-15.58zM259.59 406.38h15.58v3.87h-15.58zM259.59 410.25h15.58v3.87h-15.58zM251.81 414.12h19.46v3.88h-19.46zM244.02 418h23.36v3.88h-23.36zM240.12 421.88h11.69v3.87h-11.69zM236.23 425.75h7.79v3.87h-7.79zM232.34 429.62h7.78v3.88h-7.78zM232.34 433.5h3.89v3.88h-3.89zM232.34 437.38h3.89v3.87h-3.89zM232.34 441.25h3.89v3.87h-3.89zM232.34 445.12h3.89v3.88h-3.89z"/>
<path fill="#b7ff03" d="M310.21 383.12h7.79v3.88h-7.79zM306.32 387h11.68v3.88h-11.68zM298.53 390.88h19.47v3.87h-19.47zM286.85 394.75h15.58v3.87h-15.58zM275.17 398.62h23.36v3.88h-23.36zM275.17 402.5h23.36v3.88h-23.36zM275.17 406.38h19.47v3.87h-19.47zM275.17 410.25h15.57v3.87h-15.57zM271.27 414.12h11.69v3.88h-11.69zM267.38 418h7.79v3.88h-7.79zM251.81 421.88h15.57v3.87h-15.57zM244.02 425.75h7.79v3.87h-7.79zM240.12 429.62h3.9v3.88h-3.9zM236.23 433.5h7.79v3.88h-7.79zM236.23 437.38h3.89v3.87h-3.89zM236.23 441.25h3.89v3.87h-3.89zM236.23 445.12h3.89v3.88h-3.89z"/>
<path fill="#c7ff00" d="M302.43 394.75h15.57v3.87h-15.57zM298.53 398.62h19.47v3.88h-19.47zM298.53 402.5h7.79v3.88h-7.79zM294.64 406.38h7.79v3.87h-7.79zM290.74 410.25h7.79v3.87h-7.79zM282.96 414.12h11.68v3.88h-11.68zM275.17 418h7.79v3.88h-7.79zM267.38 421.88h7.79v3.87h-7.79zM251.81 425.75h15.57v3.87h-15.57zM244.02 429.62h7.79v3.88h-7.79zM244.02 433.5h3.89v3.88h-3.89zM240.12 437.38h3.9v3.87h-3.9zM240.12 441.25h3.9v3.87h-3.9zM240.12 445.12h3.9v3.88h-3.9z"/>
<path fill="#d5fd00" d="M306.32 402.5h11.68v3.88h-11.68zM302.43 406.38h15.57v3.87h-15.57zM298.53 410.25h7.79v3.87h-7.79zM294.64 414.12h7.79v3.88h-7.79zM282.96 418h11.68v3.88h-11.68zM275.17 421.88h7.79v3.87h-7.79zM267.38 425.75h7.79v3.87h-7.79zM251.81 429.62h7.78v3.88h-7.78zM247.91 433.5h3.9v3.88h-3.9zM244.02 437.38h3.89v3.87h-3.89zM244.02 441.25h3.89v3.87h-3.89zM244.02 445.12h3.89v3.88h-3.89z"/>
<path fill="#e3fa00" d="M306.32 410.25h11.68v3.87h-11.68zM302.43 414.12h7.78v3.88h-7.78zM294.64 418h7.79v3.88h-7.79zM282.96 421.88h7.78v3.87h-7.78zM275.17 425.75h3.89v3.87h-3.89zM259.59 429.62h7.79v3.88h-7.79zM251.81 433.5h3.89v3.88h-3.89zM247.91 437.38h3.9v3.87h-3.9zM247.91 441.25h3.9v3.87h-3.9zM247.91 445.12h3.9v3.88h-3.9z"/>
<path fill="#f1f800" d="M310.21 414.12h7.79v3.88h-7.79zM302.43 418h15.57v3.88h-15.57zM290.74 421.88h11.69v3.87h-11.69zM279.06 425.75h11.68v3.87h-11.68zM267.38 429.62h7.79v3.88h-7.79zM255.7 433.5h7.79v3.88h-7.79zM251.81 437.38h3.89v3.87h-3.89zM251.81 441.25h3.89v3.87h-3.89zM251.81 445.12h3.89v3.88h-3.89z"/>
<path fill="#fff500" d="M302.43 421.88h15.57v3.87h-15.57zM290.74 425.75h11.69v3.87h-11.69zM275.17 429.62h7.79v3.88h-7.79zM263.49 433.5h7.78v3.88h-7.78zM255.7 437.38h7.79v3.87h-7.79zM255.7 441.25h3.89v3.87h-3.89z"/>
<path fill="#ffeb00" d="M302.43 425.75h15.57v3.87h-15.57zM282.96 429.62h35.04v3.88h-35.04zM271.27 433.5h7.79v3.88h-7.79zM263.49 437.38h3.89v3.87h-3.89zM259.59 441.25h3.9v3.87h-3.9zM255.7 445.12h3.89v3.88h-3.89z"/>
<path fill="#ffe000" d="M279.06 433.5h38.94v3.88h-38.94zM267.38 437.38h7.79v3.87h-7.79zM302.43 437.38h15.57v3.87h-15.57zM263.49 441.25h3.89v3.87h-3.89zM306.32 441.25h11.68v3.87h-11.68zM259.59 445.12h7.79v3.88h-7.79zM310.21 445.12h7.79v3.88h-7.79z"/>
<path fill="#ffd500" d="M275.17 437.38h27.26v3.87h-27.26zM267.38 441.25h11.68v3.87h-11.68zM294.64 441.25h11.68v3.87h-11.68zM267.38 445.12h7.79v3.88h-7.79zM294.64 445.12h15.57v3.88h-15.57z"/>
<path fill="#ffcb00" d="M279.06 441.25h15.58v3.87h-15.58zM275.17 445.12h19.47v3.88h-19.47z"/>
</g>
<g id="soil" filter="url(#soft)">
<rect x="391.20" y="325.00" width="123.80" height="124.50" fill="#18ff64"/>
<path fill="#0aff6e" d="M418.28 422.27h3.87v3.89h-3.87zM433.76 422.27h3.86v3.89h-3.86z"/>
<path fill="#27ff5a" d="M391.2 383.36h3.87v3.89h-3.87zM391.2 387.25h15.48v3.89h-15.48zM391.2 391.14h27.08v3.89h-27.08zM391.2 395.03h38.69v3.89h-38.69zM391.2 398.92h11.61v3.89h-11.61zM422.15 398.92h15.47v3.89h-15.47zM429.89 402.81h11.6v3.89h-11.6zM437.62 406.7h11.61v3.89h-11.61zM441.49 410.59h11.61v3.89h-11.61zM445.36 414.48h7.74v3.9h-7.74zM449.23 418.38h3.87v3.89h-3.87zM449.23 422.27h3.87v3.89h-3.87zM449.23 426.16h3.87v3.89h-3.87zM449.23 430.05h3.87v3.89h-3.87zM445.36 433.94h7.74v3.89h-7.74zM445.36 437.83h7.74v3.89h-7.74zM445.36 441.72h7.74v3.89h-7.74zM445.36 445.61h7.74v3.89h-7.74z"/>
<path fill="#38ff4d" d="M391.2 325h15.48v3.89h-15.48zM391.2 328.89h15.48v3.89h-15.48zM391.2 332.78h11.61v3.89h-11.61zM391.2 336.67h11.61v3.89h-11.61zM391.2 340.56h7.74v3.89h-7.74zM391.2 367.8h7.74v3.89h-7.74zM391.2 371.69h11.61v3.89h-11.61zM391.2 375.58h11.61v3.89h-11.61zM391.2 379.47h15.48v3.89h-15.48zM395.07 383.36h15.47v3.89h-15.47zM406.68 387.25h15.47v3.89h-15.47zM418.28 391.14h11.61v3.89h-11.61zM429.89 395.03h7.73v3.89h-7.73zM437.62 398.92h7.74v3.89h-7.74zM441.49 402.81h7.74v3.89h-7.74zM449.23 406.7h7.74v3.89h-7.74zM453.1 410.59h7.74v3.89h-7.74zM453.1 414.48h7.74v3.9h-7.74zM453.1 418.38h7.74v3.89h-7.74zM453.1 422.27h3.87v3.89h-3.87zM453.1 426.16h3.87v3.89h-3.87zM453.1 430.05h3.87v3.89h-3.87zM453.1 433.94h3.87v3.89h-3.87zM453.1 437.83h3.87v3.89h-3.87zM453.1 441.72h3.87v3.89h-3.87zM453.1 445.61h3.87v3.89h-3.87z"/>
<path fill="#4aff3e" d="M406.68 325h7.73v3.89h-7.73zM406.68 328.89h3.86v3.89h-3.86zM402.81 332.78h7.73v3.89h-7.73zM402.81 336.67h7.73v3.89h-7.73zM398.94 340.56h7.74v3.89h-7.74zM391.2 344.45h15.48v3.89h-15.48zM391.2 348.34h15.48v3.89h-15.48zM391.2 352.23h11.61v3.89h-11.61zM391.2 356.12h11.61v3.9h-11.61zM391.2 360.02h15.48v3.89h-15.48zM391.2 363.91h15.48v3.89h-15.48zM398.94 367.8h7.74v3.89h-7.74zM402.81 371.69h7.73v3.89h-7.73zM402.81 375.58h7.73v3.89h-7.73zM406.68 379.47h7.73v3.89h-7.73zM410.54 383.36h11.61v3.89h-11.61zM422.15 387.25h7.74v3.89h-7.74zM429.89 391.14h11.6v3.89h-11.6zM437.62 395.03h7.74v3.89h-7.74zM445.36 398.92h7.74v3.89h-7.74zM449.23 402.81h7.74v3.89h-7.74zM456.97 406.7h7.74v3.89h-7.74zM460.84 410.59h3.87v3.89h-3.87zM460.84 414.48h7.73v3.9h-7.73zM460.84 418.38h7.73v3.89h-7.73zM456.97 422.27h11.6v3.89h-11.6zM456.97 426.16h11.6v3.89h-11.6zM456.97 430.05h11.6v3.89h-11.6zM456.97 433.94h11.6v3.89h-11.6zM456.97 437.83h11.6v3.89h-11.6zM456.97 441.72h11.6v3.89h-11.6zM456.97 445.61h11.6v3.89h-11.6z"/>
<path fill="#5dff2f" d="M414.41 325h7.74v3.89h-7.74zM410.54 328.89h7.74v3.89h-7.74zM410.54 332.78h7.74v3.89h-7.74zM410.54 336.67h7.74v3.89h-7.74zM406.68 340.56h7.73v3.89h-7.73zM406.68 344.45h7.73v3.89h-7.73zM406.68 348.34h3.86v3.89h-3.86zM402.81 352.23h7.73v3.89h-7.73zM402.81 356.12h7.73v3.9h-7.73zM406.68 360.02h3.86v3.89h-3.86zM406.68 363.91h7.73v3.89h-7.73zM406.68 367.8h7.73v3.89h-7.73zM410.54 371.69h3.87v3.89h-3.87zM410.54 375.58h7.74v3.89h-7.74zM414.41 379.47h7.74v3.89h-7.74zM422.15 383.36h7.74v3.89h-7.74zM429.89 387.25h11.6v3.89h-11.6zM441.49 391.14h3.87v3.89h-3.87zM445.36 395.03h7.74v3.89h-7.74zM453.1 398.92h7.74v3.89h-7.74zM456.97 402.81h11.6v3.89h-11.6zM464.71 406.7h7.73v3.89h-7.73zM464.71 410.59h11.6v3.89h-11.6zM468.57 414.48h11.61v3.9h-11.61zM468.57 418.38h15.48v3.89h-15.48zM468.57 422.27h19.35v3.89h-19.35zM468.57 426.16h19.35v3.89h-19.35zM468.57 430.05h19.35v3.89h-19.35zM468.57 433.94h19.35v3.89h-19.35zM468.57 437.83h19.35v3.89h-19.35zM468.57 441.72h19.35v3.89h-19.35zM468.57 445.61h19.35v3.89h-19.35z"/>
<path fill="#72ff1f" d="M422.15 325h7.74v3.89h-7.74zM418.28 328.89h11.61v3.89h-11.61zM418.28 332.78h7.74v3.89h-7.74zM418.28 336.67h7.74v3.89h-7.74zM414.41 340.56h7.74v3.89h-7.74zM414.41 344.45h3.87v3.89h-3.87zM410.54 348.34h7.74v3.89h-7.74zM410.54 352.23h7.74v3.89h-7.74zM410.54 356.12h7.74v3.9h-7.74zM410.54 360.02h7.74v3.89h-7.74zM414.41 363.91h3.87v3.89h-3.87zM414.41 367.8h3.87v3.89h-3.87zM414.41 371.69h7.74v3.89h-7.74zM418.28 375.58h7.74v3.89h-7.74zM422.15 379.47h7.74v3.89h-7.74zM429.89 383.36h11.6v3.89h-11.6zM441.49 387.25h7.74v3.89h-7.74zM445.36 391.14h11.61v3.89h-11.61zM453.1 395.03h7.74v3.89h-7.74zM460.84 398.92h7.73v3.89h-7.73zM468.57 402.81h7.74v3.89h-7.74zM472.44 406.7h11.61v3.89h-11.61zM476.31 410.59h15.48v3.89h-15.48zM480.18 414.48h15.48v3.9h-15.48zM484.05 418.38h15.47v3.89h-15.47zM487.92 422.27h11.6v3.89h-11.6zM487.92 426.16h15.47v3.89h-15.47zM487.92 430.05h15.47v3.89h-15.47zM487.92 433.94h15.47v3.89h-15.47zM487.92 437.83h15.47v3.89h-15.47zM487.92 441.72h11.6v3.89h-11.6zM487.92 445.61h11.6v3.89h-11.6z"/>
<path fill="#87ff0e" d="M429.89 325h7.73v3.89h-7.73zM429.89 328.89h7.73v3.89h-7.73zM426.02 332.78h7.74v3.89h-7.74zM426.02 336.67h7.74v3.89h-7.74zM422.15 340.56h7.74v3.89h-7.74zM418.28 344.45h11.61v3.89h-11.61zM418.28 348.34h7.74v3.89h-7.74zM418.28 352.23h7.74v3.89h-7.74zM418.28 356.12h7.74v3.9h-7.74zM418.28 360.02h7.74v3.89h-7.74zM418.28 363.91h7.74v3.89h-7.74zM418.28 367.8h11.61v3.89h-11.61zM422.15 371.69h7.74v3.89h-7.74zM426.02 375.58h11.6v3.89h-11.6zM429.89 379.47h15.47v3.89h-15.47zM441.49 383.36h11.61v3.89h-11.61zM449.23 387.25h11.61v3.89h-11.61zM456.97 391.14h11.6v3.89h-11.6zM460.84 395.03h15.47v3.89h-15.47zM468.57 398.92h15.48v3.89h-15.48zM476.31 402.81h19.35v3.89h-19.35zM484.05 406.7h15.47v3.89h-15.47zM491.79 410.59h11.6v3.89h-11.6zM495.66 414.48h19.34v3.9h-19.34zM499.52 418.38h15.48v3.89h-15.48zM499.52 422.27h15.48v3.89h-15.48zM503.39 426.16h11.61v3.89h-11.61zM503.39 430.05h11.61v3.89h-11.61zM503.39 433.94h11.61v3.89h-11.61zM503.39 437.83h11.61v3.89h-11.61zM499.52 441.72h15.48v3.89h-15.48zM499.52 445.61h15.48v3.89h-15.48z"/>
<path fill="#98ff08" d="M437.62 325h7.74v3.89h-7.74zM437.62 328.89h7.74v3.89h-7.74zM433.76 332.78h11.6v3.89h-11.6zM433.76 336.67h11.6v3.89h-11.6zM429.89 340.56h15.47v3.89h-15.47zM429.89 344.45h11.6v3.89h-11.6zM426.02 348.34h15.47v3.89h-15.47zM426.02 352.23h15.47v3.89h-15.47zM426.02 356.12h15.47v3.9h-15.47zM426.02 360.02h15.47v3.89h-15.47zM426.02 363.91h19.34v3.89h-19.34zM429.89 367.8h15.47v3.89h-15.47zM429.89 371.69h19.34v3.89h-19.34zM437.62 375.58h15.48v3.89h-15.48zM445.36 379.47h15.48v3.89h-15.48zM453.1 383.36h15.47v3.89h-15.47zM460.84 387.25h15.47v3.89h-15.47zM468.57 391.14h15.48v3.89h-15.48zM476.31 395.03h19.35v3.89h-19.35zM507.26 395.03h7.74v3.89h-7.74zM484.05 398.92h30.95v3.89h-30.95zM495.66 402.81h19.34v3.89h-19.34zM499.52 406.7h15.48v3.89h-15.48zM503.39 410.59h11.61v3.89h-11.61z"/>
<path fill="#a8ff05" d="M445.36 325h7.74v3.89h-7.74zM445.36 328.89h7.74v3.89h-7.74zM445.36 332.78h7.74v3.89h-7.74zM445.36 336.67h7.74v3.89h-7.74zM445.36 340.56h7.74v3.89h-7.74zM441.49 344.45h11.61v3.89h-11.61zM441.49 348.34h11.61v3.89h-11.61zM441.49 352.23h11.61v3.89h-11.61zM441.49 356.12h11.61v3.9h-11.61zM441.49 360.02h11.61v3.89h-11.61zM445.36 363.91h7.74v3.89h-7.74zM445.36 367.8h11.61v3.89h-11.61zM449.23 371.69h11.61v3.89h-11.61zM453.1 375.58h15.47v3.89h-15.47zM460.84 379.47h15.47v3.89h-15.47zM468.57 383.36h15.48v3.89h-15.48zM476.31 387.25h15.48v3.89h-15.48zM499.52 387.25h15.48v3.89h-15.48zM484.05 391.14h30.95v3.89h-30.95zM495.66 395.03h11.6v3.89h-11.6z"/>
<path fill="#b7ff03" d="M453.1 325h7.74v3.89h-7.74zM453.1 328.89h7.74v3.89h-7.74zM453.1 332.78h7.74v3.89h-7.74zM453.1 336.67h7.74v3.89h-7.74zM453.1 340.56h7.74v3.89h-7.74zM453.1 344.45h7.74v3.89h-7.74zM453.1 348.34h7.74v3.89h-7.74zM453.1 352.23h3.87v3.89h-3.87zM453.1 356.12h3.87v3.9h-3.87zM453.1 360.02h7.74v3.89h-7.74zM453.1 363.91h7.74v3.89h-7.74zM456.97 367.8h11.6v3.89h-11.6zM460.84 371.69h15.47v3.89h-15.47zM468.57 375.58h15.48v3.89h-15.48zM476.31 379.47h38.69v3.89h-38.69zM484.05 383.36h30.95v3.89h-30.95zM491.79 387.25h7.73v3.89h-7.73z"/>
<path fill="#c7ff00" d="M460.84 325h15.47v3.89h-15.47zM460.84 328.89h15.47v3.89h-15.47zM460.84 332.78h15.47v3.89h-15.47zM460.84 336.67h15.47v3.89h-15.47zM460.84 340.56h15.47v3.89h-15.47zM460.84 344.45h15.47v3.89h-15.47zM460.84 348.34h15.47v3.89h-15.47zM456.97 352.23h15.47v3.89h-15.47zM456.97 356.12h11.6v3.9h-11.6zM460.84 360.02h11.6v3.89h-11.6zM460.84 363.91h54.16v3.89h-54.16zM468.57 367.8h46.43v3.89h-46.43zM476.31 371.69h38.69v3.89h-38.69zM484.05 375.58h30.95v3.89h-30.95z"/>
<path fill="#d5fd00" d="M476.31 325h15.48v3.89h-15.48zM476.31 328.89h15.48v3.89h-15.48zM476.31 332.78h15.48v3.89h-15.48zM476.31 336.67h15.48v3.89h-15.48zM476.31 340.56h15.48v3.89h-15.48zM476.31 344.45h15.48v3.89h-15.48zM476.31 348.34h38.69v3.89h-38.69zM472.44 352.23h42.56v3.89h-42.56zM468.57 356.12h46.43v3.9h-46.43zM472.44 360.02h42.56v3.89h-42.56z"/>
<path fill="#e3fa00" d="M491.79 325h15.47v3.89h-15.47zM491.79 328.89h15.47v3.89h-15.47zM491.79 332.78h23.21v3.89h-23.21zM491.79 336.67h23.21v3.89h-23.21zM491.79 340.56h23.21v3.89h-23.21zM491.79 344.45h23.21v3.89h-23.21z"/>
<path fill="#f1f800" d="M507.26 325h7.74v3.89h-7.74zM507.26 328.89h7.74v3.89h-7.74z"/>
</g>
<g id="vwind" filter="url(#soft)">
<rect x="3.60" y="487.70" width="124.10" height="123.90" fill="#07ff7a"/>
<path fill="#0087ff" d="M123.82 487.7h3.88v3.87h-3.88zM123.82 491.57h3.88v3.87h-3.88zM123.82 495.44h3.88v3.88h-3.88z"/>
<path fill="#0092ff" d="M116.07 487.7h7.75v3.87h-7.75zM116.07 491.57h7.75v3.87h-7.75zM116.07 495.44h7.75v3.88h-7.75zM116.07 499.32h11.63v3.87h-11.63zM119.94 503.19h7.76v3.87h-7.76zM119.94 507.06h7.76v3.87h-7.76z"/>
<path fill="#009eff" d="M112.19 487.7h3.88v3.87h-3.88zM112.19 491.57h3.88v3.87h-3.88zM112.19 495.44h3.88v3.88h-3.88zM112.19 499.32h3.88v3.87h-3.88zM116.07 503.19h3.87v3.87h-3.87zM116.07 507.06h3.87v3.87h-3.87zM116.07 510.93h11.63v3.87h-11.63zM119.94 514.8h7.76v3.87h-7.76z"/>
<path fill="#00aaff" d="M108.31 487.7h3.88v3.87h-3.88zM108.31 491.57h3.88v3.87h-3.88zM112.19 503.19h3.88v3.87h-3.88zM112.19 507.06h3.88v3.87h-3.88zM112.19 510.93h3.88v3.87h-3.88zM116.07 514.8h3.87v3.87h-3.87zM119.94 518.67h7.76v3.88h-7.76z"/>
<path fill="#00b6ff" d="M108.31 495.44h3.88v3.88h-3.88zM108.31 499.32h3.88v3.87h-3.88zM108.31 503.19h3.88v3.87h-3.88zM108.31 507.06h3.88v3.87h-3.88zM112.19 514.8h3.88v3.87h-3.88zM116.07 518.67h3.87v3.88h-3.87zM119.94 522.55h7.76v3.87h-7.76z"/>
<path fill="#00c3ff" d="M104.43 487.7h3.88v3.87h-3.88zM104.43 491.57h3.88v3.87h-3.88zM104.43 495.44h3.88v3.88h-3.88zM104.43 499.32h3.88v3.87h-3.88zM104.43 503.19h3.88v3.87h-3.88zM108.31 510.93h3.88v3.87h-3.88zM108.31 514.8h3.88v3.87h-3.88zM112.19 518.67h3.88v3.88h-3.88zM112.19 522.55h7.75v3.87h-7.75zM116.07 526.42h11.63v3.87h-11.63z"/>
<path fill="#00cfff" d="M100.55 487.7h3.88v3.87h-3.88zM100.55 491.57h3.88v3.87h-3.88zM100.55 495.44h3.88v3.88h-3.88zM104.43 507.06h3.88v3.87h-3.88zM104.43 510.93h3.88v3.87h-3.88zM108.31 518.67h3.88v3.88h-3.88zM112.19 526.42h3.88v3.87h-3.88zM116.07 530.29h11.63v3.87h-11.63z"/>
<path fill="#00dcff" d="M100.55 499.32h3.88v3.87h-3.88zM100.55 503.19h3.88v3.87h-3.88zM100.55 507.06h3.88v3.87h-3.88zM100.55 510.93h3.88v3.87h-3.88zM104.43 514.8h3.88v3.87h-3.88zM104.43 518.67h3.88v3.88h-3.88zM108.31 522.55h3.88v3.87h-3.88zM108.31 526.42h3.88v3.87h-3.88zM112.19 530.29h3.88v3.87h-3.88zM116.07 534.16h11.63v3.87h-11.63z"/>
<path fill="#00e8fe" d="M96.67 487.7h3.88v3.87h-3.88zM96.67 491.57h3.88v3.87h-3.88zM96.67 495.44h3.88v3.88h-3.88zM96.67 499.32h3.88v3.87h-3.88zM96.67 503.19h3.88v3.87h-3.88zM96.67 507.06h3.88v3.87h-3.88zM96.67 510.93h3.88v3.87h-3.88zM100.55 514.8h3.88v3.87h-3.88zM100.55 518.67h3.88v3.88h-3.88zM104.43 522.55h3.88v3.87h-3.88zM104.43 526.42h3.88v3.87h-3.88zM108.31 530.29h3.88v3.87h-3.88zM112.19 534.16h3.88v3.87h-3.88zM116.07 538.03h11.63v3.88h-11.63z"/>
<path fill="#00ecf2" d="M92.8 487.7h3.87v3.87h-3.87zM92.8 491.57h3.87v3.87h-3.87zM92.8 495.44h3.87v3.88h-3.87zM92.8 499.32h3.87v3.87h-3.87zM92.8 503.19h3.87v3.87h-3.87zM92.8 507.06h3.87v3.87h-3.87zM92.8 510.93h3.87v3.87h-3.87zM96.67 514.8h3.88v3.87h-3.88zM96.67 518.67h3.88v3.88h-3.88zM100.55 522.55h3.88v3.87h-3.88zM100.55 526.42h3.88v3.87h-3.88zM104.43 530.29h3.88v3.87h-3.88zM104.43 534.16h7.76v3.87h-7.76zM108.31 538.03h7.76v3.88h-7.76zM112.19 541.91h15.51v3.87h-15.51z"/>
<path fill="#00f0e5" d="M88.92 487.7h3.88v3.87h-3.88zM88.92 491.57h3.88v3.87h-3.88zM88.92 495.44h3.88v3.88h-3.88zM88.92 499.32h3.88v3.87h-3.88zM88.92 503.19h3.88v3.87h-3.88zM88.92 507.06h3.88v3.87h-3.88zM88.92 510.93h3.88v3.87h-3.88zM88.92 514.8h7.75v3.87h-7.75zM92.8 518.67h3.87v3.88h-3.87zM92.8 522.55h7.75v3.87h-7.75zM96.67 526.42h3.88v3.87h-3.88zM96.67 530.29h7.76v3.87h-7.76zM100.55 534.16h3.88v3.87h-3.88zM104.43 538.03h3.88v3.88h-3.88zM104.43 541.91h7.76v3.87h-7.76zM108.31 545.78h19.39v3.87h-19.39z"/>
<path fill="#00f4d9" d="M85.04 487.7h3.88v3.87h-3.88zM85.04 491.57h3.88v3.87h-3.88zM85.04 495.44h3.88v3.88h-3.88zM85.04 499.32h3.88v3.87h-3.88zM85.04 503.19h3.88v3.87h-3.88zM85.04 507.06h3.88v3.87h-3.88zM85.04 510.93h3.88v3.87h-3.88zM85.04 514.8h3.88v3.87h-3.88zM85.04 518.67h7.76v3.88h-7.76zM88.92 522.55h3.88v3.87h-3.88zM88.92 526.42h7.75v3.87h-7.75zM92.8 530.29h3.87v3.87h-3.87zM92.8 534.16h7.75v3.87h-7.75zM96.67 538.03h7.76v3.88h-7.76zM96.67 541.91h7.76v3.87h-7.76zM100.55 545.78h7.76v3.87h-7.76zM100.55 549.65h27.15v3.87h-27.15z"/>
<path fill="#00f9cc" d="M77.28 487.7h7.76v3.87h-7.76zM77.28 491.57h7.76v3.87h-7.76zM77.28 495.44h7.76v3.88h-7.76zM77.28 499.32h7.76v3.87h-7.76zM77.28 503.19h7.76v3.87h-7.76zM77.28 507.06h7.76v3.87h-7.76zM77.28 510.93h7.76v3.87h-7.76zM77.28 514.8h7.76v3.87h-7.76zM77.28 518.67h7.76v3.88h-7.76zM81.16 522.55h7.76v3.87h-7.76zM81.16 526.42h7.76v3.87h-7.76zM81.16 530.29h11.64v3.87h-11.64zM85.04 534.16h7.76v3.87h-7.76zM85.04 538.03h11.63v3.88h-11.63zM88.92 541.91h7.75v3.87h-7.75zM88.92 545.78h11.63v3.87h-11.63zM88.92 549.65h11.63v3.87h-11.63zM96.67 553.52h31.03v3.87h-31.03z"/>
<path fill="#00fbc0" d="M73.41 487.7h3.87v3.87h-3.87zM73.41 491.57h3.87v3.87h-3.87zM73.41 495.44h3.87v3.88h-3.87zM73.41 499.32h3.87v3.87h-3.87zM73.41 503.19h3.87v3.87h-3.87zM73.41 507.06h3.87v3.87h-3.87zM73.41 510.93h3.87v3.87h-3.87zM73.41 514.8h3.87v3.87h-3.87zM73.41 518.67h3.87v3.88h-3.87zM73.41 522.55h7.75v3.87h-7.75zM73.41 526.42h7.75v3.87h-7.75zM73.41 530.29h7.75v3.87h-7.75zM73.41 534.16h11.63v3.87h-11.63zM73.41 538.03h11.63v3.88h-11.63zM73.41 541.91h15.51v3.87h-15.51zM73.41 545.78h15.51v3.87h-15.51zM73.41 549.65h15.51v3.87h-15.51zM81.16 553.52h15.51v3.87h-15.51zM92.8 557.39h34.9v3.88h-34.9z"/>
<path fill="#00fcb5" d="M65.65 487.7h7.76v3.87h-7.76zM65.65 491.57h7.76v3.87h-7.76zM65.65 495.44h7.76v3.88h-7.76zM65.65 499.32h7.76v3.87h-7.76zM65.65 503.19h7.76v3.87h-7.76zM65.65 507.06h7.76v3.87h-7.76zM65.65 510.93h7.76v3.87h-7.76zM65.65 514.8h7.76v3.87h-7.76zM65.65 518.67h7.76v3.88h-7.76zM65.65 522.55h7.76v3.87h-7.76zM65.65 526.42h7.76v3.87h-7.76zM65.65 530.29h7.76v3.87h-7.76zM65.65 534.16h7.76v3.87h-7.76zM65.65 538.03h7.76v3.88h-7.76zM65.65 541.91h7.76v3.87h-7.76zM65.65 545.78h7.76v3.87h-7.76zM65.65 549.65h7.76v3.87h-7.76zM65.65 553.52h15.51v3.87h-15.51zM77.28 557.39h15.52v3.88h-15.52zM100.55 561.27h27.15v3.87h-27.15z"/>
<path fill="#00fda9" d="M54.02 487.7h11.63v3.87h-11.63zM54.02 491.57h11.63v3.87h-11.63zM54.02 495.44h11.63v3.88h-11.63zM54.02 499.32h11.63v3.87h-11.63zM54.02 503.19h11.63v3.87h-11.63zM54.02 507.06h11.63v3.87h-11.63zM54.02 510.93h11.63v3.87h-11.63zM54.02 514.8h11.63v3.87h-11.63zM54.02 518.67h11.63v3.88h-11.63zM54.02 522.55h11.63v3.87h-11.63zM54.02 526.42h11.63v3.87h-11.63zM54.02 530.29h11.63v3.87h-11.63zM54.02 534.16h11.63v3.87h-11.63zM54.02 538.03h11.63v3.88h-11.63zM54.02 541.91h11.63v3.87h-11.63zM54.02 545.78h11.63v3.87h-11.63zM50.14 549.65h15.51v3.87h-15.51zM50.14 553.52h15.51v3.87h-15.51zM54.02 557.39h23.26v3.88h-23.26zM77.28 561.27h23.27v3.87h-23.27z"/>
<path fill="#00fe9d" d="M46.26 487.7h7.76v3.87h-7.76zM46.26 491.57h7.76v3.87h-7.76zM46.26 495.44h7.76v3.88h-7.76zM46.26 499.32h7.76v3.87h-7.76zM46.26 503.19h7.76v3.87h-7.76zM46.26 507.06h7.76v3.87h-7.76zM46.26 510.93h7.76v3.87h-7.76zM46.26 514.8h7.76v3.87h-7.76zM42.38 518.67h11.64v3.88h-11.64zM38.5 522.55h15.52v3.87h-15.52zM38.5 526.42h15.52v3.87h-15.52zM38.5 530.29h15.52v3.87h-15.52zM38.5 534.16h15.52v3.87h-15.52zM38.5 538.03h15.52v3.88h-15.52zM38.5 541.91h15.52v3.87h-15.52zM38.5 545.78h15.52v3.87h-15.52zM38.5 549.65h11.64v3.87h-11.64zM38.5 553.52h11.64v3.87h-11.64zM38.5 557.39h15.52v3.88h-15.52zM42.38 561.27h34.9v3.87h-34.9zM92.8 565.14h34.9v3.87h-34.9z"/>
<path fill="#01ff91" d="M38.5 487.7h7.76v3.87h-7.76zM38.5 491.57h7.76v3.87h-7.76zM38.5 495.44h7.76v3.88h-7.76zM38.5 499.32h7.76v3.87h-7.76zM42.38 503.19h3.88v3.87h-3.88zM38.5 507.06h7.76v3.87h-7.76zM38.5 510.93h7.76v3.87h-7.76zM38.5 514.8h7.76v3.87h-7.76zM34.62 518.67h7.76v3.88h-7.76zM30.75 522.55h7.75v3.87h-7.75zM30.75 526.42h7.75v3.87h-7.75zM30.75 530.29h7.75v3.87h-7.75zM30.75 534.16h7.75v3.87h-7.75zM30.75 538.03h7.75v3.88h-7.75zM30.75 541.91h7.75v3.87h-7.75zM30.75 545.78h7.75v3.87h-7.75zM30.75 549.65h7.75v3.87h-7.75zM30.75 553.52h7.75v3.87h-7.75zM30.75 557.39h7.75v3.88h-7.75zM30.75 561.27h11.63v3.87h-11.63zM38.5 565.14h54.3v3.87h-54.3z"/>
<path fill="#04ff86" d="M30.75 487.7h7.75v3.87h-7.75zM30.75 491.57h7.75v3.87h-7.75zM30.75 495.44h7.75v3.88h-7.75zM30.75 499.32h7.75v3.87h-7.75zM34.62 503.19h7.76v3.87h-7.76zM30.75 507.06h7.75v3.87h-7.75zM30.75 510.93h7.75v3.87h-7.75zM30.75 514.8h7.75v3.87h-7.75zM26.87 518.67h7.75v3.88h-7.75zM22.99 522.55h7.76v3.87h-7.76zM22.99 526.42h7.76v3.87h-7.76zM22.99 530.29h7.76v3.87h-7.76zM22.99 534.16h7.76v3.87h-7.76zM22.99 538.03h7.76v3.88h-7.76zM22.99 541.91h7.76v3.87h-7.76zM22.99 545.78h7.76v3.87h-7.76zM22.99 549.65h7.76v3.87h-7.76zM22.99 553.52h7.76v3.87h-7.76zM22.99 557.39h7.76v3.88h-7.76zM22.99 561.27h7.76v3.87h-7.76zM22.99 565.14h15.51v3.87h-15.51zM30.75 569.01h34.9v3.87h-34.9zM108.31 569.01h19.39v3.87h-19.39z"/>
<path fill="#0aff6e" d="M19.11 487.7h3.88v3.87h-3.88zM15.23 491.57h7.76v3.87h-7.76zM15.23 495.44h7.76v3.88h-7.76zM15.23 499.32h7.76v3.87h-7.76zM3.6 503.19h19.39v3.87h-19.39zM3.6 507.06h19.39v3.87h-19.39zM3.6 510.93h19.39v3.87h-19.39zM3.6 514.8h15.51v3.87h-15.51zM3.6 518.67h15.51v3.88h-15.51zM3.6 522.55h15.51v3.87h-15.51zM3.6 526.42h11.63v3.87h-11.63zM3.6 530.29h11.63v3.87h-11.63zM3.6 534.16h7.76v3.87h-7.76zM3.6 565.14h7.76v3.87h-7.76zM3.6 569.01h11.63v3.87h-11.63zM3.6 572.88h58.17v3.87h-58.17zM119.94 572.88h7.76v3.87h-7.76z"/>
<path fill="#18ff64" d="M3.6 487.7h15.51v3.87h-15.51zM3.6 491.57h11.63v3.87h-11.63zM3.6 495.44h11.63v3.88h-11.63zM3.6 499.32h11.63v3.87h-11.63zM61.77 572.88h27.15v3.87h-27.15zM104.43 572.88h15.51v3.87h-15.51zM3.6 576.75h31.02v3.87h-31.02z"/>
<path fill="#27ff5a" d="M88.92 572.88h15.51v3.87h-15.51zM34.62 576.75h15.52v3.87h-15.52zM3.6 580.62h23.27v3.88h-23.27zM3.6 584.5h7.76v3.87h-7.76z"/>
<path fill="#38ff4d" d="M50.14 576.75h11.63v3.87h-11.63zM123.82 576.75h3.88v3.87h-3.88zM26.87 580.62h7.75v3.88h-7.75zM11.36 584.5h11.63v3.87h-11.63zM3.6 588.37h7.76v3.87h-7.76z"/>
<path fill="#4aff3e" d="M61.77 576.75h15.51v3.87h-15.51zM108.31 576.75h15.51v3.87h-15.51zM34.62 580.62h7.76v3.88h-7.76zM22.99 584.5h7.76v3.87h-7.76zM11.36 588.37h7.75v3.87h-7.75zM3.6 592.24h11.63v3.87h-11.63z"/>
<path fill="#5dff2f" d="M77.28 576.75h31.03v3.87h-31.03zM42.38 580.62h11.64v3.88h-11.64zM30.75 584.5h3.87v3.87h-3.87zM19.11 588.37h7.76v3.87h-7.76zM15.23 592.24h3.88v3.87h-3.88zM3.6 596.11h11.63v3.87h-11.63zM3.6 599.98h7.76v3.88h-7.76z"/>
<path fill="#72ff1f" d="M54.02 580.62h7.75v3.88h-7.75zM34.62 584.5h7.76v3.87h-7.76zM26.87 588.37h3.88v3.87h-3.88zM19.11 592.24h7.76v3.87h-7.76zM15.23 596.11h7.76v3.87h-7.76zM11.36 599.98h7.75v3.88h-7.75zM3.6 603.86h11.63v3.87h-11.63zM3.6 607.73h11.63v3.87h-11.63z"/>
<path fill="#87ff0e" d="M61.77 580.62h11.64v3.88h-11.64zM112.19 580.62h15.51v3.88h-15.51zM42.38 584.5h3.88v3.87h-3.88zM30.75 588.37h7.75v3.87h-7.75zM26.87 592.24h3.88v3.87h-3.88zM22.99 596.11h3.88v3.87h-3.88zM19.11 599.98h3.88v3.88h-3.88zM15.23 603.86h3.88v3.87h-3.88zM15.23 607.73h3.88v3.87h-3.88z"/>
<path fill="#98ff08" d="M73.41 580.62h38.78v3.88h-38.78zM46.26 584.5h7.76v3.87h-7.76zM38.5 588.37h3.88v3.87h-3.88zM30.75 592.24h3.87v3.87h-3.87zM26.87 596.11h3.88v3.87h-3.88zM22.99 599.98h3.88v3.88h-3.88zM19.11 603.86h7.76v3.87h-7.76zM19.11 607.73h7.76v3.87h-7.76z"/>
<path fill="#a8ff05" d="M54.02 584.5h7.75v3.87h-7.75zM42.38 588.37h3.88v3.87h-3.88zM34.62 592.24h3.88v3.87h-3.88zM30.75 596.11h3.87v3.87h-3.87zM26.87 599.98h3.88v3.88h-3.88zM26.87 603.86h3.88v3.87h-3.88zM26.87 607.73h3.88v3.87h-3.88z"/>
<path fill="#b7ff03" d="M61.77 584.5h7.76v3.87h-7.76zM46.26 588.37h3.88v3.87h-3.88zM38.5 592.24h3.88v3.87h-3.88zM34.62 596.11h3.88v3.87h-3.88zM30.75 599.98h3.87v3.88h-3.87zM30.75 603.86h3.87v3.87h-3.87zM30.75 607.73h3.87v3.87h-3.87z"/>
<path fill="#c7ff00" d="M69.53 584.5h11.63v3.87h-11.63zM108.31 584.5h19.39v3.87h-19.39zM50.14 588.37h3.88v3.87h-3.88zM42.38 592.24h3.88v3.87h-3.88zM38.5 596.11h3.88v3.87h-3.88zM34.62 599.98h3.88v3.88h-3.88zM34.62 603.86h3.88v3.87h-3.88zM34.62 607.73h3.88v3.87h-3.88z"/>
<path fill="#d5fd00" d="M81.16 584.5h27.15v3.87h-27.15zM54.02 588.37h7.75v3.87h-7.75zM46.26 592.24h3.88v3.87h-3.88zM42.38 596.11h3.88v3.87h-3.88zM38.5 599.98h3.88v3.88h-3.88zM38.5 603.86h3.88v3.87h-3.88zM38.5 607.73h3.88v3.87h-3.88z"/>
<path fill="#e3fa00" d="M61.77 588.37h7.76v3.87h-7.76zM50.14 592.24h3.88v3.87h-3.88zM46.26 596.11h3.88v3.87h-3.88zM42.38 599.98h3.88v3.88h-3.88zM42.38 603.86h3.88v3.87h-3.88zM42.38 607.73h3.88v3.87h-3.88z"/>
<path fill="#f1f800" d="M69.53 588.37h7.75v3.87h-7.75zM116.07 588.37h11.63v3.87h-11.63zM54.02 592.24h3.87v3.87h-3.87zM50.14 596.11h3.88v3.87h-3.88zM46.26 599.98h3.88v3.88h-3.88zM46.26 603.86h3.88v3.87h-3.88z"/>
<path fill="#fff500" d="M77.28 588.37h38.79v3.87h-38.79zM57.89 592.24h7.76v3.87h-7.76zM54.02 596.11h3.87v3.87h-3.87zM50.14 599.98h3.88v3.88h-3.88zM46.26 607.73h3.88v3.87h-3.88z"/>
<path fill="#ffeb00" d="M65.65 592.24h3.88v3.87h-3.88zM57.89 596.11h3.88v3.87h-3.88zM54.02 599.98h3.87v3.88h-3.87zM50.14 603.86h3.88v3.87h-3.88zM50.14 607.73h3.88v3.87h-3.88z"/>
<path fill="#ffe000" d="M69.53 592.24h11.63v3.87h-11.63zM119.94 592.24h7.76v3.87h-7.76zM61.77 596.11h3.88v3.87h-3.88zM57.89 599.98h3.88v3.88h-3.88zM54.02 603.86h3.87v3.87h-3.87zM54.02 607.73h3.87v3.87h-3.87z"/>
<path fill="#ffd500" d="M81.16 592.24h15.51v3.87h-15.51zM104.43 592.24h15.51v3.87h-15.51zM65.65 596.11h3.88v3.87h-3.88zM57.89 603.86h3.88v3.87h-3.88zM57.89 607.73h3.88v3.87h-3.88z"/>
<path fill="#ffcb00" d="M96.67 592.24h7.76v3.87h-7.76zM69.53 596.11h7.75v3.87h-7.75zM61.77 599.98h7.76v3.88h-7.76zM61.77 603.86h3.88v3.87h-3.88zM61.77 607.73h3.88v3.87h-3.88z"/>
<path fill="#ffc000" d="M77.28 596.11h11.64v3.87h-11.64zM116.07 596.11h11.63v3.87h-11.63zM69.53 599.98h3.88v3.88h-3.88zM65.65 603.86h3.88v3.87h-3.88z"/>
<path fill="#ffb600" d="M88.92 596.11h27.15v3.87h-27.15zM73.41 599.98h7.75v3.88h-7.75zM69.53 603.86h3.88v3.87h-3.88zM65.65 607.73h7.76v3.87h-7.76z"/>
<path fill="#ffab00" d="M81.16 599.98h7.76v3.88h-7.76zM116.07 599.98h11.63v3.88h-11.63zM73.41 603.86h7.75v3.87h-7.75zM73.41 607.73h3.87v3.87h-3.87z"/>
<path fill="#ffa100" d="M88.92 599.98h27.15v3.88h-27.15zM81.16 603.86h7.76v3.87h-7.76zM119.94 603.86h7.76v3.87h-7.76zM77.28 607.73h7.76v3.87h-7.76z"/>
<path fill="#ff9800" d="M88.92 603.86h11.63v3.87h-11.63zM104.43 603.86h15.51v3.87h-15.51zM85.04 607.73h11.63v3.87h-11.63zM112.19 607.73h15.51v3.87h-15.51z"/>
<path fill="#ff8f00" d="M100.55 603.86h3.88v3.87h-3.88zM96.67 607.73h15.52v3.87h-15.52z"/>
</g>
<g id="prefire" filter="url(#soft)"><rect x="198.10" y="486.00" width="123.50" height="123.60" fill="#c3c3c3"/>
<path fill="#ff3000" d="M252.5 523.6h15.2v5.55h-15.2zM247.5 529.1h20.2v4.95h-20.2zM247.5 534h25.7v4.95h-25.7zM252.5 538.9h20.7v5.55h-20.7zM247.5 544.4h15.3v4.95h-15.3zM267.7 544.4h10.9v4.95h-10.9zM257.4 549.3h5.4v5.45h-5.4z"/><rect x="304.4" y="512" width="13.5" height="13.5" fill="#c6c6c6"/><rect x="304.4" y="566" width="13.5" height="15" fill="#c6c6c6"/></g>
<g id="fire" filter="url(#soft)"><rect x="386.90" y="484.60" width="123.70" height="123.30" fill="#c3c3c3"/>
<path fill="#ff3000" d="M443.1 526.5h25.6v5.45h-25.6zM448.5 531.9h20.2v5.55h-20.2zM448.5 537.4h25.7v4.95h-25.7zM443.1 542.3h31.1v5.45h-31.1zM448.5 547.7h30.6v4.95h-30.6zM443.1 552.6h36v4.95h-36zM443.1 557.5h31.1v5.55h-31.1zM448.5 563h14.8v4.95h-14.8z"/><rect x="492.7" y="510.8" width="13.1" height="13.2" fill="#c6c6c6"/><rect x="492.7" y="564.8" width="13.1" height="13.2" fill="#c6c6c6"/></g>
</g>
<rect x="136.60" y="6.00" width="6.80" height="124.40" fill="url(#jet)"/><rect x="136.60" y="6.00" width="6.80" height="124.40" fill="#000" fill-opacity=".06" stroke="#333" stroke-opacity=".55" stroke-width=".4"/>
<rect x="327.90" y="6.00" width="6.80" height="124.20" fill="url(#jet)"/><rect x="327.90" y="6.00" width="6.80" height="124.20" fill="#000" fill-opacity=".06" stroke="#333" stroke-opacity=".55" stroke-width=".4"/>
<rect x="523.60" y="6.00" width="6.90" height="124.00" fill="url(#jet)"/><rect x="523.60" y="6.00" width="6.90" height="124.00" fill="#000" fill-opacity=".06" stroke="#333" stroke-opacity=".55" stroke-width=".4"/>
<rect x="137.00" y="163.40" width="6.90" height="124.40" fill="url(#jet)"/><rect x="137.00" y="163.40" width="6.90" height="124.40" fill="#000" fill-opacity=".06" stroke="#333" stroke-opacity=".55" stroke-width=".4"/>
<rect x="326.00" y="164.50" width="6.90" height="124.30" fill="url(#jet)"/><rect x="326.00" y="164.50" width="6.90" height="124.30" fill="#000" fill-opacity=".06" stroke="#333" stroke-opacity=".55" stroke-width=".4"/>
<rect x="523.60" y="163.80" width="6.90" height="123.90" fill="url(#jet)"/><rect x="523.60" y="163.80" width="6.90" height="123.90" fill="#000" fill-opacity=".06" stroke="#333" stroke-opacity=".55" stroke-width=".4"/>
<rect x="136.60" y="326.00" width="6.80" height="124.40" fill="url(#jet)"/><rect x="136.60" y="326.00" width="6.80" height="124.40" fill="#000" fill-opacity=".06" stroke="#333" stroke-opacity=".55" stroke-width=".4"/>
<rect x="326.00" y="325.20" width="6.90" height="123.80" fill="url(#jet)"/><rect x="326.00" y="325.20" width="6.90" height="123.80" fill="#000" fill-opacity=".06" stroke="#333" stroke-opacity=".55" stroke-width=".4"/>
<rect x="523.40" y="325.20" width="6.80" height="124.30" fill="url(#jet)"/><rect x="523.40" y="325.20" width="6.80" height="124.30" fill="#000" fill-opacity=".06" stroke="#333" stroke-opacity=".55" stroke-width=".4"/>
<rect x="135.80" y="487.60" width="6.80" height="124.10" fill="url(#jet)"/><rect x="135.80" y="487.60" width="6.80" height="124.10" fill="#000" fill-opacity=".06" stroke="#333" stroke-opacity=".55" stroke-width=".4"/>
<path d="M143.4 24.2h1.6" stroke="#222" stroke-width=".4"/>
<text class="tk" x="146.3" y="25.9">1.0</text>
<path d="M143.4 119.3h1.6" stroke="#222" stroke-width=".4"/>
<text class="tk" x="146.3" y="121">0.1</text>
<path d="M334.7 22.7h1.6" stroke="#222" stroke-width=".4"/>
<text class="tk" x="337.6" y="24.4">3800.0</text>
<path d="M334.7 106h1.6" stroke="#222" stroke-width=".4"/>
<text class="tk" x="337.6" y="107.7">2800.0</text>
<path d="M530.5 9.7h1.6" stroke="#222" stroke-width=".4"/>
<text class="tk" x="533.4" y="11.4">204.0</text>
<path d="M530.5 124.9h1.6" stroke="#222" stroke-width=".4"/>
<text class="tk" x="533.4" y="126.6">0.0</text>
<path d="M143.9 204.9h1.6" stroke="#222" stroke-width=".4"/>
<text class="tk" x="146.8" y="206.6">290.0</text>
<path d="M143.9 246.6h1.6" stroke="#222" stroke-width=".4"/>
<text class="tk" x="146.8" y="248.3">280.0</text>
<path d="M332.9 190h1.6" stroke="#222" stroke-width=".4"/>
<text class="tk" x="335.8" y="191.7">800.0</text>
<path d="M332.9 288.6h1.6" stroke="#222" stroke-width=".4"/>
<text class="tk" x="335.8" y="290.3">0.0</text>
<path d="M530.5 195.2h1.6" stroke="#222" stroke-width=".4"/>
<text class="tk" x="533.4" y="196.9">4.0</text>
<path d="M530.5 257.1h1.6" stroke="#222" stroke-width=".4"/>
<text class="tk" x="533.4" y="258.8">2.0</text>
<path d="M143.4 348.2h1.6" stroke="#222" stroke-width=".4"/>
<text class="tk" x="146.3" y="349.9">3300</text>
<path d="M143.4 430.3h1.6" stroke="#222" stroke-width=".4"/>
<text class="tk" x="146.3" y="432">2900</text>
<path d="M332.9 366.2h1.6" stroke="#222" stroke-width=".4"/>
<text class="tk" x="335.8" y="367.9">0.005</text>
<path d="M332.9 428.8h1.6" stroke="#222" stroke-width=".4"/>
<text class="tk" x="335.8" y="430.5">0.002</text>
<path d="M530.2 347.5h1.6" stroke="#222" stroke-width=".4"/>
<text class="tk" x="533.1" y="349.2">25.0</text>
<path d="M530.2 436.5h1.6" stroke="#222" stroke-width=".4"/>
<text class="tk" x="533.1" y="438.2">5.0</text>
<path d="M142.6 519.1h1.6" stroke="#222" stroke-width=".4"/>
<text class="tk" x="145.5" y="520.8">2.0</text>
<path d="M142.6 580.8h1.6" stroke="#222" stroke-width=".4"/>
<text class="tk" x="145.5" y="582.5">1.0</text>
<text class="lb" x="54.8" y="156.9" textLength="26.5" lengthAdjust="spacingAndGlyphs">NDVI</text>
<text class="lb" x="135.4" y="141.7" textLength="24.3" lengthAdjust="spacingAndGlyphs">index</text>
<text class="lb" x="253.6" y="156.6" textLength="22.4" lengthAdjust="spacingAndGlyphs">DEM</text>
<text class="lb" x="320.5" y="141.7" textLength="24.2" lengthAdjust="spacingAndGlyphs">index</text>
<text class="lb" x="432.9" y="156.6" textLength="57.3" lengthAdjust="spacingAndGlyphs">Precipitation</text>
<text class="lb" x="506.2" y="141.4" textLength="30.3" lengthAdjust="spacingAndGlyphs">mm/hr</text>
<text class="lb" x="34.4" y="313.4" textLength="57.2" lengthAdjust="spacingAndGlyphs">Temperature</text>
<text class="lb" x="135.8" y="304.7" textLength="7.2" lengthAdjust="spacingAndGlyphs">K</text>
<text class="lb" x="241.1" y="313.5" textLength="37.4" lengthAdjust="spacingAndGlyphs">Drought</text>
<text class="lb" x="320" y="305.1" textLength="24.7" lengthAdjust="spacingAndGlyphs">index</text>
<text class="lb" x="441.8" y="313.5" textLength="29.8" lengthAdjust="spacingAndGlyphs">Uwind</text>
<text class="lb" x="505.4" y="304.7" textLength="16.6" lengthAdjust="spacingAndGlyphs">m/s</text>
<text class="lb" x="22.9" y="475.6" textLength="87.4" lengthAdjust="spacingAndGlyphs">Geopotential height</text>
<text class="lb" x="135.1" y="468.2" textLength="19.4" lengthAdjust="spacingAndGlyphs">gpm</text>
<text class="lb" x="241.7" y="475.6" textLength="44.2" lengthAdjust="spacingAndGlyphs">Humidity</text>
<text class="lb" x="320.6" y="468.2" textLength="59.2" lengthAdjust="spacingAndGlyphs">Mass fraction</text>
<text class="lb" x="430" y="475.8" textLength="59.8" lengthAdjust="spacingAndGlyphs">Soil humidity</text>
<text class="lb" x="505" y="468.2" textLength="33.2" lengthAdjust="spacingAndGlyphs">kg/m^2</text>
<text class="lb" x="55.6" y="623.2" textLength="29.5" lengthAdjust="spacingAndGlyphs">Vwind</text>
<text class="lb" x="135.1" y="623.2" textLength="17.1" lengthAdjust="spacingAndGlyphs">m/s</text>
<text class="lb" x="237.4" y="623.6" textLength="59.6" lengthAdjust="spacingAndGlyphs">Pre-fire Mask</text>
<text class="lb" x="441.3" y="623.6" textLength="44.9" lengthAdjust="spacingAndGlyphs">Fire Mask</text>
</svg></body></html>
